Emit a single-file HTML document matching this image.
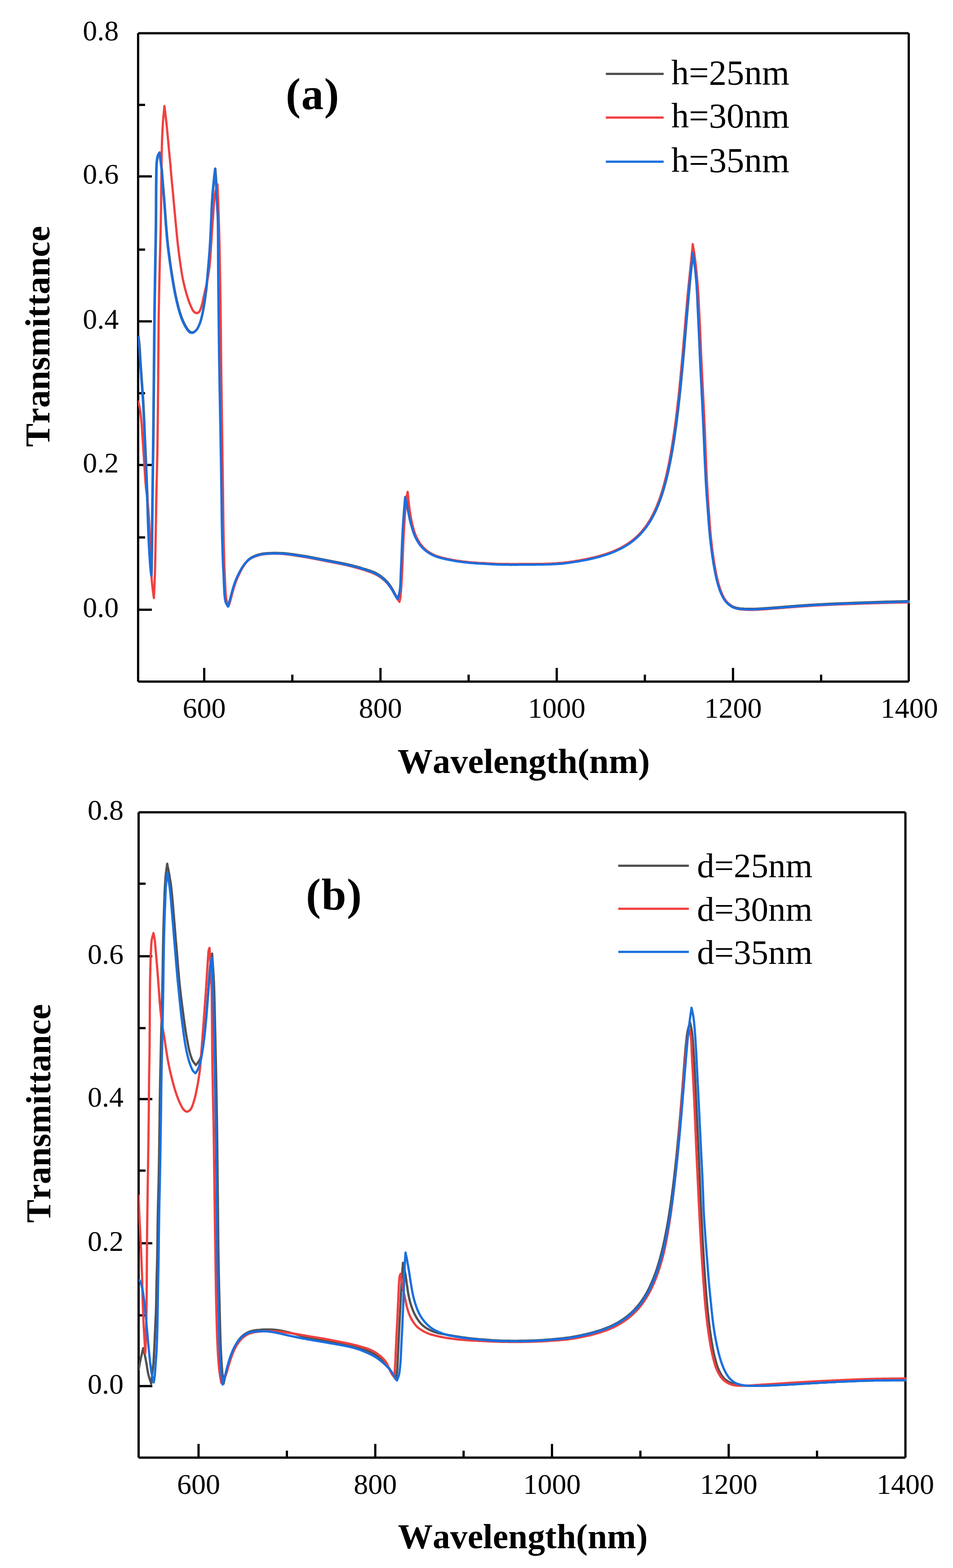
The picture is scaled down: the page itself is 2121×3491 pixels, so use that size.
<!DOCTYPE html>
<html lang="en">
<head>
<meta charset="utf-8">
<title>Transmittance spectra</title>
<style>
html,body{margin:0;padding:0;background:#fff;}
body{width:2121px;height:3491px;overflow:hidden;}
svg{display:block;font-family:"Liberation Serif",serif;font-kerning:none;}
</style>
</head>
<body>
<svg width="2121" height="3491" viewBox="0 0 2121 3491">
<rect width="2121" height="3491" fill="#fff"/>
<g>
<clipPath id="clipa"><rect x="306.9" y="73.9" width="1718.1" height="1443.6"/></clipPath>
<path d="M307.4 73.9 V1517.5 M2022.5 73.9 V1517.5 M307.4 73.9 H2022.5 M307.4 1517.5 H2022.5 M454.5 1517.5 V1487.0 M650.6 1517.5 V1502.0 M846.8 1517.5 V1487.0 M1043.0 1517.5 V1502.0 M1239.1 1517.5 V1487.0 M1435.2 1517.5 V1502.0 M1631.4 1517.5 V1487.0 M1827.5 1517.5 V1502.0 M307.4 233.6 H322.9 M307.4 392.8 H337.9 M307.4 555.8 H322.9 M307.4 715.4 H337.9 M307.4 875.4 H322.9 M307.4 1035.3 H337.9 M307.4 1196.4 H322.9 M307.4 1357.5 H337.9" fill="none" stroke="#000" stroke-width="5"/>
<g clip-path="url(#clipa)"><path d="M308.2 747.3 L308.5 750.0 L308.8 752.6 L309.1 755.2 L309.4 757.8 L309.7 760.5 L310.0 763.2 L310.3 766.0 L310.5 768.8 L310.7 771.1 L310.9 773.4 L311.1 775.8 L311.2 778.2 L311.4 780.6 L311.5 783.0 L311.6 785.5 L311.8 788.1 L311.9 790.6 L312.1 793.3 L312.2 796.0 L312.4 798.8 L312.6 801.0 L312.7 803.3 L312.9 805.7 L313.0 808.1 L313.2 810.5 L313.4 813.0 L313.5 815.6 L313.7 818.1 L313.9 820.7 L314.1 823.3 L314.3 826.0 L314.4 828.6 L314.6 831.2 L314.8 833.8 L315.0 836.4 L315.1 838.9 L315.3 841.5 L315.5 844.0 L315.7 846.4 L315.8 848.8 L316.0 851.4 L316.2 854.0 L316.4 856.6 L316.6 859.1 L316.8 861.6 L316.9 864.1 L317.1 866.6 L317.3 869.1 L317.5 871.5 L317.7 874.0 L317.8 876.5 L318.0 878.9 L318.2 881.4 L318.3 883.8 L318.5 886.3 L318.7 888.8 L318.8 891.3 L318.9 893.8 L319.1 896.2 L319.2 898.7 L319.4 901.2 L319.5 903.6 L319.6 906.1 L319.7 908.5 L319.9 911.0 L320.0 913.5 L320.1 916.0 L320.2 918.5 L320.4 921.0 L320.5 923.6 L320.6 926.2 L320.7 928.8 L320.8 931.2 L321.0 933.6 L321.1 936.0 L321.2 938.4 L321.3 940.9 L321.4 943.4 L321.5 945.9 L321.6 948.4 L321.7 950.9 L321.8 953.5 L321.9 956.0 L322.0 958.5 L322.1 961.1 L322.2 963.6 L322.3 966.2 L322.4 968.7 L322.5 971.2 L322.6 973.8 L322.8 976.3 L322.9 978.8 L323.0 981.3 L323.1 983.8 L323.2 986.2 L323.3 988.7 L323.4 991.1 L323.5 993.6 L323.6 996.0 L323.8 998.5 L323.9 1000.9 L324.0 1003.4 L324.1 1005.9 L324.2 1008.3 L324.3 1010.8 L324.4 1013.3 L324.6 1015.8 L324.7 1018.4 L324.8 1020.9 L324.9 1023.5 L325.0 1026.2 L325.1 1028.8 L325.2 1031.1 L325.3 1033.5 L325.4 1035.9 L325.5 1038.2 L325.6 1040.6 L325.7 1043.0 L325.8 1045.5 L325.9 1047.9 L326.0 1050.3 L326.1 1052.8 L326.2 1055.3 L326.3 1057.7 L326.4 1060.2 L326.5 1062.7 L326.6 1065.3 L326.7 1067.8 L326.8 1070.3 L326.9 1072.9 L327.0 1075.5 L327.1 1078.0 L327.2 1080.6 L327.3 1083.2 L327.4 1085.9 L327.5 1088.5 L327.6 1091.1 L327.7 1093.8 L327.8 1096.2 L327.9 1098.5 L328.0 1101.0 L328.1 1103.4 L328.1 1105.9 L328.2 1108.4 L328.3 1110.9 L328.4 1113.5 L328.5 1116.1 L328.6 1118.7 L328.7 1121.3 L328.7 1123.9 L328.8 1126.5 L328.9 1129.1 L329.0 1131.7 L329.1 1134.4 L329.2 1137.0 L329.2 1139.6 L329.3 1142.2 L329.4 1144.8 L329.5 1147.4 L329.6 1150.0 L329.7 1152.6 L329.8 1155.1 L329.8 1157.6 L329.9 1160.1 L330.0 1162.6 L330.1 1165.0 L330.2 1167.4 L330.3 1169.8 L330.4 1172.1 L330.5 1174.4 L330.5 1176.6 L330.6 1178.8 L330.7 1181.6 L330.9 1184.4 L331.0 1187.1 L331.1 1189.7 L331.2 1192.4 L331.3 1194.9 L331.4 1197.5 L331.5 1200.0 L331.6 1202.5 L331.7 1205.0 L331.9 1207.4 L332.0 1209.8 L332.1 1212.2 L332.2 1214.6 L332.3 1217.0 L332.5 1219.4 L332.6 1221.7 L332.7 1224.1 L332.9 1226.4 L333.0 1228.8 L333.2 1231.5 L333.3 1234.2 L333.5 1236.9 L333.7 1239.7 L333.9 1242.4 L334.1 1245.1 L334.3 1247.9 L334.5 1250.5 L334.7 1253.1 L334.8 1255.7 L335.0 1258.2 L335.2 1260.5 L335.4 1262.8 L335.6 1264.9 L335.8 1266.9 L336.0 1268.8 L336.4 1272.3 L336.7 1275.2 L337.1 1278.0 L337.5 1280.8 L337.5 1278.2 L337.6 1275.7 L337.6 1273.1 L337.7 1270.6 L337.7 1268.1 L337.7 1265.5 L337.8 1263.0 L337.8 1260.5 L337.8 1258.0 L337.9 1255.4 L337.9 1252.9 L338.0 1250.4 L338.0 1247.9 L338.0 1245.4 L338.1 1242.8 L338.1 1240.3 L338.2 1237.8 L338.2 1235.2 L338.2 1232.7 L338.3 1230.1 L338.3 1227.6 L338.4 1225.0 L338.4 1222.5 L338.4 1219.9 L338.5 1217.3 L338.5 1214.7 L338.5 1212.1 L338.6 1209.4 L338.6 1206.8 L338.6 1204.1 L338.7 1201.5 L338.7 1198.8 L338.8 1196.4 L338.8 1194.0 L338.8 1191.6 L338.8 1189.2 L338.9 1186.8 L338.9 1184.3 L338.9 1181.9 L339.0 1179.4 L339.0 1177.0 L339.0 1174.5 L339.0 1172.0 L339.1 1169.5 L339.1 1167.0 L339.1 1164.5 L339.2 1162.0 L339.2 1159.5 L339.2 1157.0 L339.2 1154.5 L339.3 1151.9 L339.3 1149.4 L339.3 1146.9 L339.4 1144.4 L339.4 1141.8 L339.4 1139.3 L339.4 1136.7 L339.5 1134.2 L339.5 1131.7 L339.5 1129.1 L339.5 1126.6 L339.6 1124.0 L339.6 1121.5 L339.6 1119.0 L339.7 1116.4 L339.7 1113.9 L339.7 1111.4 L339.8 1108.8 L339.8 1106.3 L339.8 1103.8 L339.8 1101.3 L339.9 1098.8 L339.9 1096.3 L339.9 1093.8 L340.0 1091.3 L340.0 1088.8 L340.0 1086.3 L340.1 1083.8 L340.1 1081.3 L340.1 1078.8 L340.2 1076.3 L340.2 1073.8 L340.2 1071.3 L340.3 1068.8 L340.3 1066.3 L340.3 1063.8 L340.4 1061.3 L340.4 1058.8 L340.4 1056.3 L340.5 1053.8 L340.5 1051.3 L340.6 1048.8 L340.6 1046.3 L340.6 1043.8 L340.7 1041.3 L340.7 1038.8 L340.7 1036.3 L340.8 1033.8 L340.8 1031.3 L340.8 1028.8 L340.9 1026.3 L340.9 1023.8 L340.9 1021.3 L341.0 1018.8 L341.0 1016.3 L341.0 1013.8 L341.1 1011.3 L341.1 1008.8 L341.1 1006.3 L341.2 1003.8 L341.2 1001.3 L341.2 998.8 L341.3 996.3 L341.3 993.8 L341.3 991.3 L341.3 988.8 L341.4 986.3 L341.4 983.8 L341.4 981.3 L341.5 978.8 L341.5 976.3 L341.5 973.8 L341.5 971.3 L341.6 968.8 L341.6 966.3 L341.6 963.8 L341.7 961.3 L341.7 958.8 L341.7 956.3 L341.7 953.8 L341.8 951.3 L341.8 948.8 L341.8 946.3 L341.8 943.8 L341.9 941.3 L341.9 938.8 L341.9 936.3 L341.9 933.8 L342.0 931.3 L342.0 928.8 L342.0 926.3 L342.0 923.8 L342.1 921.3 L342.1 918.8 L342.1 916.3 L342.1 913.8 L342.2 911.3 L342.2 908.8 L342.2 906.3 L342.2 903.8 L342.3 901.3 L342.3 898.8 L342.3 896.3 L342.4 893.8 L342.4 891.3 L342.4 888.8 L342.4 886.3 L342.5 883.8 L342.5 881.3 L342.5 878.8 L342.5 876.3 L342.6 873.8 L342.6 871.3 L342.6 868.8 L342.6 866.3 L342.6 863.8 L342.7 861.3 L342.7 858.8 L342.7 856.3 L342.7 853.8 L342.8 851.3 L342.8 848.8 L342.8 846.3 L342.8 843.8 L342.9 841.3 L342.9 838.8 L342.9 836.3 L342.9 833.8 L343.0 831.3 L343.0 828.8 L343.0 826.3 L343.0 823.8 L343.1 821.3 L343.1 818.8 L343.1 816.3 L343.1 813.8 L343.1 811.3 L343.2 808.8 L343.2 806.3 L343.2 803.8 L343.2 801.3 L343.3 798.8 L343.3 796.3 L343.3 793.8 L343.3 791.3 L343.4 788.8 L343.4 786.3 L343.4 783.8 L343.4 781.3 L343.5 778.8 L343.5 776.3 L343.5 773.8 L343.5 771.3 L343.5 768.8 L343.6 766.3 L343.6 763.8 L343.6 761.3 L343.6 758.8 L343.6 756.3 L343.7 753.8 L343.7 751.3 L343.7 748.8 L343.7 746.3 L343.8 743.8 L343.8 741.3 L343.8 738.8 L343.8 736.3 L343.9 733.8 L343.9 731.3 L343.9 728.8 L343.9 726.3 L344.0 723.8 L344.0 721.3 L344.0 718.8 L344.0 716.3 L344.1 713.8 L344.1 711.3 L344.1 708.8 L344.1 706.3 L344.2 703.8 L344.2 701.3 L344.2 698.8 L344.3 696.3 L344.3 693.8 L344.3 691.3 L344.4 688.8 L344.4 686.3 L344.4 683.8 L344.5 681.3 L344.5 678.8 L344.5 676.3 L344.6 673.8 L344.6 671.3 L344.7 668.8 L344.7 666.3 L344.7 663.8 L344.8 661.3 L344.8 658.8 L344.9 656.3 L344.9 653.8 L344.9 651.3 L345.0 648.8 L345.0 646.3 L345.1 643.8 L345.1 641.3 L345.2 638.8 L345.2 636.3 L345.2 633.8 L345.3 631.3 L345.3 628.8 L345.4 626.3 L345.4 623.8 L345.4 621.3 L345.5 618.8 L345.5 616.3 L345.6 613.8 L345.6 611.3 L345.7 608.8 L345.7 606.3 L345.7 603.8 L345.8 601.3 L345.8 598.8 L345.9 596.3 L345.9 593.8 L345.9 591.3 L346.0 588.8 L346.0 586.3 L346.1 583.8 L346.1 581.3 L346.1 578.8 L346.2 576.3 L346.2 573.8 L346.3 571.3 L346.3 568.8 L346.4 566.3 L346.4 563.8 L346.4 561.3 L346.5 558.8 L346.5 556.3 L346.6 553.8 L346.6 551.3 L346.7 548.8 L346.7 546.3 L346.7 543.8 L346.8 541.3 L346.8 538.8 L346.9 536.3 L346.9 533.8 L346.9 531.3 L347.0 528.8 L347.0 526.3 L347.1 523.8 L347.1 521.3 L347.1 518.8 L347.2 516.3 L347.2 513.8 L347.2 511.3 L347.3 508.8 L347.3 506.3 L347.3 503.8 L347.4 501.3 L347.4 498.8 L347.4 496.2 L347.4 493.6 L347.5 491.0 L347.5 488.3 L347.5 485.7 L347.5 483.0 L347.6 480.3 L347.6 477.5 L347.6 474.8 L347.6 472.1 L347.6 469.3 L347.6 466.6 L347.6 463.8 L347.7 461.0 L347.7 458.3 L347.7 455.5 L347.7 452.8 L347.7 450.1 L347.7 447.3 L347.7 444.6 L347.7 441.9 L347.8 439.3 L347.8 436.6 L347.8 434.0 L347.8 431.4 L347.8 428.8 L347.8 426.2 L347.8 423.7 L347.9 421.2 L347.9 418.8 L347.9 416.4 L347.9 414.0 L347.9 411.7 L348.0 409.4 L348.0 407.2 L348.0 405.0 L348.1 402.9 L348.1 400.8 L348.1 398.8 L348.2 395.6 L348.2 392.4 L348.3 389.3 L348.3 386.3 L348.3 383.4 L348.4 380.6 L348.4 377.8 L348.5 375.2 L348.5 372.6 L348.6 370.1 L348.7 367.6 L348.8 365.3 L349.0 363.1 L349.2 360.9 L349.4 358.9 L349.8 355.9 L350.2 353.0 L350.6 350.4 L351.1 348.1 L351.7 345.9 L352.3 344.0 L353.8 341.5 L355.3 339.3 L355.7 341.8 L356.0 344.3 L356.4 346.8 L356.8 349.2 L357.1 351.7 L357.5 354.2 L357.9 356.7 L358.2 359.2 L358.6 361.7 L358.9 364.2 L359.2 366.6 L359.5 369.1 L359.8 371.6 L360.0 374.1 L360.3 376.6 L360.5 379.1 L360.7 381.6 L360.9 384.2 L361.0 386.7 L361.2 389.2 L361.4 391.7 L361.6 394.2 L361.8 396.7 L362.0 399.2 L362.2 401.7 L362.4 404.2 L362.6 406.7 L362.8 409.2 L363.0 411.7 L363.2 414.2 L363.4 416.8 L363.7 419.3 L363.9 421.8 L364.1 424.3 L364.3 426.8 L364.5 429.3 L364.7 431.8 L364.9 434.3 L365.1 436.8 L365.3 439.2 L365.5 441.7 L365.7 444.2 L365.9 446.7 L366.1 449.2 L366.3 451.7 L366.5 454.2 L366.7 456.7 L366.8 459.3 L367.0 461.8 L367.2 464.3 L367.4 466.8 L367.6 469.3 L367.7 471.8 L367.9 474.3 L368.1 476.9 L368.3 479.4 L368.5 482.0 L368.7 484.7 L368.8 487.3 L369.1 490.0 L369.3 492.8 L369.5 495.2 L369.6 497.6 L369.8 500.1 L370.0 502.6 L370.2 505.1 L370.4 507.7 L370.6 510.3 L370.9 512.9 L371.1 515.5 L371.3 518.2 L371.5 520.8 L371.7 523.4 L372.0 526.0 L372.2 528.6 L372.4 531.2 L372.7 533.8 L372.9 536.3 L373.2 538.8 L373.5 541.4 L373.7 543.9 L374.0 546.5 L374.3 549.0 L374.6 551.5 L374.9 554.1 L375.2 556.6 L375.5 559.1 L375.8 561.6 L376.2 564.0 L376.5 566.5 L376.8 569.0 L377.1 571.5 L377.5 574.0 L377.8 576.5 L378.1 579.0 L378.5 581.5 L378.8 584.0 L379.2 586.5 L379.5 589.0 L379.9 591.5 L380.3 594.0 L380.6 596.5 L381.0 599.0 L381.4 601.5 L381.8 604.0 L382.1 606.5 L382.5 609.0 L382.9 611.5 L383.3 614.0 L383.7 616.5 L384.1 619.0 L384.6 621.5 L385.0 624.0 L385.4 626.5 L385.8 629.0 L386.2 631.5 L386.7 634.0 L387.1 636.5 L387.5 639.0 L388.0 641.5 L388.4 644.0 L388.9 646.5 L389.4 649.0 L389.9 651.5 L390.4 654.0 L390.9 656.5 L391.4 659.0 L392.0 661.5 L392.6 664.1 L393.1 666.7 L393.7 669.3 L394.3 671.9 L395.0 674.5 L395.6 677.1 L396.2 679.7 L396.9 682.3 L397.5 684.8 L398.2 687.3 L398.9 689.8 L399.6 692.2 L400.3 694.5 L401.0 696.8 L401.7 699.0 L402.6 701.7 L403.5 704.3 L404.4 706.9 L405.4 709.4 L406.4 711.8 L407.3 714.2 L408.3 716.4 L409.4 718.7 L410.4 720.8 L411.5 722.9 L412.9 725.4 L414.3 727.8 L415.7 730.2 L417.2 732.4 L418.7 734.5 L420.1 736.2 L421.6 737.6 L424.8 739.6 L428.0 740.1 L430.8 739.4 L433.7 737.8 L436.3 735.5 L437.9 733.7 L439.4 731.5 L440.8 729.1 L442.1 726.5 L443.3 723.7 L444.5 721.0 L445.4 718.8 L446.2 716.5 L446.9 714.2 L447.6 711.8 L448.3 709.4 L448.9 706.9 L449.5 704.3 L450.1 701.7 L450.7 699.1 L451.2 696.8 L451.7 694.4 L452.2 692.0 L452.7 689.5 L453.1 687.0 L453.5 684.4 L454.0 681.9 L454.4 679.3 L454.8 676.7 L455.2 674.1 L455.6 671.6 L456.0 669.1 L456.3 666.6 L456.7 664.1 L457.0 661.7 L457.4 659.2 L457.7 656.8 L458.0 654.4 L458.3 651.9 L458.7 649.4 L459.0 646.9 L459.3 644.3 L459.6 641.7 L459.9 639.1 L460.1 636.7 L460.4 634.3 L460.6 631.9 L460.8 629.5 L461.1 627.0 L461.3 624.5 L461.5 621.9 L461.8 619.4 L462.0 616.9 L462.2 614.3 L462.4 611.7 L462.7 609.2 L462.9 606.6 L463.1 604.1 L463.3 601.5 L463.5 599.0 L463.8 596.5 L464.0 594.0 L464.2 591.5 L464.4 588.9 L464.6 586.4 L464.9 583.9 L465.1 581.3 L465.3 578.8 L465.5 576.3 L465.7 573.8 L465.9 571.3 L466.1 568.8 L466.3 566.3 L466.5 563.8 L466.7 561.3 L466.9 558.9 L467.1 556.2 L467.3 553.6 L467.4 550.9 L467.6 548.2 L467.8 545.6 L467.9 542.9 L468.1 540.3 L468.3 537.7 L468.4 535.1 L468.5 532.5 L468.7 530.0 L468.8 527.6 L468.9 525.1 L469.1 522.8 L469.2 520.0 L469.3 517.3 L469.5 514.8 L469.6 512.3 L469.7 509.8 L469.8 507.3 L469.9 504.6 L470.0 501.8 L470.2 498.8 L470.3 496.6 L470.4 494.3 L470.5 491.9 L470.6 489.4 L470.7 486.8 L470.8 484.2 L470.9 481.5 L471.0 478.7 L471.1 476.0 L471.2 473.2 L471.3 470.4 L471.4 467.6 L471.6 464.9 L471.7 462.1 L471.8 459.4 L471.9 456.8 L472.1 454.2 L472.2 451.7 L472.3 449.3 L472.5 446.5 L472.7 443.7 L472.9 441.1 L473.1 438.4 L473.2 435.9 L473.4 433.3 L473.6 430.8 L473.8 428.2 L474.0 425.7 L474.3 423.1 L474.5 420.5 L474.7 417.9 L475.0 415.2 L475.2 412.8 L475.4 410.4 L475.7 407.9 L475.9 405.5 L476.2 403.0 L476.5 400.5 L476.7 398.0 L477.0 395.5 L477.3 392.9 L477.6 390.4 L477.8 387.9 L478.1 385.4 L478.4 382.8 L478.7 380.3 L478.9 377.8 L479.2 375.3 L479.4 377.9 L479.6 380.5 L479.8 383.0 L480.0 385.6 L480.2 388.2 L480.4 390.8 L480.6 393.5 L480.8 396.3 L481.0 399.2 L481.1 401.4 L481.3 403.7 L481.4 406.1 L481.5 408.5 L481.6 411.0 L481.7 413.5 L481.9 416.0 L482.0 418.6 L482.1 421.2 L482.2 423.8 L482.3 426.4 L482.4 429.0 L482.6 431.6 L482.7 434.2 L482.8 436.8 L482.9 439.3 L483.1 441.8 L483.2 444.4 L483.4 447.0 L483.5 449.7 L483.7 452.3 L483.8 455.0 L484.0 457.6 L484.1 460.2 L484.3 462.9 L484.4 465.4 L484.6 467.9 L484.7 470.4 L484.8 472.8 L485.0 475.1 L485.1 477.3 L485.2 479.4 L485.3 482.4 L485.4 485.0 L485.5 487.4 L485.5 489.8 L485.6 492.4 L485.6 495.3 L485.7 498.8 L485.7 500.4 L485.7 502.1 L485.8 503.9 L485.8 505.8 L485.8 507.8 L485.8 509.9 L485.8 512.1 L485.9 514.3 L485.9 516.6 L485.9 518.9 L485.9 521.4 L485.9 523.8 L485.9 526.4 L486.0 529.0 L486.0 531.6 L486.0 534.3 L486.0 537.0 L486.0 539.8 L486.0 542.5 L486.0 545.4 L486.0 548.2 L486.1 551.0 L486.1 553.9 L486.1 556.8 L486.1 559.7 L486.1 562.6 L486.1 565.5 L486.1 568.4 L486.1 571.3 L486.1 574.1 L486.2 577.0 L486.2 579.8 L486.2 582.6 L486.2 585.4 L486.2 588.2 L486.2 590.9 L486.3 593.6 L486.3 596.2 L486.3 598.8 L486.3 601.3 L486.3 603.8 L486.3 606.3 L486.4 608.8 L486.4 611.3 L486.4 613.8 L486.4 616.3 L486.5 618.8 L486.5 621.3 L486.5 623.8 L486.5 626.3 L486.5 628.8 L486.6 631.3 L486.6 633.8 L486.6 636.3 L486.6 638.8 L486.6 641.3 L486.7 643.8 L486.7 646.3 L486.7 648.8 L486.7 651.3 L486.8 653.8 L486.8 656.3 L486.8 658.8 L486.8 661.3 L486.9 663.8 L486.9 666.3 L486.9 668.8 L486.9 671.3 L487.0 673.8 L487.0 676.3 L487.0 678.8 L487.0 681.3 L487.1 683.8 L487.1 686.3 L487.1 688.8 L487.1 691.3 L487.2 693.8 L487.2 696.3 L487.2 698.8 L487.3 701.3 L487.3 703.8 L487.3 706.3 L487.3 708.8 L487.4 711.2 L487.4 713.7 L487.4 716.2 L487.5 718.7 L487.5 721.1 L487.5 723.6 L487.5 726.0 L487.6 728.5 L487.6 731.0 L487.6 733.4 L487.7 735.9 L487.7 738.4 L487.7 740.8 L487.7 743.3 L487.8 745.8 L487.8 748.2 L487.8 750.7 L487.9 753.2 L487.9 755.7 L487.9 758.1 L488.0 760.6 L488.0 763.1 L488.0 765.6 L488.1 768.1 L488.1 770.6 L488.1 773.2 L488.2 775.7 L488.2 778.2 L488.2 780.8 L488.3 783.3 L488.3 785.9 L488.4 788.4 L488.4 791.0 L488.4 793.6 L488.5 796.2 L488.5 798.8 L488.5 801.2 L488.6 803.6 L488.6 806.0 L488.7 808.4 L488.7 810.8 L488.7 813.3 L488.8 815.7 L488.8 818.2 L488.9 820.6 L488.9 823.1 L488.9 825.6 L489.0 828.0 L489.0 830.5 L489.1 833.0 L489.1 835.5 L489.1 838.0 L489.2 840.5 L489.2 843.0 L489.3 845.5 L489.3 848.0 L489.4 850.5 L489.4 853.1 L489.5 855.6 L489.5 858.1 L489.5 860.6 L489.6 863.2 L489.6 865.7 L489.7 868.2 L489.7 870.8 L489.8 873.3 L489.8 875.9 L489.9 878.4 L489.9 880.9 L490.0 883.5 L490.0 886.0 L490.1 888.5 L490.1 891.1 L490.1 893.6 L490.2 896.1 L490.2 898.7 L490.3 901.2 L490.3 903.7 L490.4 906.2 L490.4 908.8 L490.5 911.3 L490.5 913.8 L490.6 916.3 L490.6 918.8 L490.6 921.3 L490.7 923.8 L490.7 926.4 L490.8 928.9 L490.8 931.5 L490.9 934.1 L490.9 936.7 L491.0 939.3 L491.0 941.9 L491.1 944.5 L491.1 947.1 L491.2 949.8 L491.2 952.4 L491.3 955.0 L491.3 957.7 L491.4 960.3 L491.4 963.0 L491.4 965.6 L491.5 968.2 L491.5 970.9 L491.6 973.5 L491.6 976.1 L491.7 978.8 L491.7 981.4 L491.8 984.0 L491.8 986.6 L491.9 989.2 L491.9 991.7 L492.0 994.3 L492.0 996.8 L492.1 999.3 L492.1 1001.9 L492.2 1004.3 L492.2 1006.8 L492.2 1009.3 L492.3 1011.7 L492.3 1014.1 L492.4 1016.5 L492.4 1018.8 L492.4 1021.2 L492.5 1023.5 L492.5 1025.8 L492.6 1028.0 L492.6 1030.2 L492.6 1032.4 L492.7 1034.6 L492.7 1036.7 L492.7 1038.8 L492.8 1041.7 L492.8 1044.5 L492.9 1047.2 L492.9 1049.8 L492.9 1052.4 L493.0 1054.9 L493.0 1057.3 L493.0 1059.8 L493.1 1062.1 L493.1 1064.5 L493.1 1066.8 L493.2 1069.1 L493.2 1071.4 L493.2 1073.8 L493.3 1076.1 L493.3 1078.4 L493.3 1080.8 L493.4 1083.2 L493.4 1085.7 L493.4 1088.2 L493.5 1090.7 L493.5 1093.3 L493.5 1096.0 L493.6 1098.8 L493.6 1101.0 L493.7 1103.2 L493.7 1105.5 L493.7 1107.8 L493.7 1110.2 L493.8 1112.5 L493.8 1114.9 L493.8 1117.4 L493.9 1119.8 L493.9 1122.3 L493.9 1124.8 L494.0 1127.3 L494.0 1129.8 L494.0 1132.4 L494.1 1134.9 L494.1 1137.5 L494.1 1140.1 L494.2 1142.7 L494.2 1145.3 L494.2 1147.9 L494.3 1150.5 L494.3 1153.1 L494.4 1155.8 L494.4 1158.4 L494.4 1161.0 L494.5 1163.6 L494.5 1166.2 L494.6 1168.8 L494.6 1171.4 L494.7 1174.0 L494.7 1176.5 L494.8 1179.1 L494.8 1181.6 L494.9 1184.2 L494.9 1186.7 L495.0 1189.1 L495.0 1191.6 L495.1 1194.0 L495.1 1196.4 L495.2 1198.8 L495.3 1201.4 L495.4 1204.1 L495.4 1206.7 L495.5 1209.3 L495.6 1211.9 L495.7 1214.5 L495.7 1217.1 L495.8 1219.7 L495.9 1222.3 L496.0 1224.8 L496.1 1227.4 L496.1 1230.0 L496.2 1232.5 L496.3 1235.0 L496.4 1237.6 L496.5 1240.1 L496.6 1242.6 L496.7 1245.1 L496.8 1247.6 L496.9 1250.0 L497.0 1252.5 L497.1 1255.0 L497.2 1257.4 L497.3 1259.8 L497.4 1262.2 L497.5 1264.6 L497.6 1267.0 L497.8 1269.4 L497.9 1271.8 L498.0 1274.1 L498.1 1276.5 L498.3 1278.8 L498.4 1281.5 L498.6 1284.3 L498.7 1287.1 L498.8 1289.9 L498.9 1292.7 L499.0 1295.6 L499.1 1298.4 L499.3 1301.3 L499.4 1304.1 L499.5 1306.9 L499.6 1309.7 L499.8 1312.5 L499.9 1315.1 L500.1 1317.8 L500.2 1320.3 L500.4 1322.8 L500.7 1325.2 L500.9 1327.5 L501.1 1329.7 L501.4 1331.8 L501.7 1333.7 L502.0 1335.5 L502.4 1337.2 L502.8 1338.8 L504.0 1342.1 L505.4 1344.6 L506.8 1346.9 L508.2 1349.3 L509.0 1346.5 L509.7 1343.8 L510.5 1341.1 L511.3 1338.2 L512.1 1335.3 L512.7 1332.9 L513.4 1330.5 L514.0 1328.0 L514.6 1325.5 L515.3 1322.9 L516.0 1320.3 L516.6 1317.8 L517.3 1315.2 L518.1 1312.7 L518.8 1310.2 L519.5 1307.7 L520.3 1305.2 L521.1 1302.7 L521.9 1300.2 L522.7 1297.8 L523.6 1295.3 L524.6 1292.7 L525.7 1290.1 L526.7 1287.5 L527.9 1284.9 L529.1 1282.4 L530.3 1279.8 L531.5 1277.3 L532.7 1275.0 L533.9 1272.7 L535.1 1270.4 L536.4 1268.0 L537.7 1265.8 L539.0 1263.5 L540.4 1261.4 L541.7 1259.4 L543.3 1257.2 L544.9 1255.0 L546.5 1253.0 L548.2 1251.0 L549.9 1249.2 L551.6 1247.4 L553.5 1245.7 L555.3 1244.1 L557.3 1242.7 L559.3 1241.3 L561.7 1240.0 L563.8 1239.0 L566.1 1238.0 L568.6 1237.0 L571.1 1236.1 L573.7 1235.2 L576.4 1234.5 L579.0 1233.8 L581.6 1233.2 L584.3 1232.7 L587.1 1232.3 L589.9 1232.0 L592.6 1231.8 L595.4 1231.6 L598.1 1231.5 L600.8 1231.3 L603.7 1231.2 L606.5 1231.1 L609.4 1231.1 L612.2 1231.1 L615.0 1231.1 L617.8 1231.1 L620.6 1231.2 L623.5 1231.2 L626.3 1231.3 L629.2 1231.5 L632.0 1231.6 L634.8 1231.9 L637.4 1232.1 L640.0 1232.4 L642.5 1232.7 L645.1 1233.0 L647.8 1233.4 L650.8 1233.8 L653.0 1234.1 L655.3 1234.4 L657.6 1234.8 L660.1 1235.1 L662.6 1235.5 L665.2 1235.9 L667.8 1236.3 L670.4 1236.7 L673.1 1237.1 L675.7 1237.5 L678.4 1237.9 L681.0 1238.3 L683.5 1238.8 L686.0 1239.2 L688.6 1239.7 L691.1 1240.1 L693.7 1240.6 L696.3 1241.1 L698.9 1241.6 L701.5 1242.1 L704.1 1242.6 L706.7 1243.1 L709.2 1243.6 L711.8 1244.1 L714.4 1244.6 L717.0 1245.1 L719.5 1245.6 L722.1 1246.1 L724.7 1246.6 L727.3 1247.1 L729.8 1247.6 L732.4 1248.1 L735.0 1248.6 L737.5 1249.1 L740.1 1249.6 L742.7 1250.1 L745.2 1250.6 L747.8 1251.1 L750.4 1251.7 L752.9 1252.2 L755.5 1252.7 L758.1 1253.2 L760.6 1253.7 L763.2 1254.2 L765.7 1254.8 L768.3 1255.3 L770.9 1255.9 L773.4 1256.4 L776.0 1257.0 L778.5 1257.6 L781.1 1258.2 L783.7 1258.9 L786.3 1259.6 L789.0 1260.3 L791.7 1261.0 L794.4 1261.7 L797.1 1262.5 L799.7 1263.2 L802.4 1264.0 L804.9 1264.8 L807.5 1265.5 L809.9 1266.3 L812.3 1267.0 L814.6 1267.7 L817.3 1268.6 L820.0 1269.5 L822.6 1270.3 L825.1 1271.2 L827.5 1272.0 L829.8 1272.9 L832.1 1273.9 L834.3 1274.9 L836.8 1276.1 L839.1 1277.3 L841.3 1278.6 L843.5 1280.0 L845.6 1281.4 L847.8 1282.9 L849.7 1284.4 L851.7 1286.0 L853.7 1287.6 L855.6 1289.3 L857.5 1291.1 L859.3 1292.9 L861.0 1294.7 L862.9 1296.8 L864.6 1298.9 L866.4 1301.1 L868.0 1303.4 L869.5 1305.7 L871.0 1307.9 L872.6 1310.5 L874.1 1313.1 L875.5 1315.7 L876.9 1318.3 L878.3 1320.9 L879.7 1323.3 L881.1 1325.7 L882.5 1328.0 L884.0 1330.4 L885.4 1332.7 L886.1 1330.4 L886.8 1328.1 L887.6 1325.9 L888.3 1323.7 L889.0 1321.3 L889.6 1318.7 L890.2 1315.8 L890.5 1313.9 L890.8 1311.9 L891.0 1309.8 L891.2 1307.6 L891.4 1305.3 L891.6 1303.0 L891.7 1300.6 L891.9 1298.1 L892.0 1295.5 L892.1 1292.9 L892.2 1290.3 L892.3 1287.6 L892.4 1284.9 L892.5 1282.2 L892.6 1279.4 L892.7 1276.7 L892.8 1273.9 L892.9 1271.2 L893.0 1268.5 L893.2 1265.8 L893.3 1263.4 L893.4 1261.0 L893.5 1258.5 L893.6 1256.0 L893.7 1253.4 L893.8 1250.9 L893.9 1248.3 L894.0 1245.7 L894.1 1243.1 L894.3 1240.4 L894.4 1237.8 L894.5 1235.1 L894.6 1232.5 L894.7 1229.8 L894.8 1227.1 L894.9 1224.5 L895.0 1221.9 L895.1 1219.2 L895.2 1216.6 L895.3 1214.0 L895.4 1211.5 L895.5 1208.9 L895.6 1206.4 L895.7 1204.0 L895.8 1201.5 L896.0 1199.1 L896.1 1196.4 L896.2 1193.8 L896.4 1191.2 L896.5 1188.6 L896.7 1186.0 L896.8 1183.4 L896.9 1180.9 L897.1 1178.4 L897.2 1175.9 L897.4 1173.4 L897.5 1170.9 L897.7 1168.4 L897.8 1166.0 L898.0 1163.5 L898.2 1161.1 L898.3 1158.7 L898.5 1156.2 L898.6 1153.8 L898.8 1151.4 L899.0 1149.0 L899.2 1146.4 L899.3 1143.8 L899.5 1141.3 L899.7 1138.7 L899.9 1136.2 L900.1 1133.7 L900.3 1131.1 L900.5 1128.6 L900.7 1126.1 L901.0 1123.7 L901.2 1121.2 L901.4 1118.7 L901.6 1116.2 L901.8 1113.7 L902.0 1111.2 L902.2 1108.7 L902.4 1106.2 L903.0 1108.8 L903.5 1111.4 L904.1 1113.9 L904.6 1116.5 L905.2 1119.1 L905.7 1121.6 L906.3 1124.2 L906.9 1126.9 L907.4 1129.6 L908.0 1132.3 L908.5 1134.8 L909.1 1137.3 L909.6 1139.8 L910.1 1142.4 L910.6 1145.0 L911.2 1147.6 L911.7 1150.3 L912.3 1152.9 L912.8 1155.5 L913.4 1158.1 L914.0 1160.7 L914.6 1163.1 L915.3 1165.6 L916.0 1168.1 L916.7 1170.7 L917.4 1173.2 L918.1 1175.7 L918.9 1178.1 L919.6 1180.5 L920.4 1182.9 L921.2 1185.3 L922.1 1187.6 L923.0 1189.8 L924.0 1192.1 L925.1 1194.5 L926.2 1196.9 L927.4 1199.2 L928.7 1201.5 L929.9 1203.7 L931.3 1205.9 L932.6 1208.0 L934.0 1210.0 L935.5 1212.0 L937.2 1214.2 L938.9 1216.2 L940.8 1218.2 L942.6 1220.0 L944.6 1221.8 L946.6 1223.6 L948.6 1225.3 L950.8 1226.9 L953.1 1228.5 L955.4 1230.0 L957.8 1231.4 L960.3 1232.8 L962.7 1234.1 L965.1 1235.3 L967.4 1236.3 L969.6 1237.2 L971.9 1238.1 L974.1 1238.8 L976.5 1239.6 L979.0 1240.3 L981.7 1241.1 L983.9 1241.7 L986.2 1242.3 L988.6 1242.8 L991.1 1243.4 L993.7 1244.0 L996.3 1244.6 L999.0 1245.1 L1001.7 1245.6 L1004.4 1246.2 L1007.1 1246.7 L1009.8 1247.2 L1012.5 1247.6 L1015.1 1248.1 L1017.6 1248.5 L1020.2 1248.9 L1022.8 1249.2 L1025.3 1249.6 L1027.9 1249.9 L1030.5 1250.3 L1033.0 1250.6 L1035.6 1250.9 L1038.2 1251.1 L1040.8 1251.4 L1043.3 1251.7 L1045.9 1251.9 L1048.4 1252.2 L1051.1 1252.4 L1053.9 1252.6 L1056.6 1252.8 L1059.3 1253.0 L1062.0 1253.2 L1064.7 1253.4 L1067.4 1253.5 L1070.1 1253.7 L1072.8 1253.8 L1075.5 1254.0 L1078.1 1254.1 L1080.8 1254.3 L1083.3 1254.4 L1085.8 1254.6 L1088.2 1254.7 L1090.6 1254.9 L1093.0 1255.0 L1095.4 1255.1 L1097.8 1255.3 L1100.3 1255.4 L1102.8 1255.5 L1105.4 1255.6 L1108.0 1255.7 L1110.8 1255.8 L1113.0 1255.9 L1115.3 1255.9 L1117.6 1256.0 L1120.0 1256.0 L1122.5 1256.1 L1124.9 1256.1 L1127.4 1256.1 L1130.0 1256.1 L1132.5 1256.1 L1135.1 1256.2 L1137.7 1256.2 L1140.3 1256.2 L1142.9 1256.2 L1145.5 1256.2 L1148.2 1256.2 L1150.8 1256.2 L1153.4 1256.2 L1155.9 1256.1 L1158.5 1256.1 L1161.0 1256.1 L1163.5 1256.1 L1166.1 1256.1 L1168.7 1256.1 L1171.4 1256.1 L1174.1 1256.1 L1176.8 1256.1 L1179.5 1256.1 L1182.1 1256.0 L1184.8 1256.0 L1187.5 1256.0 L1190.1 1256.0 L1192.7 1256.0 L1195.3 1255.9 L1197.8 1255.9 L1200.2 1255.9 L1202.5 1255.8 L1204.8 1255.8 L1207.0 1255.8 L1209.1 1255.7 L1211.1 1255.7 L1214.4 1255.6 L1217.4 1255.5 L1220.2 1255.5 L1222.8 1255.4 L1225.4 1255.3 L1228.1 1255.2 L1230.8 1255.0 L1233.4 1254.9 L1236.0 1254.8 L1238.7 1254.6 L1241.4 1254.5 L1244.0 1254.3 L1246.5 1254.1 L1248.8 1254.0 L1250.8 1253.8 L1254.5 1253.5 L1257.8 1253.1 L1261.3 1252.6 L1264.7 1252.1 L1268.1 1251.7 L1271.6 1251.2 L1275.1 1250.6 L1278.6 1250.1 L1282.1 1249.6 L1285.5 1249.0 L1288.9 1248.4 L1292.4 1247.9 L1295.8 1247.2 L1299.3 1246.6 L1302.8 1245.9 L1306.2 1245.3 L1309.6 1244.5 L1313.0 1243.8 L1316.4 1243.0 L1319.9 1242.3 L1323.3 1241.4 L1326.7 1240.6 L1330.1 1239.7 L1333.5 1238.9 L1336.8 1237.9 L1340.2 1237.0 L1343.5 1235.9 L1346.9 1234.9 L1350.2 1233.8 L1353.6 1232.7 L1356.9 1231.5 L1360.2 1230.3 L1363.5 1229.0 L1366.8 1227.7 L1370.0 1226.3 L1373.2 1224.9 L1376.4 1223.4 L1379.6 1221.9 L1382.7 1220.2 L1385.9 1218.6 L1388.9 1216.8 L1392.0 1215.1 L1395.0 1213.2 L1398.1 1211.3 L1401.0 1209.4 L1403.9 1207.4 L1406.7 1205.2 L1409.6 1203.1 L1412.3 1200.8 L1415.1 1198.5 L1417.7 1196.1 L1420.4 1193.7 L1422.9 1191.2 L1425.4 1188.7 L1427.8 1186.0 L1430.3 1183.3 L1432.6 1180.5 L1434.9 1177.8 L1437.0 1174.9 L1439.2 1172.1 L1441.2 1169.1 L1443.3 1166.2 L1445.2 1163.1 L1447.2 1160.1 L1449.0 1157.0 L1450.9 1153.9 L1452.6 1150.7 L1454.3 1147.5 L1455.9 1144.3 L1457.6 1141.1 L1459.1 1137.8 L1460.6 1134.6 L1462.0 1131.3 L1463.5 1128.0 L1464.8 1124.6 L1466.2 1121.3 L1467.5 1117.9 L1468.8 1114.6 L1470.0 1111.2 L1471.2 1107.8 L1472.3 1104.4 L1473.5 1101.0 L1474.6 1097.5 L1475.7 1094.1 L1476.7 1090.7 L1477.7 1087.3 L1478.7 1083.9 L1479.7 1080.4 L1480.6 1076.9 L1481.6 1073.4 L1482.4 1069.9 L1483.3 1066.5 L1484.2 1063.0 L1485.0 1059.5 L1485.8 1056.0 L1486.7 1052.6 L1487.4 1049.1 L1488.2 1045.6 L1489.0 1042.1 L1489.7 1038.6 L1490.4 1035.1 L1491.2 1031.6 L1491.8 1028.1 L1492.5 1024.6 L1493.2 1021.1 L1493.9 1017.6 L1494.5 1014.1 L1495.1 1010.6 L1495.8 1007.1 L1496.4 1003.6 L1497.0 1000.1 L1497.6 996.6 L1498.1 993.0 L1498.7 989.5 L1499.3 986.0 L1499.8 982.5 L1500.3 979.0 L1500.9 975.5 L1501.4 972.0 L1501.9 968.5 L1502.4 965.0 L1502.9 961.4 L1503.4 957.9 L1503.9 954.4 L1504.4 950.9 L1504.9 947.4 L1505.3 943.8 L1505.8 940.3 L1506.3 936.8 L1506.7 933.3 L1507.2 929.8 L1507.6 926.3 L1508.0 922.7 L1508.5 919.2 L1508.9 915.7 L1509.3 912.2 L1509.7 908.7 L1510.1 905.2 L1510.5 901.6 L1510.9 898.1 L1511.3 894.6 L1511.7 891.1 L1512.1 887.6 L1512.5 884.1 L1512.9 880.6 L1513.2 877.0 L1513.6 873.5 L1514.0 870.0 L1514.3 866.5 L1514.7 863.0 L1515.1 859.5 L1515.4 856.0 L1515.8 852.5 L1516.1 848.9 L1516.5 845.4 L1516.8 841.9 L1517.1 838.4 L1517.5 834.9 L1517.8 831.4 L1518.1 827.9 L1518.4 824.4 L1518.8 820.9 L1519.1 817.3 L1519.4 813.8 L1519.8 810.3 L1520.1 806.8 L1520.4 803.3 L1520.7 799.8 L1521.0 796.3 L1521.3 792.8 L1521.7 789.3 L1522.0 785.8 L1522.3 782.3 L1522.6 778.8 L1522.9 775.3 L1523.2 771.8 L1523.5 768.3 L1523.8 764.8 L1524.1 761.3 L1524.4 757.8 L1524.7 754.3 L1525.0 750.8 L1525.3 747.3 L1525.6 743.8 L1525.9 740.3 L1526.2 736.8 L1526.5 733.3 L1526.7 729.8 L1527.0 726.4 L1527.3 722.9 L1527.6 719.4 L1527.9 715.9 L1528.2 712.4 L1528.5 708.9 L1528.8 705.4 L1529.1 702.0 L1529.4 698.5 L1529.7 695.0 L1530.0 691.5 L1530.3 688.1 L1530.6 684.6 L1530.9 681.1 L1531.2 677.6 L1531.5 674.2 L1531.8 670.7 L1532.1 667.3 L1532.4 663.9 L1532.7 660.4 L1533.0 656.9 L1533.4 653.5 L1533.7 650.0 L1534.0 646.6 L1534.3 643.4 L1534.7 639.8 L1534.9 637.6 L1535.1 635.1 L1535.3 632.4 L1535.6 629.6 L1535.8 626.6 L1536.1 623.6 L1536.4 620.6 L1536.6 618.1 L1536.9 615.5 L1537.1 612.8 L1537.4 610.1 L1537.7 607.4 L1538.0 604.6 L1538.3 601.9 L1538.6 599.3 L1538.8 596.7 L1539.1 594.2 L1539.5 591.4 L1539.8 588.6 L1540.2 586.0 L1540.5 583.3 L1540.9 580.8 L1541.2 578.3 L1541.4 575.8 L1541.7 572.9 L1542.0 570.1 L1542.2 567.3 L1542.4 564.6 L1542.6 561.8 L1543.0 564.3 L1543.4 566.9 L1543.8 569.4 L1544.3 571.9 L1544.7 574.5 L1545.1 577.1 L1545.5 579.8 L1545.8 582.3 L1546.2 584.9 L1546.5 587.5 L1546.8 590.2 L1547.2 592.9 L1547.5 595.6 L1547.8 598.5 L1548.1 601.4 L1548.4 604.3 L1548.7 606.7 L1548.9 609.1 L1549.1 611.6 L1549.4 614.1 L1549.6 616.6 L1549.8 619.2 L1550.0 621.8 L1550.2 624.4 L1550.5 627.1 L1550.7 629.8 L1550.9 632.5 L1551.1 635.3 L1551.2 638.0 L1551.4 640.8 L1551.6 643.2 L1551.7 645.6 L1551.9 648.1 L1552.0 650.6 L1552.1 653.1 L1552.3 655.6 L1552.4 658.1 L1552.5 660.7 L1552.6 663.3 L1552.7 665.9 L1552.8 668.5 L1553.0 671.1 L1553.1 673.7 L1553.2 676.4 L1553.3 679.0 L1553.4 681.6 L1553.5 684.3 L1553.7 686.9 L1553.8 689.5 L1553.9 692.0 L1554.0 694.4 L1554.1 696.9 L1554.3 699.4 L1554.4 701.8 L1554.5 704.3 L1554.6 706.8 L1554.7 709.3 L1554.9 711.8 L1555.0 714.3 L1555.1 716.8 L1555.2 719.3 L1555.3 721.8 L1555.5 724.3 L1555.6 726.9 L1555.7 729.4 L1555.8 732.0 L1555.9 734.5 L1556.1 737.1 L1556.2 739.7 L1556.3 742.3 L1556.4 744.8 L1556.5 747.2 L1556.6 749.7 L1556.7 752.2 L1556.8 754.7 L1557.0 757.3 L1557.1 759.8 L1557.2 762.4 L1557.3 764.9 L1557.4 767.5 L1557.5 770.0 L1557.6 772.6 L1557.7 775.2 L1557.8 777.8 L1557.9 780.3 L1558.0 782.9 L1558.1 785.5 L1558.2 788.0 L1558.4 790.6 L1558.5 793.1 L1558.6 795.7 L1558.7 798.2 L1558.8 800.7 L1558.9 803.2 L1559.0 805.8 L1559.2 808.4 L1559.3 811.0 L1559.4 813.7 L1559.5 816.3 L1559.7 818.9 L1559.8 821.5 L1559.9 824.0 L1560.1 826.6 L1560.2 829.2 L1560.3 831.8 L1560.5 834.4 L1560.6 836.9 L1560.7 839.5 L1560.9 842.1 L1561.0 844.6 L1561.1 847.2 L1561.3 849.8 L1561.4 852.3 L1561.5 854.9 L1561.6 857.4 L1561.8 860.0 L1561.9 862.6 L1562.0 865.3 L1562.2 867.9 L1562.3 870.5 L1562.4 873.2 L1562.6 875.8 L1562.7 878.4 L1562.8 881.0 L1563.0 883.7 L1563.1 886.3 L1563.2 888.9 L1563.3 891.5 L1563.5 894.1 L1563.6 896.7 L1563.7 899.3 L1563.9 901.9 L1564.0 904.5 L1564.1 907.1 L1564.2 909.7 L1564.4 912.2 L1564.5 914.8 L1564.6 917.4 L1564.7 920.0 L1564.9 922.5 L1565.0 925.1 L1565.1 927.6 L1565.2 930.2 L1565.3 932.7 L1565.5 935.2 L1565.6 937.8 L1565.7 940.3 L1565.8 942.8 L1565.9 945.3 L1566.0 947.9 L1566.2 950.4 L1566.3 952.9 L1566.4 955.4 L1566.5 957.9 L1566.6 960.5 L1566.7 963.0 L1566.8 965.5 L1567.0 968.0 L1567.1 970.5 L1567.2 973.0 L1567.3 975.4 L1567.4 977.9 L1567.5 980.3 L1567.6 982.8 L1567.7 985.2 L1567.8 987.7 L1567.9 990.1 L1568.0 992.6 L1568.1 995.1 L1568.2 997.5 L1568.3 1000.1 L1568.4 1002.6 L1568.5 1005.1 L1568.6 1007.7 L1568.7 1010.3 L1568.8 1012.9 L1569.0 1015.6 L1569.1 1018.0 L1569.2 1020.4 L1569.3 1022.9 L1569.4 1025.4 L1569.5 1028.0 L1569.7 1030.5 L1569.8 1033.1 L1569.9 1035.7 L1570.0 1038.3 L1570.2 1040.9 L1570.3 1043.6 L1570.4 1046.2 L1570.5 1048.9 L1570.7 1051.5 L1570.8 1054.2 L1570.9 1056.8 L1571.1 1059.4 L1571.2 1062.1 L1571.3 1064.7 L1571.5 1067.3 L1571.6 1069.9 L1571.8 1072.4 L1571.9 1075.0 L1572.0 1077.5 L1572.2 1079.9 L1572.3 1082.4 L1572.5 1085.1 L1572.7 1087.7 L1572.8 1090.3 L1573.0 1092.9 L1573.2 1095.5 L1573.3 1098.1 L1573.5 1100.6 L1573.7 1103.2 L1573.9 1105.7 L1574.1 1108.2 L1574.2 1110.7 L1574.4 1113.2 L1574.6 1115.7 L1574.8 1118.2 L1575.0 1120.7 L1575.2 1123.2 L1575.3 1125.7 L1575.5 1128.2 L1575.7 1130.7 L1575.9 1133.3 L1576.1 1135.8 L1576.3 1138.4 L1576.5 1140.9 L1576.7 1143.5 L1576.9 1146.1 L1577.1 1148.7 L1577.3 1151.3 L1577.5 1153.9 L1577.6 1156.5 L1577.8 1159.1 L1578.0 1161.7 L1578.2 1164.3 L1578.4 1166.9 L1578.7 1169.5 L1578.9 1172.0 L1579.1 1174.6 L1579.3 1177.1 L1579.5 1179.6 L1579.7 1182.0 L1579.9 1184.5 L1580.2 1186.9 L1580.4 1189.3 L1580.7 1191.9 L1580.9 1194.6 L1581.2 1197.2 L1581.5 1199.8 L1581.8 1202.3 L1582.0 1204.9 L1582.3 1207.4 L1582.6 1209.9 L1582.9 1212.4 L1583.2 1214.8 L1583.5 1217.3 L1583.8 1219.7 L1584.1 1222.1 L1584.4 1224.5 L1584.8 1227.0 L1585.1 1229.4 L1585.5 1231.9 L1585.8 1234.5 L1586.2 1237.0 L1586.5 1239.5 L1586.9 1242.0 L1587.3 1244.5 L1587.7 1247.0 L1588.0 1249.4 L1588.4 1251.9 L1588.8 1254.3 L1589.3 1256.8 L1589.7 1259.2 L1590.1 1261.6 L1590.6 1264.1 L1591.0 1266.6 L1591.5 1269.1 L1592.0 1271.6 L1592.5 1274.2 L1593.0 1276.7 L1593.5 1279.2 L1594.0 1281.7 L1594.6 1284.2 L1595.1 1286.6 L1595.7 1289.1 L1596.3 1291.4 L1596.9 1293.8 L1597.5 1296.1 L1598.2 1298.6 L1598.9 1301.2 L1599.7 1303.7 L1600.4 1306.1 L1601.2 1308.6 L1602.0 1311.0 L1602.8 1313.3 L1603.7 1315.6 L1604.6 1317.8 L1605.5 1320.0 L1606.7 1322.6 L1608.0 1325.3 L1609.2 1327.8 L1610.6 1330.2 L1612.0 1332.6 L1613.5 1334.8 L1615.1 1337.0 L1616.7 1339.0 L1618.5 1340.9 L1620.3 1342.7 L1622.2 1344.5 L1624.2 1346.1 L1626.2 1347.5 L1628.2 1348.8 L1630.6 1350.2 L1633.0 1351.3 L1635.5 1352.2 L1638.2 1352.9 L1641.2 1353.6 L1643.4 1354.1 L1645.8 1354.4 L1648.4 1354.7 L1651.1 1354.9 L1653.9 1355.1 L1656.7 1355.3 L1659.5 1355.4 L1662.3 1355.5 L1665.1 1355.5 L1667.8 1355.6 L1670.4 1355.6 L1673.1 1355.6 L1675.6 1355.6 L1678.2 1355.5 L1680.8 1355.4 L1683.4 1355.3 L1686.1 1355.2 L1688.8 1355.0 L1691.6 1354.9 L1694.5 1354.7 L1696.8 1354.6 L1699.1 1354.5 L1701.4 1354.3 L1703.8 1354.1 L1706.2 1354.0 L1708.7 1353.8 L1711.2 1353.6 L1713.7 1353.4 L1716.2 1353.2 L1718.8 1353.0 L1721.4 1352.8 L1724.0 1352.6 L1726.6 1352.4 L1729.3 1352.2 L1731.9 1352.0 L1734.6 1351.8 L1737.0 1351.6 L1739.4 1351.4 L1741.8 1351.2 L1744.3 1351.0 L1746.8 1350.8 L1749.3 1350.6 L1751.8 1350.4 L1754.4 1350.2 L1757.0 1350.0 L1759.5 1349.8 L1762.1 1349.6 L1764.7 1349.4 L1767.3 1349.2 L1769.9 1349.0 L1772.5 1348.8 L1775.1 1348.6 L1777.7 1348.4 L1780.3 1348.2 L1782.9 1348.0 L1785.5 1347.8 L1788.0 1347.7 L1790.5 1347.5 L1793.1 1347.3 L1795.5 1347.2 L1798.0 1347.0 L1800.5 1346.8 L1803.0 1346.7 L1805.4 1346.5 L1807.9 1346.4 L1810.3 1346.2 L1812.8 1346.1 L1815.3 1345.9 L1817.8 1345.8 L1820.3 1345.6 L1822.8 1345.5 L1825.4 1345.4 L1828.0 1345.2 L1830.6 1345.1 L1833.2 1344.9 L1835.9 1344.8 L1838.6 1344.7 L1841.4 1344.5 L1843.7 1344.4 L1846.1 1344.3 L1848.6 1344.2 L1851.0 1344.1 L1853.5 1344.0 L1856.1 1343.9 L1858.6 1343.7 L1861.2 1343.6 L1863.9 1343.5 L1866.5 1343.4 L1869.2 1343.3 L1871.8 1343.2 L1874.5 1343.1 L1877.2 1343.0 L1879.9 1342.9 L1882.6 1342.8 L1885.3 1342.7 L1888.0 1342.6 L1890.7 1342.5 L1893.3 1342.4 L1896.0 1342.3 L1898.6 1342.2 L1901.2 1342.1 L1903.8 1342.0 L1906.3 1341.9 L1908.9 1341.8 L1911.3 1341.7 L1913.8 1341.7 L1916.2 1341.6 L1918.5 1341.5 L1920.8 1341.4 L1923.6 1341.3 L1926.3 1341.2 L1928.9 1341.1 L1931.5 1341.0 L1934.1 1340.9 L1936.6 1340.8 L1939.1 1340.7 L1941.5 1340.7 L1944.0 1340.6 L1946.4 1340.5 L1948.8 1340.4 L1951.2 1340.3 L1953.6 1340.2 L1956.0 1340.2 L1958.4 1340.1 L1960.8 1340.0 L1963.3 1339.9 L1965.8 1339.8 L1968.3 1339.8 L1970.8 1339.7 L1973.2 1339.6 L1975.7 1339.6 L1978.2 1339.5 L1980.6 1339.4 L1983.1 1339.4 L1985.6 1339.3 L1988.1 1339.2 L1990.6 1339.2 L1993.1 1339.1 L1995.6 1339.0 L1998.1 1339.0 L2000.7 1338.9 L2003.2 1338.9 L2005.7 1338.8 L2008.2 1338.7 L2010.7 1338.7 L2013.2 1338.6 L2015.8 1338.5 L2018.3 1338.5 L2020.8 1338.4 L2023.3 1338.4 L2025.8 1338.3" fill="none" stroke="#515151" stroke-width="5" stroke-linejoin="round" stroke-linecap="butt"/><path d="M307.5 892.0 L308.0 894.5 L308.6 896.9 L309.1 899.4 L309.6 901.8 L310.2 904.3 L310.7 906.8 L311.1 909.4 L311.6 912.1 L312.0 914.4 L312.3 916.8 L312.6 919.2 L312.9 921.7 L313.2 924.2 L313.5 926.7 L313.8 929.3 L314.0 931.9 L314.3 934.6 L314.5 937.3 L314.8 940.0 L315.0 942.3 L315.2 944.6 L315.4 947.0 L315.6 949.4 L315.8 951.8 L315.9 954.3 L316.1 956.8 L316.3 959.3 L316.4 961.8 L316.6 964.4 L316.8 966.9 L316.9 969.5 L317.1 972.1 L317.3 974.7 L317.4 977.4 L317.6 980.0 L317.8 982.4 L317.9 984.8 L318.1 987.2 L318.3 989.6 L318.4 992.1 L318.6 994.6 L318.8 997.1 L318.9 999.6 L319.1 1002.1 L319.3 1004.7 L319.4 1007.2 L319.6 1009.7 L319.8 1012.3 L319.9 1014.8 L320.1 1017.4 L320.3 1019.9 L320.4 1022.5 L320.6 1025.0 L320.8 1027.5 L320.9 1030.0 L321.1 1032.5 L321.3 1035.1 L321.4 1037.6 L321.6 1040.2 L321.8 1042.8 L321.9 1045.4 L322.1 1048.0 L322.3 1050.6 L322.4 1053.2 L322.6 1055.8 L322.8 1058.3 L322.9 1060.9 L323.1 1063.4 L323.3 1065.9 L323.5 1068.4 L323.6 1070.8 L323.8 1073.2 L324.0 1075.5 L324.2 1077.7 L324.4 1080.0 L324.7 1082.7 L324.9 1085.4 L325.2 1088.0 L325.5 1090.5 L325.8 1093.0 L326.1 1095.4 L326.4 1097.8 L326.7 1100.2 L327.0 1102.6 L327.3 1105.0 L327.6 1107.5 L327.8 1110.0 L328.1 1112.6 L328.3 1115.2 L328.6 1117.8 L328.9 1120.3 L329.1 1122.9 L329.4 1125.4 L329.6 1128.1 L329.8 1130.7 L330.1 1133.4 L330.3 1136.2 L330.5 1139.1 L330.7 1142.0 L330.9 1144.3 L331.1 1146.6 L331.2 1148.9 L331.4 1151.3 L331.5 1153.8 L331.7 1156.3 L331.8 1158.9 L332.0 1161.4 L332.1 1164.0 L332.2 1166.6 L332.4 1169.3 L332.5 1171.9 L332.6 1174.5 L332.8 1177.2 L332.9 1179.8 L333.0 1182.4 L333.1 1185.0 L333.3 1187.5 L333.4 1190.1 L333.5 1192.6 L333.6 1195.0 L333.7 1197.6 L333.9 1200.2 L334.0 1202.7 L334.1 1205.2 L334.2 1207.8 L334.3 1210.3 L334.4 1212.8 L334.5 1215.3 L334.6 1217.7 L334.7 1220.2 L334.8 1222.7 L334.9 1225.1 L335.0 1227.6 L335.1 1230.1 L335.2 1232.5 L335.3 1235.0 L335.4 1237.5 L335.5 1240.0 L335.6 1242.5 L335.7 1245.1 L335.7 1247.7 L335.8 1250.3 L335.9 1252.9 L336.0 1255.5 L336.1 1258.1 L336.2 1260.7 L336.3 1263.3 L336.4 1265.9 L336.5 1268.4 L336.6 1271.0 L336.7 1273.4 L336.8 1275.9 L336.9 1278.2 L337.1 1280.6 L337.2 1282.8 L337.3 1285.0 L337.5 1287.8 L337.7 1290.5 L337.9 1293.1 L338.2 1295.6 L338.4 1298.1 L338.6 1300.5 L338.9 1302.9 L339.1 1305.2 L339.4 1307.6 L339.6 1310.0 L340.0 1312.8 L340.3 1315.5 L340.7 1318.2 L341.0 1320.8 L341.4 1323.5 L341.8 1326.2 L342.1 1328.8 L342.5 1331.5 L342.6 1328.9 L342.7 1326.4 L342.8 1323.9 L343.0 1321.4 L343.1 1318.9 L343.2 1316.5 L343.3 1314.0 L343.4 1311.5 L343.5 1309.1 L343.6 1306.6 L343.8 1304.1 L343.9 1301.5 L344.0 1299.0 L344.1 1296.4 L344.2 1293.8 L344.3 1291.1 L344.4 1288.4 L344.5 1285.7 L344.6 1282.9 L344.7 1280.0 L344.8 1277.8 L344.8 1275.5 L344.9 1273.2 L345.0 1270.9 L345.0 1268.6 L345.1 1266.2 L345.1 1263.8 L345.2 1261.3 L345.3 1258.9 L345.3 1256.4 L345.4 1253.9 L345.4 1251.4 L345.5 1248.9 L345.5 1246.3 L345.6 1243.8 L345.6 1241.2 L345.7 1238.6 L345.7 1236.0 L345.8 1233.4 L345.8 1230.8 L345.9 1228.1 L345.9 1225.5 L346.0 1222.9 L346.0 1220.2 L346.1 1217.6 L346.1 1215.0 L346.1 1212.3 L346.2 1209.7 L346.2 1207.1 L346.3 1204.4 L346.3 1201.8 L346.4 1199.2 L346.4 1196.6 L346.5 1194.0 L346.5 1191.5 L346.6 1189.0 L346.6 1186.5 L346.7 1184.0 L346.7 1181.5 L346.8 1179.0 L346.8 1176.5 L346.8 1174.0 L346.9 1171.5 L346.9 1169.0 L347.0 1166.5 L347.0 1163.9 L347.1 1161.4 L347.1 1158.9 L347.1 1156.3 L347.2 1153.8 L347.2 1151.3 L347.3 1148.7 L347.3 1146.2 L347.4 1143.6 L347.4 1141.1 L347.4 1138.5 L347.5 1136.0 L347.5 1133.4 L347.6 1130.9 L347.6 1128.3 L347.7 1125.7 L347.7 1123.2 L347.7 1120.6 L347.8 1118.0 L347.8 1115.5 L347.9 1112.9 L347.9 1110.3 L348.0 1107.7 L348.0 1105.2 L348.1 1102.6 L348.1 1100.0 L348.2 1097.5 L348.2 1095.0 L348.3 1092.5 L348.3 1090.0 L348.4 1087.5 L348.4 1084.9 L348.5 1082.4 L348.6 1079.8 L348.6 1077.2 L348.7 1074.6 L348.7 1072.0 L348.8 1069.4 L348.9 1066.8 L348.9 1064.2 L349.0 1061.6 L349.0 1059.0 L349.1 1056.4 L349.2 1053.8 L349.2 1051.2 L349.3 1048.6 L349.3 1046.0 L349.4 1043.4 L349.5 1040.9 L349.5 1038.3 L349.6 1035.8 L349.6 1033.2 L349.7 1030.7 L349.8 1028.2 L349.8 1025.7 L349.9 1023.3 L349.9 1020.8 L350.0 1018.4 L350.0 1016.0 L350.1 1013.7 L350.1 1011.3 L350.2 1009.0 L350.2 1006.7 L350.3 1004.4 L350.3 1002.2 L350.3 1000.0 L350.4 997.2 L350.4 994.5 L350.5 991.9 L350.5 989.4 L350.5 986.9 L350.6 984.5 L350.6 982.1 L350.6 979.8 L350.7 977.5 L350.7 975.2 L350.7 972.9 L350.8 970.6 L350.8 968.3 L350.8 966.0 L350.8 963.7 L350.9 961.3 L350.9 958.9 L350.9 956.4 L350.9 953.9 L351.0 951.3 L351.0 948.6 L351.0 945.8 L351.1 943.0 L351.1 940.0 L351.1 938.0 L351.1 936.0 L351.2 933.9 L351.2 931.7 L351.2 929.6 L351.2 927.4 L351.3 925.1 L351.3 922.9 L351.3 920.6 L351.3 918.2 L351.4 915.8 L351.4 913.4 L351.4 911.0 L351.4 908.6 L351.5 906.1 L351.5 903.6 L351.5 901.0 L351.5 898.5 L351.5 895.9 L351.6 893.3 L351.6 890.7 L351.6 888.1 L351.6 885.5 L351.7 882.9 L351.7 880.2 L351.7 877.5 L351.7 874.9 L351.8 872.2 L351.8 869.5 L351.8 866.8 L351.8 864.1 L351.9 861.4 L351.9 858.7 L351.9 856.0 L351.9 853.3 L352.0 850.7 L352.0 848.0 L352.0 845.3 L352.0 842.6 L352.1 840.0 L352.1 837.3 L352.1 834.7 L352.1 832.1 L352.2 829.5 L352.2 826.9 L352.2 824.3 L352.2 821.8 L352.3 819.3 L352.3 816.8 L352.3 814.3 L352.3 811.8 L352.3 809.4 L352.4 807.0 L352.4 804.6 L352.4 802.3 L352.4 800.0 L352.5 797.3 L352.5 794.6 L352.5 792.0 L352.5 789.3 L352.5 786.7 L352.6 784.1 L352.6 781.5 L352.6 778.9 L352.6 776.4 L352.6 773.8 L352.7 771.3 L352.7 768.8 L352.7 766.3 L352.7 763.8 L352.7 761.3 L352.7 758.8 L352.8 756.3 L352.8 753.9 L352.8 751.4 L352.8 749.0 L352.8 746.5 L352.9 744.1 L352.9 741.6 L352.9 739.2 L352.9 736.8 L352.9 734.3 L353.0 731.9 L353.0 729.5 L353.0 727.0 L353.0 724.6 L353.0 722.2 L353.1 719.7 L353.1 717.3 L353.1 714.8 L353.2 712.4 L353.2 709.9 L353.2 707.5 L353.2 705.0 L353.3 702.5 L353.3 700.0 L353.3 697.5 L353.4 695.0 L353.4 692.5 L353.5 690.0 L353.5 687.5 L353.5 685.0 L353.6 682.5 L353.6 680.0 L353.7 677.5 L353.7 675.0 L353.8 672.5 L353.8 670.0 L353.8 667.5 L353.9 665.0 L353.9 662.5 L354.0 660.0 L354.0 657.5 L354.1 655.0 L354.1 652.5 L354.2 650.0 L354.2 647.5 L354.3 645.0 L354.3 642.5 L354.4 640.0 L354.4 637.5 L354.5 635.0 L354.5 632.5 L354.6 630.0 L354.6 627.5 L354.7 625.0 L354.8 622.5 L354.8 620.0 L354.9 617.5 L354.9 615.0 L355.0 612.5 L355.0 610.0 L355.1 607.5 L355.1 605.0 L355.2 602.5 L355.2 600.0 L355.3 597.5 L355.4 595.0 L355.4 592.5 L355.5 590.0 L355.5 587.5 L355.6 585.0 L355.7 582.5 L355.7 580.0 L355.8 577.5 L355.9 575.0 L355.9 572.5 L356.0 570.0 L356.1 567.5 L356.1 565.0 L356.2 562.5 L356.3 560.0 L356.4 557.5 L356.4 555.0 L356.5 552.5 L356.6 550.0 L356.6 547.5 L356.7 545.0 L356.8 542.5 L356.8 540.0 L356.9 537.5 L357.0 535.0 L357.0 532.5 L357.1 530.0 L357.2 527.5 L357.2 525.0 L357.3 522.5 L357.4 520.0 L357.4 517.5 L357.5 515.0 L357.5 512.5 L357.6 510.0 L357.6 507.5 L357.7 505.0 L357.8 502.5 L357.8 500.0 L357.8 497.5 L357.9 495.0 L357.9 492.5 L358.0 489.9 L358.0 487.4 L358.1 484.9 L358.1 482.4 L358.1 479.8 L358.2 477.3 L358.2 474.7 L358.3 472.2 L358.3 469.6 L358.3 467.1 L358.4 464.6 L358.4 462.0 L358.4 459.5 L358.4 456.9 L358.5 454.4 L358.5 451.8 L358.5 449.3 L358.6 446.8 L358.6 444.2 L358.6 441.7 L358.6 439.2 L358.7 436.7 L358.7 434.2 L358.7 431.7 L358.8 429.2 L358.8 426.7 L358.8 424.2 L358.8 421.7 L358.9 419.3 L358.9 416.8 L358.9 414.4 L359.0 412.0 L359.0 409.5 L359.0 407.1 L359.1 404.7 L359.1 402.4 L359.1 400.0 L359.2 397.4 L359.2 394.7 L359.2 392.1 L359.3 389.4 L359.3 386.8 L359.3 384.2 L359.4 381.6 L359.4 378.9 L359.4 376.3 L359.5 373.7 L359.5 371.1 L359.5 368.5 L359.6 365.9 L359.6 363.4 L359.6 360.8 L359.7 358.3 L359.7 355.7 L359.7 353.2 L359.8 350.7 L359.8 348.2 L359.8 345.8 L359.9 343.3 L359.9 340.9 L360.0 338.5 L360.0 336.1 L360.1 333.7 L360.1 331.4 L360.2 329.1 L360.2 326.8 L360.3 324.5 L360.4 322.2 L360.4 320.0 L360.5 317.2 L360.6 314.5 L360.7 311.8 L360.8 309.1 L360.9 306.5 L361.0 303.8 L361.1 301.3 L361.2 298.7 L361.3 296.2 L361.5 293.7 L361.6 291.2 L361.7 288.8 L361.8 286.3 L362.0 283.9 L362.1 281.6 L362.2 279.2 L362.4 276.9 L362.5 274.6 L362.7 272.3 L362.8 270.0 L363.0 267.2 L363.3 264.4 L363.5 261.7 L363.7 259.1 L364.0 256.5 L364.2 253.9 L364.5 251.3 L364.7 248.8 L365.0 246.3 L365.2 243.7 L365.5 241.2 L365.8 238.6 L366.0 236.0 L366.3 238.6 L366.6 241.3 L366.9 243.9 L367.3 246.5 L367.6 249.2 L367.9 251.8 L368.2 254.4 L368.5 257.1 L368.8 259.7 L369.1 262.3 L369.4 264.9 L369.7 267.5 L370.0 270.0 L370.3 272.6 L370.5 275.1 L370.8 277.6 L371.1 280.1 L371.3 282.6 L371.6 285.1 L371.8 287.5 L372.1 290.0 L372.3 292.5 L372.5 295.0 L372.8 297.6 L373.0 300.2 L373.3 302.7 L373.5 305.2 L373.7 307.8 L374.0 310.4 L374.2 313.0 L374.4 315.7 L374.7 318.3 L374.9 321.0 L375.1 323.6 L375.4 326.2 L375.6 328.8 L375.8 331.3 L376.1 333.8 L376.3 336.3 L376.6 339.0 L376.8 341.6 L377.1 344.2 L377.3 346.7 L377.6 349.3 L377.8 351.8 L378.1 354.3 L378.3 356.8 L378.6 359.3 L378.8 361.8 L379.0 364.3 L379.3 366.9 L379.5 369.4 L379.7 372.0 L379.9 374.5 L380.1 377.1 L380.3 379.6 L380.5 382.2 L380.7 384.7 L380.9 387.3 L381.1 389.8 L381.4 392.4 L381.6 394.9 L381.8 397.5 L382.1 400.0 L382.3 402.6 L382.6 405.1 L382.8 407.7 L383.1 410.2 L383.4 412.8 L383.6 415.3 L383.9 417.9 L384.1 420.4 L384.3 423.0 L384.6 425.5 L384.8 428.1 L385.0 430.6 L385.3 433.2 L385.5 435.7 L385.7 438.3 L385.9 440.8 L386.2 443.4 L386.4 445.9 L386.6 448.5 L386.9 451.1 L387.1 453.6 L387.3 456.2 L387.6 458.8 L387.8 461.4 L388.0 464.0 L388.3 466.6 L388.5 469.1 L388.7 471.6 L389.0 474.1 L389.2 476.6 L389.5 479.3 L389.7 481.8 L389.9 484.3 L390.2 486.8 L390.4 489.3 L390.6 491.8 L390.9 494.4 L391.1 497.1 L391.4 500.0 L391.6 502.2 L391.8 504.5 L392.1 506.8 L392.3 509.2 L392.5 511.7 L392.8 514.2 L393.0 516.8 L393.3 519.3 L393.5 521.9 L393.8 524.5 L394.0 527.1 L394.3 529.7 L394.6 532.3 L394.8 534.9 L395.1 537.5 L395.4 540.0 L395.7 542.5 L395.9 545.0 L396.2 547.5 L396.5 550.0 L396.8 552.5 L397.1 555.0 L397.4 557.5 L397.7 560.0 L398.0 562.5 L398.3 565.0 L398.7 567.5 L399.0 570.0 L399.3 572.5 L399.7 575.0 L400.0 577.5 L400.3 580.0 L400.7 582.5 L401.1 585.0 L401.4 587.5 L401.8 590.1 L402.2 592.6 L402.5 595.2 L402.9 597.7 L403.3 600.2 L403.7 602.8 L404.1 605.3 L404.5 607.8 L404.9 610.2 L405.3 612.7 L405.8 615.1 L406.2 617.5 L406.7 619.9 L407.2 622.5 L407.8 625.1 L408.3 627.7 L408.9 630.3 L409.5 632.8 L410.1 635.3 L410.7 637.8 L411.3 640.3 L411.9 642.8 L412.6 645.2 L413.2 647.6 L413.9 649.9 L414.5 652.2 L415.3 654.8 L416.0 657.3 L416.8 659.9 L417.5 662.3 L418.3 664.8 L419.1 667.2 L419.9 669.5 L420.8 671.8 L421.6 674.1 L422.5 676.3 L423.6 679.0 L424.8 681.9 L426.0 684.7 L427.2 687.3 L428.5 689.7 L429.8 691.8 L431.2 693.5 L433.5 695.5 L435.9 696.8 L438.2 697.2 L441.0 696.2 L443.6 693.8 L444.9 691.8 L446.0 689.3 L447.1 686.4 L448.0 683.4 L448.9 680.3 L449.6 678.0 L450.2 675.5 L450.8 673.0 L451.3 670.4 L451.9 667.8 L452.4 665.2 L452.9 662.7 L453.4 660.3 L454.0 657.7 L454.6 655.1 L455.2 652.7 L455.8 650.2 L456.4 647.6 L457.0 645.0 L457.5 642.6 L458.0 640.3 L458.6 637.8 L459.1 635.4 L459.7 632.9 L460.2 630.3 L460.8 627.7 L461.3 625.0 L461.7 622.5 L462.2 620.0 L462.7 617.4 L463.1 614.8 L463.6 612.1 L464.0 609.3 L464.4 606.6 L464.9 603.9 L465.2 601.2 L465.6 598.6 L465.9 596.0 L466.3 593.3 L466.5 590.7 L466.8 588.1 L467.0 585.6 L467.3 583.0 L467.5 580.5 L467.7 577.9 L467.9 575.3 L468.1 572.7 L468.3 570.0 L468.4 567.6 L468.6 565.2 L468.8 562.8 L469.0 560.3 L469.1 557.9 L469.3 555.4 L469.4 552.9 L469.6 550.4 L469.8 547.9 L469.9 545.3 L470.1 542.7 L470.3 540.0 L470.4 537.6 L470.6 535.2 L470.7 532.7 L470.9 530.1 L471.1 527.4 L471.2 524.8 L471.4 522.1 L471.5 519.5 L471.7 516.8 L471.9 514.2 L472.0 511.6 L472.2 509.1 L472.3 506.7 L472.5 504.4 L472.6 502.1 L472.8 500.0 L473.0 496.9 L473.2 494.1 L473.4 491.4 L473.6 488.8 L473.8 486.2 L474.0 483.5 L474.3 480.6 L474.4 478.3 L474.6 475.9 L474.8 473.4 L474.9 470.8 L475.1 468.2 L475.3 465.6 L475.5 462.9 L475.7 460.3 L475.9 457.7 L476.1 455.2 L476.3 452.8 L476.5 450.5 L476.8 447.8 L477.0 445.2 L477.3 442.7 L477.5 440.3 L477.8 437.9 L478.1 435.5 L478.5 433.1 L478.9 430.6 L479.4 428.1 L480.0 425.5 L480.6 423.0 L481.3 420.5 L482.0 418.0 L482.7 415.4 L483.3 412.9 L484.0 410.4 L484.1 412.9 L484.2 415.5 L484.3 418.0 L484.4 420.4 L484.5 422.9 L484.6 425.4 L484.7 427.8 L484.8 430.3 L484.9 432.7 L485.0 435.2 L485.1 437.7 L485.2 440.2 L485.3 442.7 L485.4 445.2 L485.5 447.7 L485.7 450.3 L485.8 452.9 L485.9 455.5 L486.0 458.2 L486.0 460.9 L486.1 463.7 L486.2 466.5 L486.3 468.8 L486.4 471.1 L486.5 473.4 L486.5 475.8 L486.6 478.2 L486.7 480.7 L486.8 483.2 L486.9 485.7 L486.9 488.3 L487.0 490.9 L487.1 493.5 L487.2 496.1 L487.2 498.8 L487.3 501.4 L487.4 504.1 L487.5 506.8 L487.5 509.5 L487.6 512.1 L487.7 514.8 L487.8 517.4 L487.8 520.1 L487.9 522.7 L488.0 525.3 L488.0 527.9 L488.1 530.5 L488.2 533.0 L488.2 535.5 L488.3 538.0 L488.4 540.4 L488.4 542.8 L488.5 545.1 L488.5 547.4 L488.6 549.7 L488.6 551.9 L488.7 554.0 L488.7 556.9 L488.8 559.6 L488.8 562.3 L488.9 564.8 L488.9 567.3 L489.0 569.7 L489.0 572.0 L489.1 574.4 L489.1 576.7 L489.1 579.0 L489.2 581.3 L489.2 583.7 L489.2 586.2 L489.3 588.7 L489.3 591.4 L489.4 594.1 L489.4 597.0 L489.4 600.0 L489.5 602.0 L489.5 604.0 L489.6 606.1 L489.6 608.3 L489.6 610.5 L489.7 612.7 L489.7 615.0 L489.7 617.3 L489.8 619.7 L489.8 622.1 L489.9 624.5 L489.9 627.0 L490.0 629.5 L490.0 632.0 L490.0 634.6 L490.1 637.1 L490.1 639.7 L490.2 642.3 L490.2 645.0 L490.3 647.6 L490.3 650.3 L490.3 652.9 L490.4 655.6 L490.4 658.3 L490.5 661.0 L490.5 663.7 L490.6 666.4 L490.6 669.1 L490.7 671.8 L490.7 674.5 L490.7 677.2 L490.8 679.8 L490.8 682.5 L490.9 685.1 L490.9 687.8 L490.9 690.4 L491.0 693.0 L491.0 695.6 L491.1 698.1 L491.1 700.6 L491.1 703.1 L491.2 705.6 L491.2 708.0 L491.2 710.4 L491.3 713.1 L491.3 715.7 L491.3 718.3 L491.4 720.9 L491.4 723.5 L491.4 726.1 L491.4 728.6 L491.5 731.1 L491.5 733.6 L491.5 736.1 L491.5 738.6 L491.6 741.0 L491.6 743.5 L491.6 746.0 L491.6 748.4 L491.7 750.9 L491.7 753.3 L491.7 755.8 L491.7 758.2 L491.7 760.7 L491.8 763.2 L491.8 765.7 L491.8 768.2 L491.8 770.7 L491.8 773.2 L491.9 775.8 L491.9 778.4 L491.9 781.0 L491.9 783.6 L492.0 786.2 L492.0 788.9 L492.0 791.6 L492.1 794.4 L492.1 797.2 L492.1 800.0 L492.2 802.2 L492.2 804.5 L492.2 806.7 L492.2 809.0 L492.3 811.3 L492.3 813.6 L492.3 815.9 L492.3 818.3 L492.4 820.6 L492.4 823.0 L492.4 825.4 L492.5 827.8 L492.5 830.2 L492.5 832.6 L492.6 835.0 L492.6 837.5 L492.6 839.9 L492.7 842.4 L492.7 844.8 L492.7 847.3 L492.8 849.8 L492.8 852.3 L492.8 854.8 L492.9 857.3 L492.9 859.9 L492.9 862.4 L493.0 864.9 L493.0 867.5 L493.0 870.0 L493.1 872.6 L493.1 875.1 L493.1 877.7 L493.2 880.3 L493.2 882.9 L493.2 885.4 L493.3 888.0 L493.3 890.6 L493.4 893.2 L493.4 895.8 L493.4 898.4 L493.5 901.0 L493.5 903.6 L493.5 906.2 L493.6 908.8 L493.6 911.4 L493.7 914.0 L493.7 916.6 L493.7 919.2 L493.8 921.8 L493.8 924.4 L493.8 927.0 L493.9 929.6 L493.9 932.2 L493.9 934.8 L494.0 937.4 L494.0 940.0 L494.0 942.4 L494.1 944.9 L494.1 947.3 L494.2 949.8 L494.2 952.3 L494.2 954.7 L494.3 957.2 L494.3 959.7 L494.3 962.3 L494.4 964.8 L494.4 967.3 L494.4 969.9 L494.5 972.4 L494.5 975.0 L494.5 977.6 L494.6 980.1 L494.6 982.7 L494.7 985.3 L494.7 987.9 L494.7 990.5 L494.8 993.1 L494.8 995.7 L494.8 998.3 L494.9 1000.9 L494.9 1003.5 L495.0 1006.1 L495.0 1008.7 L495.0 1011.3 L495.1 1013.9 L495.1 1016.5 L495.1 1019.1 L495.2 1021.7 L495.2 1024.3 L495.3 1026.9 L495.3 1029.4 L495.3 1032.0 L495.4 1034.6 L495.4 1037.2 L495.4 1039.7 L495.5 1042.3 L495.5 1044.8 L495.6 1047.4 L495.6 1049.9 L495.6 1052.4 L495.7 1054.9 L495.7 1057.4 L495.7 1059.9 L495.8 1062.4 L495.8 1064.8 L495.9 1067.3 L495.9 1069.7 L495.9 1072.2 L496.0 1074.6 L496.0 1077.0 L496.0 1079.4 L496.1 1081.7 L496.1 1084.1 L496.1 1086.4 L496.2 1088.7 L496.2 1091.0 L496.2 1093.3 L496.3 1095.5 L496.3 1097.8 L496.3 1100.0 L496.4 1102.8 L496.4 1105.5 L496.4 1108.3 L496.5 1111.0 L496.5 1113.7 L496.5 1116.4 L496.6 1119.0 L496.6 1121.7 L496.6 1124.3 L496.7 1126.9 L496.7 1129.5 L496.7 1132.1 L496.8 1134.6 L496.8 1137.2 L496.8 1139.7 L496.9 1142.2 L496.9 1144.7 L496.9 1147.2 L497.0 1149.7 L497.0 1152.2 L497.0 1154.6 L497.0 1157.1 L497.1 1159.5 L497.1 1161.9 L497.1 1164.3 L497.2 1166.8 L497.2 1169.2 L497.2 1171.6 L497.3 1173.9 L497.3 1176.3 L497.4 1178.7 L497.4 1181.1 L497.4 1183.5 L497.5 1185.8 L497.5 1188.2 L497.6 1190.6 L497.6 1192.9 L497.7 1195.3 L497.7 1197.6 L497.8 1200.0 L497.8 1202.6 L497.9 1205.3 L497.9 1207.9 L498.0 1210.5 L498.1 1213.1 L498.1 1215.7 L498.2 1218.3 L498.2 1220.9 L498.3 1223.5 L498.4 1226.1 L498.4 1228.7 L498.5 1231.2 L498.6 1233.8 L498.6 1236.3 L498.7 1238.9 L498.8 1241.4 L498.8 1243.9 L498.9 1246.4 L499.0 1248.9 L499.1 1251.3 L499.1 1253.8 L499.2 1256.3 L499.3 1258.7 L499.4 1261.1 L499.5 1263.5 L499.6 1265.9 L499.7 1268.3 L499.8 1270.7 L499.9 1273.0 L500.0 1275.4 L500.1 1277.7 L500.2 1280.0 L500.3 1282.7 L500.5 1285.5 L500.6 1288.3 L500.7 1291.1 L500.8 1294.0 L500.9 1296.8 L501.1 1299.7 L501.2 1302.5 L501.3 1305.3 L501.4 1308.1 L501.6 1310.9 L501.7 1313.6 L501.9 1316.2 L502.0 1318.8 L502.2 1321.3 L502.4 1323.7 L502.6 1326.0 L502.8 1328.3 L503.1 1330.4 L503.4 1332.4 L503.7 1334.3 L504.0 1336.0 L504.3 1337.6 L505.4 1341.1 L506.6 1343.9 L507.8 1346.4 L509.0 1349.0 L509.8 1346.5 L510.5 1344.1 L511.3 1341.7 L512.1 1339.2 L512.8 1336.5 L513.5 1334.2 L514.1 1331.8 L514.8 1329.3 L515.4 1326.7 L516.1 1324.1 L516.7 1321.5 L517.4 1319.0 L518.1 1316.4 L518.9 1313.9 L519.6 1311.4 L520.3 1308.9 L521.1 1306.4 L521.9 1303.9 L522.7 1301.4 L523.5 1299.0 L524.4 1296.5 L525.4 1293.9 L526.4 1291.3 L527.5 1288.7 L528.6 1286.1 L529.8 1283.6 L531.0 1281.0 L532.2 1278.5 L533.3 1276.2 L534.5 1273.9 L535.6 1271.5 L536.8 1269.2 L538.1 1266.9 L539.3 1264.7 L540.6 1262.6 L541.9 1260.6 L543.4 1258.3 L544.9 1256.2 L546.5 1254.1 L548.1 1252.2 L549.7 1250.4 L551.4 1248.7 L553.6 1246.8 L555.7 1245.1 L558.1 1243.5 L560.8 1242.0 L562.9 1241.0 L565.2 1240.0 L567.7 1239.0 L570.3 1238.1 L572.9 1237.2 L575.6 1236.4 L578.2 1235.6 L580.8 1235.0 L583.5 1234.5 L586.3 1234.0 L589.1 1233.7 L591.8 1233.5 L594.6 1233.3 L597.3 1233.1 L600.0 1233.0 L602.9 1232.8 L605.7 1232.7 L608.6 1232.7 L611.4 1232.7 L614.2 1232.7 L617.0 1232.7 L619.8 1232.8 L622.7 1232.9 L625.5 1233.0 L628.4 1233.2 L631.2 1233.4 L634.0 1233.7 L636.6 1233.9 L639.2 1234.2 L641.7 1234.6 L644.3 1235.0 L647.0 1235.4 L650.0 1235.8 L652.2 1236.1 L654.5 1236.5 L656.8 1236.8 L659.3 1237.2 L661.8 1237.6 L664.4 1238.0 L667.0 1238.4 L669.7 1238.8 L672.3 1239.2 L674.9 1239.6 L677.6 1240.1 L680.2 1240.5 L682.7 1240.9 L685.2 1241.4 L687.8 1241.9 L690.3 1242.3 L692.9 1242.8 L695.5 1243.3 L698.1 1243.8 L700.7 1244.3 L703.3 1244.8 L705.9 1245.3 L708.4 1245.8 L711.0 1246.3 L713.6 1246.8 L716.2 1247.3 L718.7 1247.8 L721.3 1248.3 L723.9 1248.8 L726.5 1249.3 L729.0 1249.8 L731.6 1250.3 L734.2 1250.8 L736.7 1251.3 L739.3 1251.8 L741.9 1252.3 L744.4 1252.8 L747.0 1253.3 L749.6 1253.9 L752.1 1254.4 L754.7 1254.9 L757.3 1255.4 L759.8 1255.9 L762.4 1256.4 L764.9 1257.0 L767.5 1257.5 L770.1 1258.1 L772.6 1258.6 L775.2 1259.2 L777.7 1259.8 L780.3 1260.5 L782.9 1261.1 L785.5 1261.8 L788.2 1262.5 L790.9 1263.3 L793.6 1264.0 L796.3 1264.8 L798.9 1265.6 L801.5 1266.4 L804.1 1267.1 L806.6 1267.9 L809.1 1268.7 L811.5 1269.4 L813.7 1270.2 L816.5 1271.1 L819.2 1272.0 L821.8 1272.8 L824.3 1273.7 L826.7 1274.6 L829.1 1275.5 L831.3 1276.5 L833.6 1277.5 L836.0 1278.7 L838.3 1279.9 L840.5 1281.1 L842.7 1282.5 L844.8 1283.9 L847.0 1285.3 L848.9 1286.8 L850.9 1288.3 L852.9 1290.0 L854.8 1291.6 L856.7 1293.3 L858.5 1295.1 L860.2 1296.9 L862.1 1298.9 L863.8 1301.0 L865.5 1303.1 L867.2 1305.3 L868.8 1307.5 L870.3 1309.7 L871.9 1312.0 L873.3 1314.3 L874.8 1316.7 L876.2 1319.1 L877.6 1321.5 L879.1 1324.0 L880.5 1326.2 L881.9 1328.5 L883.3 1330.8 L884.7 1333.1 L886.1 1335.4 L887.6 1337.7 L889.0 1340.0 L889.5 1337.6 L890.1 1335.3 L890.6 1332.8 L891.1 1329.9 L891.3 1328.0 L891.6 1325.9 L891.8 1323.6 L892.0 1321.2 L892.2 1318.7 L892.4 1316.1 L892.6 1313.4 L892.8 1310.7 L893.0 1308.0 L893.1 1305.3 L893.3 1302.6 L893.5 1300.0 L893.6 1297.5 L893.8 1295.1 L893.9 1292.7 L894.1 1290.3 L894.2 1287.9 L894.4 1285.5 L894.5 1283.1 L894.6 1280.6 L894.8 1278.1 L894.9 1275.4 L895.0 1272.7 L895.2 1269.9 L895.3 1267.0 L895.4 1264.8 L895.5 1262.6 L895.6 1260.3 L895.7 1257.9 L895.8 1255.4 L895.9 1252.9 L896.0 1250.4 L896.1 1247.8 L896.2 1245.2 L896.3 1242.5 L896.4 1239.8 L896.5 1237.1 L896.6 1234.4 L896.7 1231.6 L896.8 1228.9 L896.9 1226.1 L897.0 1223.4 L897.1 1220.7 L897.2 1218.0 L897.3 1215.3 L897.5 1212.6 L897.6 1210.0 L897.7 1207.4 L897.8 1204.9 L897.9 1202.4 L898.0 1200.0 L898.2 1197.3 L898.3 1194.7 L898.4 1192.1 L898.6 1189.5 L898.7 1186.9 L898.8 1184.3 L899.0 1181.7 L899.1 1179.2 L899.2 1176.7 L899.4 1174.2 L899.5 1171.7 L899.7 1169.3 L899.8 1166.8 L900.0 1164.4 L900.1 1161.9 L900.3 1159.5 L900.4 1157.1 L900.6 1154.7 L900.8 1152.4 L900.9 1150.0 L901.1 1147.4 L901.3 1144.7 L901.5 1142.0 L901.7 1139.3 L901.9 1136.5 L902.1 1133.9 L902.3 1131.2 L902.6 1128.6 L902.8 1126.0 L903.0 1123.4 L903.2 1121.0 L903.5 1118.6 L903.7 1116.3 L903.9 1114.1 L904.2 1112.0 L904.5 1110.1 L904.9 1107.1 L905.4 1104.5 L905.8 1102.1 L906.3 1099.7 L906.8 1097.4 L907.3 1095.0 L907.6 1097.5 L907.8 1100.1 L908.1 1102.6 L908.3 1105.2 L908.6 1107.7 L908.8 1110.3 L909.1 1112.8 L909.3 1115.4 L909.6 1117.9 L909.9 1120.5 L910.2 1123.0 L910.4 1125.5 L910.8 1128.0 L911.1 1130.5 L911.4 1132.9 L911.8 1135.6 L912.2 1138.3 L912.6 1141.0 L913.0 1143.7 L913.5 1146.4 L913.9 1149.0 L914.4 1151.6 L914.8 1154.2 L915.3 1156.8 L915.8 1159.4 L916.4 1161.9 L916.9 1164.4 L917.5 1166.9 L918.2 1169.5 L918.8 1172.0 L919.5 1174.6 L920.2 1177.1 L920.9 1179.6 L921.6 1182.0 L922.4 1184.4 L923.2 1186.8 L924.0 1189.1 L924.9 1191.4 L925.9 1193.6 L927.0 1196.0 L928.2 1198.4 L929.4 1200.8 L930.7 1203.1 L932.0 1205.3 L933.3 1207.5 L934.7 1209.6 L936.1 1211.6 L937.6 1213.5 L939.3 1215.6 L941.0 1217.7 L942.8 1219.6 L944.6 1221.4 L946.5 1223.1 L948.4 1224.8 L950.4 1226.5 L952.5 1228.0 L954.7 1229.5 L957.0 1231.0 L959.3 1232.3 L961.6 1233.6 L963.9 1234.8 L966.2 1236.0 L968.8 1237.1 L971.2 1238.0 L973.7 1238.9 L976.3 1239.7 L979.1 1240.5 L982.1 1241.4 L984.2 1241.9 L986.4 1242.5 L988.7 1243.0 L991.1 1243.6 L993.6 1244.1 L996.1 1244.7 L998.7 1245.2 L1001.3 1245.7 L1003.9 1246.2 L1006.6 1246.7 L1009.2 1247.2 L1011.7 1247.6 L1014.3 1248.0 L1016.8 1248.5 L1019.4 1248.8 L1021.9 1249.2 L1024.5 1249.6 L1027.1 1249.9 L1029.6 1250.2 L1032.2 1250.5 L1034.8 1250.8 L1037.4 1251.1 L1039.9 1251.3 L1042.5 1251.6 L1045.1 1251.8 L1047.6 1252.1 L1050.3 1252.3 L1053.1 1252.5 L1055.8 1252.7 L1058.5 1252.9 L1061.2 1253.1 L1063.9 1253.2 L1066.6 1253.4 L1069.3 1253.5 L1072.0 1253.6 L1074.7 1253.8 L1077.3 1253.9 L1080.0 1254.1 L1082.5 1254.2 L1085.0 1254.3 L1087.4 1254.5 L1089.8 1254.6 L1092.2 1254.8 L1094.6 1254.9 L1097.0 1255.0 L1099.5 1255.1 L1102.0 1255.3 L1104.6 1255.4 L1107.2 1255.5 L1110.0 1255.5 L1112.2 1255.6 L1114.5 1255.7 L1116.8 1255.7 L1119.2 1255.7 L1121.7 1255.8 L1124.1 1255.8 L1126.6 1255.8 L1129.2 1255.8 L1131.7 1255.8 L1134.3 1255.9 L1136.9 1255.9 L1139.5 1255.9 L1142.1 1255.9 L1144.7 1255.9 L1147.4 1255.9 L1150.0 1255.9 L1152.6 1255.9 L1155.1 1255.8 L1157.7 1255.8 L1160.2 1255.8 L1162.7 1255.8 L1165.3 1255.8 L1167.9 1255.8 L1170.6 1255.8 L1173.3 1255.8 L1176.0 1255.8 L1178.7 1255.8 L1181.3 1255.7 L1184.0 1255.7 L1186.7 1255.7 L1189.3 1255.7 L1191.9 1255.7 L1194.5 1255.6 L1197.0 1255.6 L1199.4 1255.6 L1201.7 1255.5 L1204.0 1255.5 L1206.2 1255.4 L1208.3 1255.4 L1210.3 1255.4 L1213.6 1255.3 L1216.6 1255.2 L1219.4 1255.1 L1222.0 1255.0 L1224.6 1254.9 L1227.3 1254.8 L1230.0 1254.6 L1232.9 1254.4 L1235.9 1254.3 L1239.0 1254.1 L1242.0 1253.8 L1244.9 1253.6 L1247.5 1253.4 L1249.8 1253.2 L1253.5 1252.9 L1256.7 1252.5 L1260.2 1252.1 L1263.7 1251.6 L1267.2 1251.1 L1270.6 1250.6 L1274.0 1250.1 L1277.5 1249.6 L1280.9 1249.0 L1284.4 1248.5 L1287.9 1247.9 L1291.3 1247.3 L1294.7 1246.6 L1298.1 1246.0 L1301.5 1245.4 L1305.0 1244.7 L1308.4 1244.0 L1311.8 1243.3 L1315.3 1242.5 L1318.7 1241.7 L1322.1 1240.9 L1325.4 1240.1 L1328.8 1239.2 L1332.2 1238.3 L1335.6 1237.3 L1338.9 1236.4 L1342.2 1235.4 L1345.6 1234.4 L1348.9 1233.3 L1352.2 1232.2 L1355.5 1231.0 L1358.8 1229.8 L1362.1 1228.5 L1365.3 1227.2 L1368.5 1225.8 L1371.7 1224.5 L1374.8 1223.0 L1378.0 1221.5 L1381.1 1219.9 L1384.2 1218.3 L1387.2 1216.5 L1390.3 1214.8 L1393.3 1212.9 L1396.3 1211.1 L1399.2 1209.1 L1402.1 1207.1 L1404.9 1205.0 L1407.7 1202.9 L1410.4 1200.6 L1413.1 1198.4 L1415.7 1196.0 L1418.3 1193.6 L1420.8 1191.1 L1423.3 1188.6 L1425.7 1186.0 L1428.1 1183.4 L1430.3 1180.6 L1432.6 1177.9 L1434.8 1175.0 L1437.0 1172.2 L1439.0 1169.3 L1441.0 1166.4 L1442.9 1163.4 L1444.9 1160.4 L1446.7 1157.3 L1448.5 1154.2 L1450.2 1151.0 L1451.9 1147.9 L1453.5 1144.7 L1455.1 1141.5 L1456.6 1138.2 L1458.2 1135.0 L1459.6 1131.7 L1461.0 1128.5 L1462.3 1125.2 L1463.7 1121.8 L1465.0 1118.5 L1466.3 1115.2 L1467.5 1111.8 L1468.7 1108.4 L1469.9 1105.0 L1471.0 1101.6 L1472.1 1098.2 L1473.2 1094.8 L1474.2 1091.4 L1475.2 1088.0 L1476.2 1084.6 L1477.2 1081.1 L1478.1 1077.6 L1479.0 1074.2 L1479.9 1070.8 L1480.8 1067.3 L1481.6 1063.8 L1482.5 1060.3 L1483.3 1056.8 L1484.1 1053.4 L1484.9 1049.9 L1485.7 1046.4 L1486.4 1042.9 L1487.2 1039.4 L1487.9 1035.9 L1488.6 1032.5 L1489.3 1029.0 L1490.0 1025.5 L1490.6 1022.0 L1491.3 1018.5 L1491.9 1015.0 L1492.6 1011.5 L1493.2 1008.0 L1493.8 1004.5 L1494.4 1001.0 L1495.0 997.5 L1495.5 994.0 L1496.1 990.5 L1496.7 987.0 L1497.2 983.4 L1497.7 979.9 L1498.3 976.4 L1498.8 972.9 L1499.3 969.4 L1499.8 965.9 L1500.4 962.4 L1500.8 958.8 L1501.3 955.3 L1501.8 951.8 L1502.3 948.3 L1502.7 944.8 L1503.2 941.3 L1503.7 937.8 L1504.1 934.3 L1504.6 930.8 L1505.0 927.2 L1505.4 923.7 L1505.9 920.2 L1506.3 916.7 L1506.7 913.2 L1507.1 909.7 L1507.5 906.2 L1507.9 902.6 L1508.3 899.1 L1508.7 895.6 L1509.1 892.1 L1509.5 888.6 L1509.9 885.1 L1510.3 881.6 L1510.6 878.1 L1511.0 874.6 L1511.4 871.0 L1511.7 867.5 L1512.1 864.0 L1512.5 860.5 L1512.8 857.0 L1513.1 853.5 L1513.5 850.0 L1513.9 846.5 L1514.2 842.9 L1514.5 839.4 L1514.9 835.9 L1515.2 832.4 L1515.5 828.9 L1515.9 825.4 L1516.2 821.9 L1516.5 818.4 L1516.9 814.9 L1517.2 811.4 L1517.5 807.9 L1517.8 804.4 L1518.1 800.9 L1518.4 797.3 L1518.8 793.8 L1519.1 790.3 L1519.4 786.8 L1519.7 783.3 L1520.0 779.8 L1520.3 776.3 L1520.6 772.8 L1520.9 769.3 L1521.2 765.8 L1521.5 762.3 L1521.8 758.8 L1522.1 755.3 L1522.4 751.8 L1522.7 748.3 L1523.0 744.9 L1523.3 741.4 L1523.6 737.9 L1523.9 734.4 L1524.2 730.9 L1524.4 727.4 L1524.7 723.9 L1525.0 720.4 L1525.3 716.9 L1525.6 713.4 L1525.9 710.0 L1526.2 706.5 L1526.5 703.0 L1526.8 699.5 L1527.1 696.0 L1527.4 692.5 L1527.7 689.1 L1528.0 685.7 L1528.3 682.2 L1528.6 678.7 L1528.9 675.2 L1529.2 671.7 L1529.5 668.3 L1529.8 664.9 L1530.1 661.4 L1530.4 657.9 L1530.8 654.5 L1531.1 651.1 L1531.4 647.7 L1531.7 644.5 L1532.1 640.8 L1532.3 638.6 L1532.6 636.1 L1532.8 633.5 L1533.1 630.7 L1533.4 627.7 L1533.7 624.8 L1534.0 621.8 L1534.3 619.3 L1534.5 616.8 L1534.8 614.2 L1535.1 611.5 L1535.3 608.8 L1535.6 606.1 L1535.9 603.4 L1536.2 600.7 L1536.4 598.0 L1536.7 595.4 L1537.0 592.8 L1537.2 590.3 L1537.5 587.8 L1537.7 585.2 L1538.0 582.7 L1538.3 580.2 L1538.5 577.6 L1538.8 575.1 L1539.0 572.6 L1539.3 570.0 L1539.5 567.4 L1539.8 564.8 L1540.0 562.1 L1540.3 559.5 L1540.5 556.8 L1540.8 554.2 L1541.0 551.5 L1541.3 548.9 L1541.5 546.2 L1541.8 543.6 L1542.2 546.3 L1542.7 548.9 L1543.1 551.6 L1543.6 554.2 L1544.0 556.9 L1544.5 559.5 L1544.9 562.3 L1545.3 565.0 L1545.7 567.4 L1546.0 569.9 L1546.3 572.3 L1546.6 574.8 L1546.9 577.2 L1547.2 579.8 L1547.5 582.3 L1547.8 584.8 L1548.1 587.4 L1548.4 590.0 L1548.7 592.4 L1549.0 594.8 L1549.2 597.3 L1549.5 599.8 L1549.7 602.3 L1550.0 604.8 L1550.2 607.4 L1550.5 609.9 L1550.7 612.4 L1551.0 615.0 L1551.2 617.5 L1551.4 620.0 L1551.6 622.5 L1551.9 625.0 L1552.1 627.4 L1552.3 629.8 L1552.5 632.3 L1552.7 634.7 L1552.9 637.2 L1553.1 639.7 L1553.3 642.2 L1553.5 644.7 L1553.6 647.4 L1553.8 650.0 L1554.0 652.4 L1554.1 654.8 L1554.3 657.2 L1554.4 659.6 L1554.6 662.1 L1554.7 664.6 L1554.8 667.1 L1555.0 669.6 L1555.1 672.2 L1555.2 674.8 L1555.3 677.4 L1555.5 680.0 L1555.6 682.7 L1555.7 685.3 L1555.9 688.0 L1556.0 690.7 L1556.1 693.1 L1556.2 695.4 L1556.4 697.8 L1556.5 700.3 L1556.6 702.7 L1556.7 705.2 L1556.8 707.7 L1557.0 710.1 L1557.1 712.7 L1557.2 715.2 L1557.3 717.7 L1557.4 720.2 L1557.6 722.8 L1557.7 725.4 L1557.8 727.9 L1557.9 730.5 L1558.0 733.1 L1558.2 735.7 L1558.3 738.3 L1558.4 740.9 L1558.5 743.5 L1558.6 746.0 L1558.7 748.4 L1558.8 750.9 L1559.0 753.4 L1559.1 755.9 L1559.2 758.5 L1559.3 761.0 L1559.4 763.6 L1559.5 766.1 L1559.6 768.7 L1559.7 771.2 L1559.8 773.8 L1559.9 776.4 L1560.0 779.0 L1560.1 781.5 L1560.2 784.1 L1560.3 786.7 L1560.4 789.2 L1560.6 791.8 L1560.7 794.3 L1560.8 796.9 L1560.9 799.4 L1561.0 801.9 L1561.1 804.4 L1561.2 807.0 L1561.4 809.6 L1561.5 812.2 L1561.6 814.9 L1561.7 817.5 L1561.9 820.1 L1562.0 822.7 L1562.1 825.2 L1562.3 827.8 L1562.4 830.4 L1562.5 833.0 L1562.7 835.6 L1562.8 838.1 L1562.9 840.7 L1563.1 843.3 L1563.2 845.8 L1563.3 848.4 L1563.5 851.0 L1563.6 853.5 L1563.7 856.1 L1563.8 858.6 L1564.0 861.2 L1564.1 863.8 L1564.2 866.5 L1564.4 869.1 L1564.5 871.7 L1564.6 874.4 L1564.8 877.0 L1564.9 879.6 L1565.0 882.2 L1565.2 884.9 L1565.3 887.5 L1565.4 890.1 L1565.5 892.7 L1565.7 895.3 L1565.8 897.9 L1565.9 900.5 L1566.1 903.1 L1566.2 905.7 L1566.3 908.3 L1566.4 910.9 L1566.6 913.4 L1566.7 916.0 L1566.8 918.6 L1566.9 921.2 L1567.1 923.7 L1567.2 926.3 L1567.3 928.8 L1567.4 931.4 L1567.5 933.9 L1567.7 936.4 L1567.8 939.0 L1567.9 941.5 L1568.0 944.0 L1568.1 946.5 L1568.2 949.1 L1568.3 951.6 L1568.5 954.1 L1568.6 956.6 L1568.7 959.1 L1568.8 961.7 L1568.9 964.2 L1569.0 966.7 L1569.1 969.2 L1569.2 971.7 L1569.3 974.2 L1569.4 976.6 L1569.5 979.1 L1569.6 981.5 L1569.7 984.0 L1569.7 986.4 L1569.8 988.9 L1569.9 991.3 L1570.0 993.8 L1570.1 996.3 L1570.2 998.7 L1570.3 1001.3 L1570.4 1003.8 L1570.5 1006.3 L1570.6 1008.9 L1570.7 1011.5 L1570.8 1014.1 L1570.9 1016.8 L1571.0 1019.2 L1571.1 1021.6 L1571.2 1024.1 L1571.3 1026.6 L1571.4 1029.2 L1571.5 1031.7 L1571.6 1034.3 L1571.8 1036.9 L1571.9 1039.5 L1572.0 1042.1 L1572.1 1044.8 L1572.2 1047.4 L1572.3 1050.1 L1572.5 1052.7 L1572.6 1055.4 L1572.7 1058.0 L1572.8 1060.6 L1573.0 1063.3 L1573.1 1065.9 L1573.2 1068.5 L1573.3 1071.1 L1573.5 1073.6 L1573.6 1076.2 L1573.7 1078.7 L1573.9 1081.1 L1574.0 1083.6 L1574.2 1086.3 L1574.3 1088.9 L1574.5 1091.5 L1574.6 1094.1 L1574.8 1096.7 L1574.9 1099.3 L1575.1 1101.8 L1575.3 1104.4 L1575.4 1106.9 L1575.6 1109.4 L1575.8 1111.9 L1575.9 1114.4 L1576.1 1116.9 L1576.3 1119.4 L1576.5 1121.9 L1576.6 1124.4 L1576.8 1126.9 L1577.0 1129.4 L1577.2 1131.9 L1577.3 1134.5 L1577.5 1137.0 L1577.7 1139.6 L1577.9 1142.1 L1578.1 1144.7 L1578.2 1147.3 L1578.4 1149.9 L1578.6 1152.5 L1578.8 1155.1 L1579.0 1157.7 L1579.2 1160.3 L1579.4 1162.9 L1579.5 1165.5 L1579.7 1168.1 L1579.9 1170.7 L1580.1 1173.2 L1580.3 1175.8 L1580.5 1178.3 L1580.7 1180.8 L1581.0 1183.2 L1581.2 1185.7 L1581.4 1188.1 L1581.6 1190.5 L1581.9 1193.1 L1582.1 1195.8 L1582.4 1198.4 L1582.7 1201.0 L1582.9 1203.5 L1583.2 1206.1 L1583.5 1208.6 L1583.8 1211.1 L1584.1 1213.6 L1584.3 1216.0 L1584.6 1218.5 L1584.9 1220.9 L1585.2 1223.3 L1585.6 1225.7 L1585.9 1228.2 L1586.2 1230.6 L1586.5 1233.1 L1586.9 1235.7 L1587.2 1238.2 L1587.6 1240.7 L1588.0 1243.2 L1588.3 1245.7 L1588.7 1248.2 L1589.1 1250.6 L1589.5 1253.1 L1589.9 1255.5 L1590.3 1258.0 L1590.7 1260.4 L1591.1 1262.8 L1591.6 1265.3 L1592.0 1267.8 L1592.5 1270.3 L1593.0 1272.8 L1593.5 1275.4 L1594.0 1277.9 L1594.5 1280.4 L1595.0 1282.9 L1595.6 1285.4 L1596.1 1287.8 L1596.7 1290.3 L1597.3 1292.6 L1597.9 1295.0 L1598.5 1297.3 L1599.2 1299.8 L1599.9 1302.4 L1600.7 1304.9 L1601.4 1307.4 L1602.2 1309.8 L1603.0 1312.2 L1603.8 1314.5 L1604.7 1316.8 L1605.6 1319.0 L1606.5 1321.2 L1607.7 1323.9 L1608.8 1326.5 L1610.1 1329.0 L1611.4 1331.4 L1612.7 1333.8 L1614.2 1336.1 L1615.8 1338.2 L1617.4 1340.2 L1619.1 1342.2 L1620.8 1344.0 L1622.7 1345.8 L1624.6 1347.4 L1626.5 1348.9 L1628.5 1350.3 L1630.8 1351.7 L1633.2 1352.8 L1635.7 1353.8 L1638.3 1354.6 L1641.2 1355.4 L1643.4 1355.9 L1645.7 1356.3 L1648.2 1356.6 L1650.8 1356.9 L1653.5 1357.1 L1656.2 1357.3 L1658.9 1357.4 L1661.7 1357.6 L1664.4 1357.7 L1667.0 1357.7 L1669.6 1357.8 L1672.2 1357.8 L1674.8 1357.8 L1677.4 1357.7 L1680.0 1357.6 L1682.6 1357.5 L1685.3 1357.4 L1688.0 1357.2 L1690.8 1357.1 L1693.7 1356.9 L1696.0 1356.8 L1698.3 1356.7 L1700.6 1356.5 L1703.0 1356.4 L1705.4 1356.2 L1707.9 1356.0 L1710.4 1355.8 L1712.9 1355.6 L1715.4 1355.4 L1718.0 1355.2 L1720.6 1355.0 L1723.2 1354.8 L1725.8 1354.6 L1728.5 1354.4 L1731.1 1354.2 L1733.8 1354.0 L1736.2 1353.8 L1738.6 1353.6 L1741.0 1353.4 L1743.5 1353.2 L1746.0 1353.0 L1748.5 1352.8 L1751.0 1352.6 L1753.6 1352.4 L1756.2 1352.2 L1758.7 1352.0 L1761.3 1351.8 L1763.9 1351.6 L1766.5 1351.4 L1769.1 1351.2 L1771.7 1351.0 L1774.3 1350.8 L1776.9 1350.6 L1779.5 1350.4 L1782.1 1350.2 L1784.7 1350.0 L1787.2 1349.9 L1789.7 1349.7 L1792.3 1349.5 L1794.7 1349.4 L1797.2 1349.2 L1799.7 1349.0 L1802.2 1348.9 L1804.6 1348.7 L1807.1 1348.6 L1809.5 1348.4 L1812.0 1348.3 L1814.5 1348.1 L1817.0 1348.0 L1819.5 1347.8 L1822.0 1347.7 L1824.6 1347.6 L1827.2 1347.4 L1829.8 1347.3 L1832.4 1347.2 L1835.1 1347.0 L1837.8 1346.9 L1840.6 1346.7 L1842.9 1346.6 L1845.3 1346.5 L1847.8 1346.4 L1850.2 1346.3 L1852.7 1346.2 L1855.3 1346.1 L1857.8 1346.0 L1860.4 1345.9 L1863.1 1345.8 L1865.7 1345.7 L1868.4 1345.6 L1871.0 1345.5 L1873.7 1345.4 L1876.4 1345.3 L1879.1 1345.2 L1881.8 1345.1 L1884.5 1345.0 L1887.2 1344.9 L1889.9 1344.8 L1892.5 1344.7 L1895.2 1344.6 L1897.8 1344.6 L1900.4 1344.5 L1903.0 1344.4 L1905.5 1344.3 L1908.1 1344.2 L1910.5 1344.1 L1913.0 1344.1 L1915.4 1344.0 L1917.7 1343.9 L1920.0 1343.8 L1922.8 1343.7 L1925.5 1343.6 L1928.1 1343.5 L1930.7 1343.5 L1933.3 1343.4 L1935.8 1343.3 L1938.3 1343.2 L1940.7 1343.1 L1943.2 1343.1 L1945.6 1343.0 L1948.0 1342.9 L1950.4 1342.8 L1952.8 1342.8 L1955.2 1342.7 L1957.6 1342.6 L1960.0 1342.6 L1962.5 1342.5 L1965.0 1342.4 L1967.5 1342.3 L1970.0 1342.3 L1972.4 1342.2 L1974.9 1342.2 L1977.4 1342.1 L1979.8 1342.0 L1982.3 1342.0 L1984.8 1341.9 L1987.3 1341.8 L1989.8 1341.8 L1992.3 1341.7 L1994.8 1341.7 L1997.3 1341.6 L1999.9 1341.6 L2002.4 1341.5 L2004.9 1341.5 L2007.4 1341.4 L2009.9 1341.3 L2012.4 1341.3 L2015.0 1341.2 L2017.5 1341.2 L2020.0 1341.1 L2022.5 1341.1 L2025.0 1341.0" fill="none" stroke="#F04040" stroke-width="5" stroke-linejoin="round" stroke-linecap="butt"/><path d="M307.4 748.5 L307.7 751.2 L308.0 753.8 L308.3 756.4 L308.6 759.0 L308.9 761.7 L309.2 764.4 L309.5 767.2 L309.7 770.0 L309.9 772.3 L310.1 774.6 L310.3 777.0 L310.4 779.4 L310.6 781.8 L310.7 784.2 L310.8 786.7 L311.0 789.3 L311.1 791.8 L311.3 794.5 L311.4 797.2 L311.6 800.0 L311.8 802.2 L311.9 804.5 L312.1 806.9 L312.2 809.3 L312.4 811.7 L312.6 814.2 L312.7 816.8 L312.9 819.3 L313.1 821.9 L313.3 824.5 L313.5 827.2 L313.6 829.8 L313.8 832.4 L314.0 835.0 L314.2 837.6 L314.3 840.1 L314.5 842.7 L314.7 845.2 L314.9 847.6 L315.0 850.0 L315.2 852.6 L315.4 855.2 L315.6 857.8 L315.8 860.3 L316.0 862.8 L316.1 865.3 L316.3 867.8 L316.5 870.3 L316.7 872.7 L316.9 875.2 L317.0 877.7 L317.2 880.1 L317.4 882.6 L317.5 885.0 L317.7 887.5 L317.9 890.0 L318.0 892.5 L318.1 895.0 L318.3 897.4 L318.4 899.9 L318.6 902.4 L318.7 904.8 L318.8 907.3 L318.9 909.7 L319.1 912.2 L319.2 914.7 L319.3 917.2 L319.4 919.7 L319.6 922.2 L319.7 924.8 L319.8 927.4 L319.9 930.0 L320.0 932.4 L320.2 934.8 L320.3 937.2 L320.4 939.6 L320.5 942.1 L320.6 944.6 L320.7 947.1 L320.8 949.6 L320.9 952.1 L321.0 954.7 L321.1 957.2 L321.2 959.7 L321.3 962.3 L321.4 964.8 L321.5 967.4 L321.6 969.9 L321.7 972.4 L321.8 975.0 L322.0 977.5 L322.1 980.0 L322.2 982.5 L322.3 985.0 L322.4 987.4 L322.5 989.9 L322.6 992.3 L322.7 994.8 L322.8 997.2 L323.0 999.7 L323.1 1002.1 L323.2 1004.6 L323.3 1007.1 L323.4 1009.5 L323.5 1012.0 L323.6 1014.5 L323.8 1017.0 L323.9 1019.6 L324.0 1022.1 L324.1 1024.7 L324.2 1027.4 L324.3 1030.0 L324.4 1032.3 L324.5 1034.7 L324.6 1037.1 L324.7 1039.4 L324.8 1041.8 L324.9 1044.2 L325.0 1046.7 L325.1 1049.1 L325.2 1051.5 L325.3 1054.0 L325.4 1056.5 L325.5 1058.9 L325.6 1061.4 L325.7 1063.9 L325.8 1066.5 L325.9 1069.0 L326.0 1071.5 L326.1 1074.1 L326.2 1076.7 L326.3 1079.2 L326.4 1081.8 L326.5 1084.4 L326.6 1087.1 L326.7 1089.7 L326.8 1092.3 L326.9 1095.0 L327.0 1097.4 L327.1 1099.7 L327.2 1102.2 L327.3 1104.6 L327.3 1107.1 L327.4 1109.6 L327.5 1112.1 L327.6 1114.7 L327.7 1117.3 L327.8 1119.9 L327.9 1122.5 L327.9 1125.1 L328.0 1127.7 L328.1 1130.3 L328.2 1132.9 L328.3 1135.6 L328.4 1138.2 L328.4 1140.8 L328.5 1143.4 L328.6 1146.0 L328.7 1148.6 L328.8 1151.2 L328.9 1153.8 L329.0 1156.3 L329.0 1158.8 L329.1 1161.3 L329.2 1163.8 L329.3 1166.2 L329.4 1168.6 L329.5 1171.0 L329.6 1173.3 L329.7 1175.6 L329.7 1177.8 L329.8 1180.0 L329.9 1182.8 L330.1 1185.6 L330.2 1188.3 L330.3 1190.9 L330.4 1193.6 L330.5 1196.1 L330.6 1198.7 L330.7 1201.2 L330.8 1203.7 L330.9 1206.2 L331.1 1208.6 L331.2 1211.0 L331.3 1213.4 L331.4 1215.8 L331.5 1218.2 L331.7 1220.6 L331.8 1222.9 L331.9 1225.3 L332.1 1227.6 L332.2 1230.0 L332.4 1232.7 L332.5 1235.4 L332.7 1238.1 L332.9 1240.9 L333.1 1243.6 L333.3 1246.3 L333.5 1249.1 L333.7 1251.7 L333.9 1254.3 L334.0 1256.9 L334.2 1259.4 L334.4 1261.7 L334.6 1264.0 L334.8 1266.1 L335.0 1268.1 L335.2 1270.0 L335.6 1273.5 L335.9 1276.4 L336.3 1279.2 L336.7 1282.0 L336.7 1279.4 L336.8 1276.9 L336.8 1274.3 L336.9 1271.8 L336.9 1269.3 L336.9 1266.7 L337.0 1264.2 L337.0 1261.7 L337.0 1259.2 L337.1 1256.6 L337.1 1254.1 L337.2 1251.6 L337.2 1249.1 L337.2 1246.6 L337.3 1244.0 L337.3 1241.5 L337.4 1239.0 L337.4 1236.4 L337.4 1233.9 L337.5 1231.3 L337.5 1228.8 L337.6 1226.2 L337.6 1223.7 L337.6 1221.1 L337.7 1218.5 L337.7 1215.9 L337.7 1213.3 L337.8 1210.6 L337.8 1208.0 L337.8 1205.3 L337.9 1202.7 L337.9 1200.0 L338.0 1197.6 L338.0 1195.2 L338.0 1192.8 L338.0 1190.4 L338.1 1188.0 L338.1 1185.5 L338.1 1183.1 L338.2 1180.6 L338.2 1178.2 L338.2 1175.7 L338.2 1173.2 L338.3 1170.7 L338.3 1168.2 L338.3 1165.7 L338.4 1163.2 L338.4 1160.7 L338.4 1158.2 L338.4 1155.7 L338.5 1153.1 L338.5 1150.6 L338.5 1148.1 L338.6 1145.6 L338.6 1143.0 L338.6 1140.5 L338.6 1137.9 L338.7 1135.4 L338.7 1132.9 L338.7 1130.3 L338.7 1127.8 L338.8 1125.2 L338.8 1122.7 L338.8 1120.2 L338.9 1117.6 L338.9 1115.1 L338.9 1112.6 L339.0 1110.0 L339.0 1107.5 L339.0 1105.0 L339.0 1102.5 L339.1 1100.0 L339.1 1097.5 L339.1 1095.0 L339.2 1092.5 L339.2 1090.0 L339.2 1087.5 L339.3 1085.0 L339.3 1082.5 L339.3 1080.0 L339.4 1077.5 L339.4 1075.0 L339.4 1072.5 L339.5 1070.0 L339.5 1067.5 L339.5 1065.0 L339.6 1062.5 L339.6 1060.0 L339.6 1057.5 L339.7 1055.0 L339.7 1052.5 L339.8 1050.0 L339.8 1047.5 L339.8 1045.0 L339.9 1042.5 L339.9 1040.0 L339.9 1037.5 L340.0 1035.0 L340.0 1032.5 L340.0 1030.0 L340.1 1027.5 L340.1 1025.0 L340.1 1022.5 L340.2 1020.0 L340.2 1017.5 L340.2 1015.0 L340.3 1012.5 L340.3 1010.0 L340.3 1007.5 L340.4 1005.0 L340.4 1002.5 L340.4 1000.0 L340.5 997.5 L340.5 995.0 L340.5 992.5 L340.5 990.0 L340.6 987.5 L340.6 985.0 L340.6 982.5 L340.7 980.0 L340.7 977.5 L340.7 975.0 L340.7 972.5 L340.8 970.0 L340.8 967.5 L340.8 965.0 L340.9 962.5 L340.9 960.0 L340.9 957.5 L340.9 955.0 L341.0 952.5 L341.0 950.0 L341.0 947.5 L341.0 945.0 L341.1 942.5 L341.1 940.0 L341.1 937.5 L341.1 935.0 L341.2 932.5 L341.2 930.0 L341.2 927.5 L341.2 925.0 L341.3 922.5 L341.3 920.0 L341.3 917.5 L341.3 915.0 L341.4 912.5 L341.4 910.0 L341.4 907.5 L341.4 905.0 L341.5 902.5 L341.5 900.0 L341.5 897.5 L341.6 895.0 L341.6 892.5 L341.6 890.0 L341.6 887.5 L341.7 885.0 L341.7 882.5 L341.7 880.0 L341.7 877.5 L341.8 875.0 L341.8 872.5 L341.8 870.0 L341.8 867.5 L341.8 865.0 L341.9 862.5 L341.9 860.0 L341.9 857.5 L341.9 855.0 L342.0 852.5 L342.0 850.0 L342.0 847.5 L342.0 845.0 L342.1 842.5 L342.1 840.0 L342.1 837.5 L342.1 835.0 L342.2 832.5 L342.2 830.0 L342.2 827.5 L342.2 825.0 L342.3 822.5 L342.3 820.0 L342.3 817.5 L342.3 815.0 L342.3 812.5 L342.4 810.0 L342.4 807.5 L342.4 805.0 L342.4 802.5 L342.5 800.0 L342.5 797.5 L342.5 795.0 L342.5 792.5 L342.6 790.0 L342.6 787.5 L342.6 785.0 L342.6 782.5 L342.7 780.0 L342.7 777.5 L342.7 775.0 L342.7 772.5 L342.7 770.0 L342.8 767.5 L342.8 765.0 L342.8 762.5 L342.8 760.0 L342.8 757.5 L342.9 755.0 L342.9 752.5 L342.9 750.0 L342.9 747.5 L343.0 745.0 L343.0 742.5 L343.0 740.0 L343.0 737.5 L343.1 735.0 L343.1 732.5 L343.1 730.0 L343.1 727.5 L343.2 725.0 L343.2 722.5 L343.2 720.0 L343.2 717.5 L343.3 715.0 L343.3 712.5 L343.3 710.0 L343.3 707.5 L343.4 705.0 L343.4 702.5 L343.4 700.0 L343.5 697.5 L343.5 695.0 L343.5 692.5 L343.6 690.0 L343.6 687.5 L343.6 685.0 L343.7 682.5 L343.7 680.0 L343.7 677.5 L343.8 675.0 L343.8 672.5 L343.9 670.0 L343.9 667.5 L343.9 665.0 L344.0 662.5 L344.0 660.0 L344.1 657.5 L344.1 655.0 L344.1 652.5 L344.2 650.0 L344.2 647.5 L344.3 645.0 L344.3 642.5 L344.4 640.0 L344.4 637.5 L344.4 635.0 L344.5 632.5 L344.5 630.0 L344.6 627.5 L344.6 625.0 L344.6 622.5 L344.7 620.0 L344.7 617.5 L344.8 615.0 L344.8 612.5 L344.9 610.0 L344.9 607.5 L344.9 605.0 L345.0 602.5 L345.0 600.0 L345.1 597.5 L345.1 595.0 L345.1 592.5 L345.2 590.0 L345.2 587.5 L345.3 585.0 L345.3 582.5 L345.3 580.0 L345.4 577.5 L345.4 575.0 L345.5 572.5 L345.5 570.0 L345.6 567.5 L345.6 565.0 L345.6 562.5 L345.7 560.0 L345.7 557.5 L345.8 555.0 L345.8 552.5 L345.9 550.0 L345.9 547.5 L345.9 545.0 L346.0 542.5 L346.0 540.0 L346.1 537.5 L346.1 535.0 L346.1 532.5 L346.2 530.0 L346.2 527.5 L346.3 525.0 L346.3 522.5 L346.3 520.0 L346.4 517.5 L346.4 515.0 L346.4 512.5 L346.5 510.0 L346.5 507.5 L346.5 505.0 L346.6 502.5 L346.6 500.0 L346.6 497.4 L346.6 494.8 L346.7 492.2 L346.7 489.5 L346.7 486.9 L346.7 484.2 L346.8 481.5 L346.8 478.7 L346.8 476.0 L346.8 473.3 L346.8 470.5 L346.8 467.8 L346.8 465.0 L346.9 462.2 L346.9 459.5 L346.9 456.7 L346.9 454.0 L346.9 451.3 L346.9 448.5 L346.9 445.8 L346.9 443.1 L347.0 440.5 L347.0 437.8 L347.0 435.2 L347.0 432.6 L347.0 430.0 L347.0 427.4 L347.0 424.9 L347.1 422.4 L347.1 420.0 L347.1 417.6 L347.1 415.2 L347.1 412.9 L347.2 410.6 L347.2 408.4 L347.2 406.2 L347.3 404.1 L347.3 402.0 L347.3 400.0 L347.4 396.8 L347.4 393.6 L347.5 390.5 L347.5 387.5 L347.5 384.6 L347.6 381.8 L347.6 379.0 L347.7 376.4 L347.7 373.8 L347.8 371.3 L347.9 368.8 L348.0 366.5 L348.2 364.3 L348.4 362.1 L348.6 360.1 L349.0 357.1 L349.4 354.2 L349.8 351.6 L350.3 349.3 L350.9 347.1 L351.5 345.2 L353.0 342.7 L354.5 340.5 L354.9 343.0 L355.2 345.5 L355.6 348.0 L356.0 350.4 L356.3 352.9 L356.7 355.4 L357.1 357.9 L357.4 360.4 L357.8 362.9 L358.1 365.4 L358.4 367.8 L358.7 370.3 L359.0 372.8 L359.2 375.3 L359.5 377.8 L359.7 380.3 L359.9 382.8 L360.1 385.4 L360.2 387.9 L360.4 390.4 L360.6 392.9 L360.8 395.4 L361.0 397.9 L361.2 400.4 L361.4 402.9 L361.6 405.4 L361.8 407.9 L362.0 410.4 L362.2 412.9 L362.4 415.4 L362.6 418.0 L362.9 420.5 L363.1 423.0 L363.3 425.5 L363.5 428.0 L363.7 430.5 L363.9 433.0 L364.1 435.5 L364.3 438.0 L364.5 440.4 L364.7 442.9 L364.9 445.4 L365.1 447.9 L365.3 450.4 L365.5 452.9 L365.7 455.4 L365.9 457.9 L366.0 460.5 L366.2 463.0 L366.4 465.5 L366.6 468.0 L366.8 470.5 L366.9 473.0 L367.1 475.5 L367.3 478.1 L367.5 480.6 L367.7 483.2 L367.9 485.9 L368.0 488.5 L368.3 491.2 L368.5 494.0 L368.7 496.4 L368.8 498.8 L369.0 501.3 L369.2 503.8 L369.4 506.3 L369.6 508.9 L369.8 511.5 L370.1 514.1 L370.3 516.7 L370.5 519.4 L370.7 522.0 L370.9 524.6 L371.2 527.2 L371.4 529.8 L371.6 532.4 L371.9 535.0 L372.1 537.5 L372.4 540.0 L372.7 542.6 L372.9 545.1 L373.2 547.7 L373.5 550.2 L373.8 552.7 L374.1 555.3 L374.4 557.8 L374.7 560.3 L375.0 562.8 L375.4 565.2 L375.7 567.7 L376.0 570.2 L376.3 572.7 L376.7 575.2 L377.0 577.7 L377.3 580.2 L377.7 582.7 L378.0 585.2 L378.4 587.7 L378.7 590.2 L379.1 592.7 L379.5 595.2 L379.8 597.7 L380.2 600.2 L380.6 602.7 L381.0 605.2 L381.3 607.7 L381.7 610.2 L382.1 612.7 L382.5 615.2 L382.9 617.7 L383.3 620.2 L383.8 622.7 L384.2 625.2 L384.6 627.7 L385.0 630.2 L385.4 632.7 L385.9 635.2 L386.3 637.7 L386.7 640.2 L387.2 642.7 L387.6 645.2 L388.1 647.7 L388.6 650.2 L389.1 652.7 L389.6 655.2 L390.1 657.7 L390.6 660.2 L391.2 662.7 L391.8 665.3 L392.3 667.9 L392.9 670.5 L393.5 673.1 L394.2 675.7 L394.8 678.3 L395.4 680.9 L396.1 683.5 L396.7 686.0 L397.4 688.5 L398.1 691.0 L398.8 693.4 L399.5 695.7 L400.2 698.0 L400.9 700.2 L401.8 702.9 L402.7 705.5 L403.6 708.1 L404.6 710.6 L405.6 713.0 L406.5 715.4 L407.5 717.6 L408.6 719.9 L409.6 722.0 L410.7 724.1 L412.1 726.6 L413.5 729.0 L414.9 731.4 L416.4 733.6 L417.9 735.7 L419.3 737.4 L420.8 738.8 L424.0 740.8 L427.2 741.3 L430.0 740.6 L432.9 739.0 L435.5 736.7 L437.1 734.9 L438.6 732.7 L440.0 730.3 L441.3 727.7 L442.5 724.9 L443.7 722.2 L444.6 720.0 L445.4 717.7 L446.1 715.4 L446.8 713.0 L447.5 710.6 L448.1 708.1 L448.7 705.5 L449.3 702.9 L449.9 700.3 L450.4 698.0 L450.9 695.6 L451.4 693.2 L451.9 690.7 L452.3 688.2 L452.7 685.6 L453.2 683.1 L453.6 680.5 L454.0 677.9 L454.4 675.3 L454.8 672.8 L455.2 670.3 L455.5 667.8 L455.9 665.3 L456.2 662.9 L456.6 660.4 L456.9 658.0 L457.2 655.6 L457.5 653.1 L457.9 650.6 L458.2 648.1 L458.5 645.5 L458.8 642.9 L459.1 640.3 L459.3 637.9 L459.6 635.5 L459.8 633.1 L460.0 630.7 L460.3 628.2 L460.5 625.7 L460.7 623.1 L461.0 620.6 L461.2 618.1 L461.4 615.5 L461.6 612.9 L461.9 610.4 L462.1 607.8 L462.3 605.3 L462.5 602.7 L462.7 600.2 L463.0 597.7 L463.2 595.2 L463.4 592.7 L463.6 590.1 L463.8 587.6 L464.1 585.1 L464.3 582.5 L464.5 580.0 L464.7 577.5 L464.9 575.0 L465.1 572.5 L465.3 570.0 L465.5 567.5 L465.7 565.0 L465.9 562.5 L466.1 560.1 L466.3 557.4 L466.5 554.8 L466.6 552.1 L466.8 549.4 L467.0 546.8 L467.1 544.1 L467.3 541.5 L467.5 538.9 L467.6 536.3 L467.7 533.7 L467.9 531.2 L468.0 528.8 L468.1 526.3 L468.3 524.0 L468.4 521.2 L468.5 518.5 L468.7 516.0 L468.8 513.5 L468.9 511.0 L469.0 508.5 L469.1 505.8 L469.2 503.0 L469.4 500.0 L469.5 497.8 L469.6 495.5 L469.7 493.1 L469.8 490.6 L469.9 488.0 L470.0 485.4 L470.1 482.7 L470.2 479.9 L470.3 477.2 L470.4 474.4 L470.5 471.6 L470.6 468.8 L470.8 466.1 L470.9 463.3 L471.0 460.6 L471.1 458.0 L471.3 455.4 L471.4 452.9 L471.5 450.5 L471.7 447.7 L471.9 444.9 L472.1 442.3 L472.3 439.6 L472.4 437.1 L472.6 434.5 L472.8 432.0 L473.0 429.4 L473.2 426.9 L473.5 424.3 L473.7 421.7 L473.9 419.1 L474.2 416.4 L474.4 414.0 L474.6 411.6 L474.9 409.1 L475.1 406.7 L475.4 404.2 L475.7 401.7 L475.9 399.2 L476.2 396.7 L476.5 394.1 L476.8 391.6 L477.0 389.1 L477.3 386.6 L477.6 384.0 L477.9 381.5 L478.1 379.0 L478.4 376.5 L478.6 379.1 L478.8 381.7 L479.0 384.2 L479.2 386.8 L479.4 389.4 L479.6 392.0 L479.8 394.7 L480.0 397.5 L480.2 400.4 L480.3 402.6 L480.5 404.9 L480.6 407.3 L480.7 409.7 L480.8 412.2 L480.9 414.7 L481.1 417.2 L481.2 419.8 L481.3 422.4 L481.4 425.0 L481.5 427.6 L481.6 430.2 L481.8 432.8 L481.9 435.4 L482.0 438.0 L482.1 440.5 L482.3 443.0 L482.4 445.6 L482.6 448.2 L482.7 450.9 L482.9 453.5 L483.0 456.2 L483.2 458.8 L483.3 461.4 L483.5 464.1 L483.6 466.6 L483.8 469.1 L483.9 471.6 L484.0 474.0 L484.2 476.3 L484.3 478.5 L484.4 480.6 L484.5 483.6 L484.6 486.2 L484.7 488.6 L484.7 491.0 L484.8 493.6 L484.8 496.5 L484.9 500.0 L484.9 501.6 L484.9 503.3 L485.0 505.1 L485.0 507.0 L485.0 509.0 L485.0 511.1 L485.0 513.3 L485.1 515.5 L485.1 517.8 L485.1 520.1 L485.1 522.6 L485.1 525.0 L485.1 527.6 L485.2 530.2 L485.2 532.8 L485.2 535.5 L485.2 538.2 L485.2 541.0 L485.2 543.7 L485.2 546.6 L485.2 549.4 L485.3 552.2 L485.3 555.1 L485.3 558.0 L485.3 560.9 L485.3 563.8 L485.3 566.7 L485.3 569.6 L485.3 572.5 L485.3 575.3 L485.4 578.2 L485.4 581.0 L485.4 583.8 L485.4 586.6 L485.4 589.4 L485.4 592.1 L485.5 594.8 L485.5 597.4 L485.5 600.0 L485.5 602.5 L485.5 605.0 L485.5 607.5 L485.6 610.0 L485.6 612.5 L485.6 615.0 L485.6 617.5 L485.7 620.0 L485.7 622.5 L485.7 625.0 L485.7 627.5 L485.7 630.0 L485.8 632.5 L485.8 635.0 L485.8 637.5 L485.8 640.0 L485.8 642.5 L485.9 645.0 L485.9 647.5 L485.9 650.0 L485.9 652.5 L486.0 655.0 L486.0 657.5 L486.0 660.0 L486.0 662.5 L486.1 665.0 L486.1 667.5 L486.1 670.0 L486.1 672.5 L486.2 675.0 L486.2 677.5 L486.2 680.0 L486.2 682.5 L486.3 685.0 L486.3 687.5 L486.3 690.0 L486.3 692.5 L486.4 695.0 L486.4 697.5 L486.4 700.0 L486.5 702.5 L486.5 705.0 L486.5 707.5 L486.5 710.0 L486.6 712.4 L486.6 714.9 L486.6 717.4 L486.7 719.9 L486.7 722.3 L486.7 724.8 L486.7 727.2 L486.8 729.7 L486.8 732.2 L486.8 734.6 L486.9 737.1 L486.9 739.6 L486.9 742.0 L486.9 744.5 L487.0 747.0 L487.0 749.4 L487.0 751.9 L487.1 754.4 L487.1 756.9 L487.1 759.3 L487.2 761.8 L487.2 764.3 L487.2 766.8 L487.3 769.3 L487.3 771.8 L487.3 774.4 L487.4 776.9 L487.4 779.4 L487.4 782.0 L487.5 784.5 L487.5 787.1 L487.6 789.6 L487.6 792.2 L487.6 794.8 L487.7 797.4 L487.7 800.0 L487.7 802.4 L487.8 804.8 L487.8 807.2 L487.9 809.6 L487.9 812.0 L487.9 814.5 L488.0 816.9 L488.0 819.4 L488.1 821.8 L488.1 824.3 L488.1 826.8 L488.2 829.2 L488.2 831.7 L488.3 834.2 L488.3 836.7 L488.3 839.2 L488.4 841.7 L488.4 844.2 L488.5 846.7 L488.5 849.2 L488.6 851.7 L488.6 854.3 L488.7 856.8 L488.7 859.3 L488.7 861.8 L488.8 864.4 L488.8 866.9 L488.9 869.4 L488.9 872.0 L489.0 874.5 L489.0 877.1 L489.1 879.6 L489.1 882.1 L489.2 884.7 L489.2 887.2 L489.3 889.7 L489.3 892.3 L489.3 894.8 L489.4 897.3 L489.4 899.9 L489.5 902.4 L489.5 904.9 L489.6 907.4 L489.6 910.0 L489.7 912.5 L489.7 915.0 L489.8 917.5 L489.8 920.0 L489.8 922.5 L489.9 925.0 L489.9 927.6 L490.0 930.1 L490.0 932.7 L490.1 935.3 L490.1 937.9 L490.2 940.5 L490.2 943.1 L490.3 945.7 L490.3 948.3 L490.4 951.0 L490.4 953.6 L490.5 956.2 L490.5 958.9 L490.6 961.5 L490.6 964.2 L490.6 966.8 L490.7 969.4 L490.7 972.1 L490.8 974.7 L490.8 977.3 L490.9 980.0 L490.9 982.6 L491.0 985.2 L491.0 987.8 L491.1 990.4 L491.1 992.9 L491.2 995.5 L491.2 998.0 L491.3 1000.5 L491.3 1003.1 L491.4 1005.5 L491.4 1008.0 L491.4 1010.5 L491.5 1012.9 L491.5 1015.3 L491.6 1017.7 L491.6 1020.0 L491.6 1022.4 L491.7 1024.7 L491.7 1027.0 L491.8 1029.2 L491.8 1031.4 L491.8 1033.6 L491.9 1035.8 L491.9 1037.9 L491.9 1040.0 L492.0 1042.9 L492.0 1045.7 L492.1 1048.4 L492.1 1051.0 L492.1 1053.6 L492.2 1056.1 L492.2 1058.5 L492.2 1061.0 L492.3 1063.3 L492.3 1065.7 L492.3 1068.0 L492.4 1070.3 L492.4 1072.6 L492.4 1075.0 L492.5 1077.3 L492.5 1079.6 L492.5 1082.0 L492.6 1084.4 L492.6 1086.9 L492.6 1089.4 L492.7 1091.9 L492.7 1094.5 L492.7 1097.2 L492.8 1100.0 L492.8 1102.2 L492.9 1104.4 L492.9 1106.7 L492.9 1109.0 L492.9 1111.4 L493.0 1113.7 L493.0 1116.1 L493.0 1118.6 L493.1 1121.0 L493.1 1123.5 L493.1 1126.0 L493.2 1128.5 L493.2 1131.0 L493.2 1133.6 L493.3 1136.1 L493.3 1138.7 L493.3 1141.3 L493.4 1143.9 L493.4 1146.5 L493.4 1149.1 L493.5 1151.7 L493.5 1154.3 L493.6 1157.0 L493.6 1159.6 L493.6 1162.2 L493.7 1164.8 L493.7 1167.4 L493.8 1170.0 L493.8 1172.6 L493.9 1175.2 L493.9 1177.7 L494.0 1180.3 L494.0 1182.8 L494.1 1185.4 L494.1 1187.9 L494.2 1190.3 L494.2 1192.8 L494.3 1195.2 L494.3 1197.6 L494.4 1200.0 L494.5 1202.6 L494.6 1205.3 L494.6 1207.9 L494.7 1210.5 L494.8 1213.1 L494.9 1215.7 L494.9 1218.3 L495.0 1220.9 L495.1 1223.5 L495.2 1226.0 L495.3 1228.6 L495.3 1231.2 L495.4 1233.7 L495.5 1236.2 L495.6 1238.8 L495.7 1241.3 L495.8 1243.8 L495.9 1246.3 L496.0 1248.8 L496.1 1251.2 L496.2 1253.7 L496.3 1256.2 L496.4 1258.6 L496.5 1261.0 L496.6 1263.4 L496.7 1265.8 L496.8 1268.2 L497.0 1270.6 L497.1 1273.0 L497.2 1275.3 L497.3 1277.7 L497.5 1280.0 L497.6 1282.7 L497.8 1285.5 L497.9 1288.3 L498.0 1291.1 L498.1 1293.9 L498.2 1296.8 L498.3 1299.6 L498.5 1302.5 L498.6 1305.3 L498.7 1308.1 L498.8 1310.9 L499.0 1313.7 L499.1 1316.3 L499.3 1319.0 L499.4 1321.5 L499.6 1324.0 L499.9 1326.4 L500.1 1328.7 L500.3 1330.9 L500.6 1333.0 L500.9 1334.9 L501.2 1336.7 L501.6 1338.4 L502.0 1340.0 L503.2 1343.3 L504.6 1345.8 L506.0 1348.1 L507.4 1350.5 L508.2 1347.7 L508.9 1345.0 L509.7 1342.3 L510.5 1339.4 L511.3 1336.5 L511.9 1334.1 L512.6 1331.7 L513.2 1329.2 L513.8 1326.7 L514.5 1324.1 L515.2 1321.5 L515.8 1319.0 L516.5 1316.4 L517.3 1313.9 L518.0 1311.4 L518.7 1308.9 L519.5 1306.4 L520.3 1303.9 L521.1 1301.4 L521.9 1299.0 L522.8 1296.5 L523.8 1293.9 L524.9 1291.3 L525.9 1288.7 L527.1 1286.1 L528.3 1283.6 L529.5 1281.0 L530.7 1278.5 L531.9 1276.2 L533.1 1273.9 L534.3 1271.6 L535.6 1269.2 L536.9 1267.0 L538.2 1264.7 L539.6 1262.6 L540.9 1260.6 L542.5 1258.4 L544.1 1256.2 L545.7 1254.2 L547.4 1252.2 L549.1 1250.4 L550.8 1248.6 L552.7 1246.9 L554.5 1245.3 L556.5 1243.9 L558.5 1242.5 L560.9 1241.2 L563.0 1240.2 L565.3 1239.2 L567.8 1238.2 L570.3 1237.3 L572.9 1236.4 L575.6 1235.7 L578.2 1235.0 L580.8 1234.4 L583.5 1233.9 L586.3 1233.5 L589.1 1233.2 L591.8 1233.0 L594.6 1232.8 L597.3 1232.7 L600.0 1232.5 L602.9 1232.4 L605.7 1232.3 L608.6 1232.3 L611.4 1232.3 L614.2 1232.3 L617.0 1232.3 L619.8 1232.4 L622.7 1232.4 L625.5 1232.5 L628.4 1232.7 L631.2 1232.8 L634.0 1233.1 L636.6 1233.3 L639.2 1233.6 L641.7 1233.9 L644.3 1234.2 L647.0 1234.6 L650.0 1235.0 L652.2 1235.3 L654.5 1235.6 L656.8 1236.0 L659.3 1236.3 L661.8 1236.7 L664.4 1237.1 L667.0 1237.5 L669.6 1237.9 L672.3 1238.3 L674.9 1238.7 L677.6 1239.1 L680.2 1239.5 L682.7 1240.0 L685.2 1240.4 L687.8 1240.9 L690.3 1241.3 L692.9 1241.8 L695.5 1242.3 L698.1 1242.8 L700.7 1243.3 L703.3 1243.8 L705.9 1244.3 L708.4 1244.8 L711.0 1245.3 L713.6 1245.8 L716.2 1246.3 L718.7 1246.8 L721.3 1247.3 L723.9 1247.8 L726.5 1248.3 L729.0 1248.8 L731.6 1249.3 L734.2 1249.8 L736.7 1250.3 L739.3 1250.8 L741.9 1251.3 L744.4 1251.8 L747.0 1252.3 L749.6 1252.9 L752.1 1253.4 L754.7 1253.9 L757.3 1254.4 L759.8 1254.9 L762.4 1255.4 L764.9 1256.0 L767.5 1256.5 L770.1 1257.1 L772.6 1257.6 L775.2 1258.2 L777.7 1258.8 L780.3 1259.4 L782.9 1260.1 L785.5 1260.8 L788.2 1261.5 L790.9 1262.2 L793.6 1262.9 L796.3 1263.7 L798.9 1264.4 L801.6 1265.2 L804.1 1266.0 L806.7 1266.7 L809.1 1267.5 L811.5 1268.2 L813.8 1268.9 L816.5 1269.8 L819.2 1270.7 L821.8 1271.5 L824.3 1272.4 L826.7 1273.2 L829.0 1274.1 L831.3 1275.1 L833.5 1276.1 L836.0 1277.3 L838.3 1278.5 L840.5 1279.8 L842.7 1281.2 L844.8 1282.6 L847.0 1284.1 L848.9 1285.6 L850.9 1287.2 L852.9 1288.8 L854.8 1290.5 L856.7 1292.3 L858.5 1294.1 L860.2 1295.9 L862.1 1298.0 L863.8 1300.1 L865.6 1302.3 L867.2 1304.6 L868.7 1306.9 L870.2 1309.1 L871.8 1311.7 L873.3 1314.3 L874.7 1316.9 L876.1 1319.5 L877.5 1322.1 L878.9 1324.5 L880.3 1326.9 L881.7 1329.2 L883.2 1331.6 L884.6 1333.9 L885.3 1331.6 L886.0 1329.3 L886.8 1327.1 L887.5 1324.9 L888.2 1322.5 L888.8 1319.9 L889.4 1317.0 L889.7 1315.1 L890.0 1313.1 L890.2 1311.0 L890.4 1308.8 L890.6 1306.5 L890.8 1304.2 L890.9 1301.8 L891.1 1299.3 L891.2 1296.7 L891.3 1294.1 L891.4 1291.5 L891.5 1288.8 L891.6 1286.1 L891.7 1283.4 L891.8 1280.6 L891.9 1277.9 L892.0 1275.1 L892.1 1272.4 L892.2 1269.7 L892.4 1267.0 L892.5 1264.6 L892.6 1262.2 L892.7 1259.7 L892.8 1257.2 L892.9 1254.6 L893.0 1252.1 L893.1 1249.5 L893.2 1246.9 L893.3 1244.3 L893.5 1241.6 L893.6 1239.0 L893.7 1236.3 L893.8 1233.7 L893.9 1231.0 L894.0 1228.3 L894.1 1225.7 L894.2 1223.1 L894.3 1220.4 L894.4 1217.8 L894.5 1215.2 L894.6 1212.7 L894.7 1210.1 L894.8 1207.6 L894.9 1205.2 L895.0 1202.7 L895.2 1200.3 L895.3 1197.6 L895.4 1195.0 L895.6 1192.4 L895.7 1189.8 L895.9 1187.2 L896.0 1184.6 L896.1 1182.1 L896.3 1179.6 L896.4 1177.1 L896.6 1174.6 L896.7 1172.1 L896.9 1169.6 L897.0 1167.2 L897.2 1164.7 L897.4 1162.3 L897.5 1159.9 L897.7 1157.4 L897.8 1155.0 L898.0 1152.6 L898.2 1150.2 L898.4 1147.6 L898.5 1145.0 L898.7 1142.5 L898.9 1139.9 L899.1 1137.4 L899.3 1134.9 L899.5 1132.3 L899.7 1129.8 L899.9 1127.3 L900.2 1124.9 L900.4 1122.4 L900.6 1119.9 L900.8 1117.4 L901.0 1114.9 L901.2 1112.4 L901.4 1109.9 L901.6 1107.4 L902.2 1110.0 L902.7 1112.6 L903.3 1115.1 L903.8 1117.7 L904.4 1120.3 L904.9 1122.8 L905.5 1125.4 L906.1 1128.1 L906.6 1130.8 L907.2 1133.5 L907.7 1136.0 L908.3 1138.5 L908.8 1141.0 L909.3 1143.6 L909.8 1146.2 L910.4 1148.8 L910.9 1151.5 L911.5 1154.1 L912.0 1156.7 L912.6 1159.3 L913.2 1161.9 L913.8 1164.3 L914.5 1166.8 L915.2 1169.3 L915.9 1171.9 L916.6 1174.4 L917.3 1176.9 L918.1 1179.3 L918.8 1181.7 L919.6 1184.1 L920.4 1186.5 L921.3 1188.8 L922.2 1191.0 L923.2 1193.3 L924.3 1195.7 L925.4 1198.1 L926.6 1200.4 L927.9 1202.7 L929.1 1204.9 L930.5 1207.1 L931.8 1209.2 L933.2 1211.2 L934.7 1213.2 L936.4 1215.4 L938.1 1217.4 L940.0 1219.4 L941.8 1221.2 L943.8 1223.0 L945.8 1224.8 L947.8 1226.5 L950.0 1228.1 L952.3 1229.7 L954.6 1231.2 L957.0 1232.6 L959.5 1234.0 L961.9 1235.3 L964.3 1236.5 L966.6 1237.5 L968.8 1238.4 L971.1 1239.3 L973.3 1240.0 L975.7 1240.8 L978.2 1241.5 L980.9 1242.3 L983.1 1242.9 L985.4 1243.5 L987.8 1244.0 L990.3 1244.6 L992.9 1245.2 L995.5 1245.8 L998.2 1246.3 L1000.9 1246.8 L1003.6 1247.4 L1006.3 1247.9 L1009.0 1248.4 L1011.7 1248.8 L1014.3 1249.3 L1016.8 1249.7 L1019.4 1250.1 L1022.0 1250.4 L1024.5 1250.8 L1027.1 1251.1 L1029.7 1251.5 L1032.2 1251.8 L1034.8 1252.1 L1037.4 1252.3 L1040.0 1252.6 L1042.5 1252.9 L1045.1 1253.1 L1047.6 1253.4 L1050.3 1253.6 L1053.1 1253.8 L1055.8 1254.0 L1058.5 1254.2 L1061.2 1254.4 L1063.9 1254.6 L1066.6 1254.7 L1069.3 1254.9 L1072.0 1255.0 L1074.7 1255.2 L1077.3 1255.3 L1080.0 1255.5 L1082.5 1255.6 L1085.0 1255.8 L1087.4 1255.9 L1089.8 1256.1 L1092.2 1256.2 L1094.6 1256.3 L1097.0 1256.5 L1099.5 1256.6 L1102.0 1256.7 L1104.6 1256.8 L1107.2 1256.9 L1110.0 1257.0 L1112.2 1257.1 L1114.5 1257.1 L1116.8 1257.2 L1119.2 1257.2 L1121.7 1257.3 L1124.1 1257.3 L1126.6 1257.3 L1129.2 1257.3 L1131.7 1257.3 L1134.3 1257.4 L1136.9 1257.4 L1139.5 1257.4 L1142.1 1257.4 L1144.7 1257.4 L1147.4 1257.4 L1150.0 1257.4 L1152.6 1257.4 L1155.1 1257.3 L1157.7 1257.3 L1160.2 1257.3 L1162.7 1257.3 L1165.3 1257.3 L1167.9 1257.3 L1170.6 1257.3 L1173.3 1257.3 L1176.0 1257.3 L1178.7 1257.3 L1181.3 1257.2 L1184.0 1257.2 L1186.7 1257.2 L1189.3 1257.2 L1191.9 1257.2 L1194.5 1257.1 L1197.0 1257.1 L1199.4 1257.1 L1201.7 1257.0 L1204.0 1257.0 L1206.2 1257.0 L1208.3 1256.9 L1210.3 1256.9 L1213.6 1256.8 L1216.6 1256.7 L1219.4 1256.7 L1222.0 1256.6 L1224.6 1256.5 L1227.3 1256.4 L1230.0 1256.2 L1232.6 1256.1 L1235.2 1256.0 L1237.9 1255.8 L1240.6 1255.7 L1243.2 1255.5 L1245.7 1255.3 L1248.0 1255.2 L1250.0 1255.0 L1253.7 1254.7 L1257.0 1254.3 L1260.5 1253.8 L1263.9 1253.3 L1267.3 1252.9 L1270.8 1252.4 L1274.3 1251.8 L1277.8 1251.3 L1281.3 1250.8 L1284.7 1250.2 L1288.1 1249.6 L1291.6 1249.1 L1295.0 1248.4 L1298.5 1247.8 L1302.0 1247.1 L1305.4 1246.5 L1308.8 1245.7 L1312.2 1245.0 L1315.6 1244.2 L1319.1 1243.5 L1322.5 1242.6 L1325.9 1241.8 L1329.3 1240.9 L1332.7 1240.1 L1336.0 1239.1 L1339.4 1238.2 L1342.7 1237.1 L1346.1 1236.1 L1349.4 1235.0 L1352.8 1233.9 L1356.1 1232.7 L1359.4 1231.5 L1362.7 1230.2 L1366.0 1228.9 L1369.2 1227.5 L1372.4 1226.1 L1375.6 1224.6 L1378.8 1223.1 L1381.9 1221.4 L1385.1 1219.8 L1388.1 1218.0 L1391.2 1216.3 L1394.2 1214.4 L1397.3 1212.5 L1400.2 1210.6 L1403.1 1208.6 L1405.9 1206.4 L1408.8 1204.3 L1411.5 1202.0 L1414.3 1199.7 L1416.9 1197.3 L1419.6 1194.9 L1422.1 1192.4 L1424.6 1189.9 L1427.0 1187.2 L1429.5 1184.5 L1431.8 1181.7 L1434.1 1179.0 L1436.2 1176.1 L1438.4 1173.3 L1440.4 1170.3 L1442.5 1167.4 L1444.4 1164.3 L1446.4 1161.3 L1448.2 1158.2 L1450.1 1155.1 L1451.8 1151.9 L1453.5 1148.7 L1455.1 1145.5 L1456.8 1142.3 L1458.3 1139.0 L1459.8 1135.8 L1461.2 1132.5 L1462.7 1129.2 L1464.0 1125.8 L1465.4 1122.5 L1466.7 1119.1 L1468.0 1115.8 L1469.2 1112.4 L1470.4 1109.0 L1471.5 1105.6 L1472.7 1102.2 L1473.8 1098.7 L1474.9 1095.3 L1475.9 1091.9 L1476.9 1088.5 L1477.9 1085.1 L1478.9 1081.6 L1479.8 1078.1 L1480.8 1074.6 L1481.6 1071.1 L1482.5 1067.7 L1483.4 1064.2 L1484.2 1060.7 L1485.0 1057.2 L1485.9 1053.8 L1486.6 1050.3 L1487.4 1046.8 L1488.2 1043.3 L1488.9 1039.8 L1489.6 1036.3 L1490.4 1032.8 L1491.0 1029.3 L1491.7 1025.8 L1492.4 1022.3 L1493.1 1018.8 L1493.7 1015.3 L1494.3 1011.8 L1495.0 1008.3 L1495.6 1004.8 L1496.2 1001.3 L1496.8 997.8 L1497.3 994.2 L1497.9 990.7 L1498.5 987.2 L1499.0 983.7 L1499.5 980.2 L1500.1 976.7 L1500.6 973.2 L1501.1 969.7 L1501.6 966.2 L1502.1 962.6 L1502.6 959.1 L1503.1 955.6 L1503.6 952.1 L1504.1 948.6 L1504.5 945.0 L1505.0 941.5 L1505.5 938.0 L1505.9 934.5 L1506.4 931.0 L1506.8 927.5 L1507.2 923.9 L1507.7 920.4 L1508.1 916.9 L1508.5 913.4 L1508.9 909.9 L1509.3 906.4 L1509.7 902.9 L1510.1 899.3 L1510.5 895.8 L1510.9 892.3 L1511.3 888.8 L1511.7 885.3 L1512.1 881.8 L1512.4 878.2 L1512.8 874.7 L1513.2 871.2 L1513.5 867.7 L1513.9 864.2 L1514.3 860.7 L1514.6 857.2 L1514.9 853.7 L1515.3 850.1 L1515.7 846.6 L1516.0 843.1 L1516.3 839.6 L1516.7 836.1 L1517.0 832.6 L1517.3 829.1 L1517.6 825.6 L1518.0 822.1 L1518.3 818.6 L1518.6 815.0 L1519.0 811.5 L1519.3 808.0 L1519.6 804.5 L1519.9 801.0 L1520.2 797.5 L1520.5 794.0 L1520.8 790.5 L1521.2 787.0 L1521.5 783.5 L1521.8 780.0 L1522.1 776.5 L1522.4 773.0 L1522.7 769.5 L1523.0 766.0 L1523.3 762.5 L1523.6 759.0 L1523.9 755.5 L1524.2 752.0 L1524.5 748.5 L1524.8 745.0 L1525.1 741.5 L1525.4 738.0 L1525.7 734.5 L1525.9 731.0 L1526.2 727.6 L1526.5 724.1 L1526.8 720.6 L1527.1 717.1 L1527.4 713.6 L1527.7 710.1 L1528.0 706.6 L1528.3 703.2 L1528.6 699.7 L1528.9 696.2 L1529.2 692.8 L1529.5 689.3 L1529.8 685.8 L1530.1 682.3 L1530.4 678.8 L1530.7 675.4 L1531.0 671.9 L1531.3 668.5 L1531.6 665.1 L1531.9 661.6 L1532.2 658.1 L1532.6 654.7 L1532.9 651.2 L1533.2 647.8 L1533.5 644.6 L1533.9 641.0 L1534.1 638.8 L1534.3 636.3 L1534.5 633.6 L1534.8 630.8 L1535.0 627.8 L1535.3 624.8 L1535.6 621.8 L1535.8 619.3 L1536.1 616.7 L1536.3 614.0 L1536.6 611.3 L1536.9 608.6 L1537.2 605.8 L1537.5 603.1 L1537.8 600.5 L1538.0 597.9 L1538.3 595.4 L1538.7 592.6 L1539.0 589.8 L1539.4 587.2 L1539.7 584.5 L1540.1 582.0 L1540.4 579.5 L1540.6 577.0 L1540.9 574.1 L1541.2 571.3 L1541.4 568.5 L1541.6 565.8 L1541.8 563.0 L1542.2 565.5 L1542.6 568.1 L1543.0 570.6 L1543.5 573.1 L1543.9 575.7 L1544.3 578.3 L1544.7 581.0 L1545.0 583.5 L1545.4 586.1 L1545.7 588.7 L1546.0 591.4 L1546.4 594.1 L1546.7 596.8 L1547.0 599.7 L1547.3 602.6 L1547.6 605.5 L1547.9 607.9 L1548.1 610.3 L1548.3 612.8 L1548.6 615.3 L1548.8 617.8 L1549.0 620.4 L1549.2 623.0 L1549.4 625.6 L1549.7 628.3 L1549.9 631.0 L1550.1 633.7 L1550.3 636.5 L1550.4 639.2 L1550.6 642.0 L1550.8 644.4 L1550.9 646.8 L1551.1 649.3 L1551.2 651.8 L1551.3 654.3 L1551.5 656.8 L1551.6 659.3 L1551.7 661.9 L1551.8 664.5 L1551.9 667.1 L1552.0 669.7 L1552.2 672.3 L1552.3 674.9 L1552.4 677.6 L1552.5 680.2 L1552.6 682.8 L1552.7 685.5 L1552.9 688.1 L1553.0 690.7 L1553.1 693.2 L1553.2 695.6 L1553.3 698.1 L1553.5 700.6 L1553.6 703.0 L1553.7 705.5 L1553.8 708.0 L1553.9 710.5 L1554.1 713.0 L1554.2 715.5 L1554.3 718.0 L1554.4 720.5 L1554.5 723.0 L1554.7 725.5 L1554.8 728.1 L1554.9 730.6 L1555.0 733.2 L1555.1 735.7 L1555.3 738.3 L1555.4 740.9 L1555.5 743.5 L1555.6 746.0 L1555.7 748.4 L1555.8 750.9 L1555.9 753.4 L1556.0 755.9 L1556.2 758.5 L1556.3 761.0 L1556.4 763.6 L1556.5 766.1 L1556.6 768.7 L1556.7 771.2 L1556.8 773.8 L1556.9 776.4 L1557.0 779.0 L1557.1 781.5 L1557.2 784.1 L1557.3 786.7 L1557.4 789.2 L1557.6 791.8 L1557.7 794.3 L1557.8 796.9 L1557.9 799.4 L1558.0 801.9 L1558.1 804.4 L1558.2 807.0 L1558.4 809.6 L1558.5 812.2 L1558.6 814.9 L1558.7 817.5 L1558.9 820.1 L1559.0 822.7 L1559.1 825.2 L1559.3 827.8 L1559.4 830.4 L1559.5 833.0 L1559.7 835.6 L1559.8 838.1 L1559.9 840.7 L1560.1 843.3 L1560.2 845.8 L1560.3 848.4 L1560.5 851.0 L1560.6 853.5 L1560.7 856.1 L1560.8 858.6 L1561.0 861.2 L1561.1 863.8 L1561.2 866.5 L1561.4 869.1 L1561.5 871.7 L1561.6 874.4 L1561.8 877.0 L1561.9 879.6 L1562.0 882.2 L1562.2 884.9 L1562.3 887.5 L1562.4 890.1 L1562.5 892.7 L1562.7 895.3 L1562.8 897.9 L1562.9 900.5 L1563.1 903.1 L1563.2 905.7 L1563.3 908.3 L1563.4 910.9 L1563.6 913.4 L1563.7 916.0 L1563.8 918.6 L1563.9 921.2 L1564.1 923.7 L1564.2 926.3 L1564.3 928.8 L1564.4 931.4 L1564.5 933.9 L1564.7 936.4 L1564.8 939.0 L1564.9 941.5 L1565.0 944.0 L1565.1 946.5 L1565.2 949.1 L1565.4 951.6 L1565.5 954.1 L1565.6 956.6 L1565.7 959.1 L1565.8 961.7 L1565.9 964.2 L1566.0 966.7 L1566.2 969.2 L1566.3 971.7 L1566.4 974.2 L1566.5 976.6 L1566.6 979.1 L1566.7 981.5 L1566.8 984.0 L1566.9 986.4 L1567.0 988.9 L1567.1 991.3 L1567.2 993.8 L1567.3 996.3 L1567.4 998.7 L1567.5 1001.3 L1567.6 1003.8 L1567.7 1006.3 L1567.8 1008.9 L1567.9 1011.5 L1568.0 1014.1 L1568.2 1016.8 L1568.3 1019.2 L1568.4 1021.6 L1568.5 1024.1 L1568.6 1026.6 L1568.7 1029.2 L1568.9 1031.7 L1569.0 1034.3 L1569.1 1036.9 L1569.2 1039.5 L1569.4 1042.1 L1569.5 1044.8 L1569.6 1047.4 L1569.7 1050.1 L1569.9 1052.7 L1570.0 1055.4 L1570.1 1058.0 L1570.3 1060.6 L1570.4 1063.3 L1570.5 1065.9 L1570.7 1068.5 L1570.8 1071.1 L1571.0 1073.6 L1571.1 1076.2 L1571.2 1078.7 L1571.4 1081.1 L1571.5 1083.6 L1571.7 1086.3 L1571.9 1088.9 L1572.0 1091.5 L1572.2 1094.1 L1572.4 1096.7 L1572.5 1099.3 L1572.7 1101.8 L1572.9 1104.4 L1573.1 1106.9 L1573.3 1109.4 L1573.4 1111.9 L1573.6 1114.4 L1573.8 1116.9 L1574.0 1119.4 L1574.2 1121.9 L1574.4 1124.4 L1574.5 1126.9 L1574.7 1129.4 L1574.9 1131.9 L1575.1 1134.5 L1575.3 1137.0 L1575.5 1139.6 L1575.7 1142.1 L1575.9 1144.7 L1576.1 1147.3 L1576.3 1149.9 L1576.5 1152.5 L1576.7 1155.1 L1576.8 1157.7 L1577.0 1160.3 L1577.2 1162.9 L1577.4 1165.5 L1577.6 1168.1 L1577.9 1170.7 L1578.1 1173.2 L1578.3 1175.8 L1578.5 1178.3 L1578.7 1180.8 L1578.9 1183.2 L1579.1 1185.7 L1579.4 1188.1 L1579.6 1190.5 L1579.9 1193.1 L1580.1 1195.8 L1580.4 1198.4 L1580.7 1201.0 L1581.0 1203.5 L1581.2 1206.1 L1581.5 1208.6 L1581.8 1211.1 L1582.1 1213.6 L1582.4 1216.0 L1582.7 1218.5 L1583.0 1220.9 L1583.3 1223.3 L1583.6 1225.7 L1584.0 1228.2 L1584.3 1230.6 L1584.7 1233.1 L1585.0 1235.7 L1585.4 1238.2 L1585.7 1240.7 L1586.1 1243.2 L1586.5 1245.7 L1586.9 1248.2 L1587.2 1250.6 L1587.6 1253.1 L1588.0 1255.5 L1588.5 1258.0 L1588.9 1260.4 L1589.3 1262.8 L1589.8 1265.3 L1590.2 1267.8 L1590.7 1270.3 L1591.2 1272.8 L1591.7 1275.4 L1592.2 1277.9 L1592.7 1280.4 L1593.2 1282.9 L1593.8 1285.4 L1594.3 1287.8 L1594.9 1290.3 L1595.5 1292.6 L1596.1 1295.0 L1596.7 1297.3 L1597.4 1299.8 L1598.1 1302.4 L1598.9 1304.9 L1599.6 1307.3 L1600.4 1309.8 L1601.2 1312.2 L1602.0 1314.5 L1602.9 1316.8 L1603.8 1319.0 L1604.7 1321.2 L1605.9 1323.8 L1607.2 1326.5 L1608.4 1329.0 L1609.8 1331.4 L1611.2 1333.8 L1612.7 1336.0 L1614.3 1338.2 L1615.9 1340.2 L1617.7 1342.1 L1619.5 1343.9 L1621.4 1345.7 L1623.4 1347.3 L1625.4 1348.7 L1627.4 1350.0 L1629.8 1351.4 L1632.2 1352.5 L1634.7 1353.4 L1637.4 1354.1 L1640.4 1354.8 L1642.6 1355.3 L1645.0 1355.6 L1647.6 1355.9 L1650.3 1356.1 L1653.1 1356.3 L1655.9 1356.5 L1658.7 1356.6 L1661.5 1356.7 L1664.3 1356.7 L1667.0 1356.8 L1669.6 1356.8 L1672.3 1356.8 L1674.8 1356.8 L1677.4 1356.7 L1680.0 1356.6 L1682.6 1356.5 L1685.3 1356.4 L1688.0 1356.2 L1690.8 1356.1 L1693.7 1355.9 L1696.0 1355.8 L1698.3 1355.7 L1700.6 1355.5 L1703.0 1355.3 L1705.4 1355.2 L1707.9 1355.0 L1710.4 1354.8 L1712.9 1354.6 L1715.4 1354.4 L1718.0 1354.2 L1720.6 1354.0 L1723.2 1353.8 L1725.8 1353.6 L1728.5 1353.4 L1731.1 1353.2 L1733.8 1353.0 L1736.2 1352.8 L1738.6 1352.6 L1741.0 1352.4 L1743.5 1352.2 L1746.0 1352.0 L1748.5 1351.8 L1751.0 1351.6 L1753.6 1351.4 L1756.2 1351.2 L1758.7 1351.0 L1761.3 1350.8 L1763.9 1350.6 L1766.5 1350.4 L1769.1 1350.2 L1771.7 1350.0 L1774.3 1349.8 L1776.9 1349.6 L1779.5 1349.4 L1782.1 1349.2 L1784.7 1349.0 L1787.2 1348.9 L1789.7 1348.7 L1792.3 1348.5 L1794.7 1348.4 L1797.2 1348.2 L1799.7 1348.0 L1802.2 1347.9 L1804.6 1347.7 L1807.1 1347.6 L1809.5 1347.4 L1812.0 1347.3 L1814.5 1347.1 L1817.0 1347.0 L1819.5 1346.8 L1822.0 1346.7 L1824.6 1346.6 L1827.2 1346.4 L1829.8 1346.3 L1832.4 1346.1 L1835.1 1346.0 L1837.8 1345.9 L1840.6 1345.7 L1842.9 1345.6 L1845.3 1345.5 L1847.8 1345.4 L1850.2 1345.3 L1852.7 1345.2 L1855.3 1345.1 L1857.8 1344.9 L1860.4 1344.8 L1863.1 1344.7 L1865.7 1344.6 L1868.4 1344.5 L1871.0 1344.4 L1873.7 1344.3 L1876.4 1344.2 L1879.1 1344.1 L1881.8 1344.0 L1884.5 1343.9 L1887.2 1343.8 L1889.9 1343.7 L1892.5 1343.6 L1895.2 1343.5 L1897.8 1343.4 L1900.4 1343.3 L1903.0 1343.2 L1905.5 1343.1 L1908.1 1343.0 L1910.5 1342.9 L1913.0 1342.9 L1915.4 1342.8 L1917.7 1342.7 L1920.0 1342.6 L1922.8 1342.5 L1925.5 1342.4 L1928.1 1342.3 L1930.7 1342.2 L1933.3 1342.1 L1935.8 1342.0 L1938.3 1341.9 L1940.7 1341.9 L1943.2 1341.8 L1945.6 1341.7 L1948.0 1341.6 L1950.4 1341.5 L1952.8 1341.4 L1955.2 1341.4 L1957.6 1341.3 L1960.0 1341.2 L1962.5 1341.1 L1965.0 1341.0 L1967.5 1341.0 L1970.0 1340.9 L1972.4 1340.8 L1974.9 1340.8 L1977.4 1340.7 L1979.8 1340.6 L1982.3 1340.6 L1984.8 1340.5 L1987.3 1340.4 L1989.8 1340.4 L1992.3 1340.3 L1994.8 1340.2 L1997.3 1340.2 L1999.9 1340.1 L2002.4 1340.1 L2004.9 1340.0 L2007.4 1339.9 L2009.9 1339.9 L2012.4 1339.8 L2015.0 1339.7 L2017.5 1339.7 L2020.0 1339.6 L2022.5 1339.6 L2025.0 1339.5" fill="none" stroke="#1A6FDF" stroke-width="5" stroke-linejoin="round" stroke-linecap="butt"/></g>
<g font-size="64" fill="#000">
<text x="454.5" y="1598" text-anchor="middle">600</text>
<text x="846.8" y="1598" text-anchor="middle">800</text>
<text x="1239.1" y="1598" text-anchor="middle">1000</text>
<text x="1631.4" y="1598" text-anchor="middle">1200</text>
<text x="2023.7" y="1598" text-anchor="middle">1400</text>
<text x="264.2" y="90.4" text-anchor="end">0.8</text>
<text x="264.2" y="409.4" text-anchor="end">0.6</text>
<text x="264.2" y="732.0" text-anchor="end">0.4</text>
<text x="264.2" y="1051.9" text-anchor="end">0.2</text>
<text x="264.2" y="1374.1" text-anchor="end">0.0</text>
</g>
<text x="1165.5" y="1720.8" text-anchor="middle" font-weight="bold" font-size="78.4">Wavelength(nm)</text>
<text transform="translate(109.6 748.9) rotate(-90)" text-anchor="middle" font-weight="bold" font-size="78.4">Transmittance</text>
<path d="M1348.4 164.5 H1477" stroke="#515151" stroke-width="5" fill="none"/>
<text x="1494" y="187.5" font-size="78.7">h=25nm</text>
<path d="M1348.4 261.7 H1477" stroke="#F04040" stroke-width="5" fill="none"/>
<text x="1494" y="284.4" font-size="78.7">h=30nm</text>
<path d="M1348.4 359.9 H1477" stroke="#1A6FDF" stroke-width="5" fill="none"/>
<text x="1494" y="383.2" font-size="78.7">h=35nm</text>
<text x="636" y="243.2" font-weight="bold" font-size="99" letter-spacing="1.5">(a)</text>
</g>
<g>
<clipPath id="clipb"><rect x="308.0" y="1808.6" width="1709.6" height="1436.7000000000003"/></clipPath>
<path d="M308.5 1808.6 V3245.3 M2015.1 1808.6 V3245.3 M308.5 1808.6 H2015.1 M308.5 3245.3 H2015.1 M441.9 3245.3 V3214.8 M638.5 3245.3 V3229.8 M835.2 3245.3 V3214.8 M1031.8 3245.3 V3229.8 M1228.5 3245.3 V3214.8 M1425.2 3245.3 V3229.8 M1621.8 3245.3 V3214.8 M1818.4 3245.3 V3229.8 M308.5 1967.5 H324.0 M308.5 2128.9 H339.0 M308.5 2289.0 H324.0 M308.5 2447.0 H339.0 M308.5 2606.2 H324.0 M308.5 2767.9 H339.0 M308.5 2928.6 H324.0 M308.5 3086.0 H339.0" fill="none" stroke="#000" stroke-width="5"/>
<g clip-path="url(#clipb)"><path d="M308.5 3050.0 L309.0 3047.5 L309.4 3045.0 L309.9 3042.5 L310.3 3040.0 L310.8 3037.5 L311.3 3035.0 L311.7 3032.5 L312.2 3030.0 L312.7 3027.5 L313.2 3025.0 L313.8 3022.4 L314.4 3019.8 L315.0 3017.1 L315.6 3014.5 L316.2 3011.9 L316.8 3009.3 L317.5 3006.7 L318.1 3004.1 L318.7 3001.5 L319.3 3004.1 L319.9 3006.6 L320.5 3009.2 L321.1 3011.8 L321.7 3014.4 L322.3 3016.9 L322.8 3019.4 L323.4 3021.8 L323.9 3024.6 L324.4 3027.4 L324.9 3030.0 L325.4 3032.7 L325.9 3035.3 L326.3 3038.0 L326.8 3040.7 L327.2 3043.5 L327.6 3046.3 L328.1 3049.0 L328.5 3051.7 L329.0 3054.2 L329.5 3057.0 L330.2 3059.7 L330.8 3062.3 L331.4 3064.8 L332.3 3067.6 L333.2 3070.2 L334.0 3072.9 L334.9 3075.6 L335.7 3078.3 L336.5 3081.0 L336.8 3078.4 L337.1 3075.7 L337.4 3073.0 L337.7 3070.3 L338.0 3067.6 L338.3 3064.9 L338.5 3062.2 L338.8 3059.6 L339.1 3057.0 L339.4 3054.6 L339.6 3052.2 L339.9 3050.0 L340.2 3047.1 L340.5 3044.5 L340.8 3042.1 L341.0 3039.7 L341.3 3037.0 L341.5 3034.0 L341.7 3031.9 L341.8 3029.8 L342.0 3027.5 L342.1 3025.1 L342.3 3022.6 L342.4 3020.1 L342.6 3017.5 L342.7 3014.8 L342.8 3012.1 L343.0 3009.4 L343.1 3006.6 L343.2 3003.9 L343.4 3001.2 L343.5 2998.5 L343.6 2995.9 L343.8 2993.3 L343.9 2990.8 L344.0 2988.2 L344.1 2985.7 L344.2 2983.2 L344.3 2980.6 L344.5 2978.1 L344.6 2975.6 L344.7 2973.0 L344.8 2970.5 L344.9 2968.0 L345.0 2965.5 L345.1 2962.9 L345.2 2960.4 L345.3 2957.9 L345.4 2955.3 L345.5 2952.8 L345.7 2950.3 L345.8 2947.8 L345.9 2945.3 L346.0 2942.8 L346.1 2940.3 L346.2 2937.8 L346.3 2935.3 L346.4 2932.8 L346.6 2930.3 L346.7 2927.8 L346.8 2925.3 L346.9 2922.7 L347.0 2920.1 L347.1 2917.5 L347.2 2914.9 L347.2 2912.2 L347.3 2909.7 L347.4 2907.3 L347.4 2904.8 L347.5 2902.2 L347.6 2899.7 L347.6 2897.1 L347.7 2894.6 L347.7 2892.0 L347.8 2889.4 L347.8 2886.7 L347.8 2884.1 L347.9 2881.5 L347.9 2878.8 L348.0 2876.1 L348.0 2873.5 L348.1 2870.8 L348.1 2868.1 L348.2 2865.4 L348.2 2862.7 L348.3 2860.0 L348.3 2857.6 L348.4 2855.2 L348.5 2852.8 L348.5 2850.4 L348.6 2848.0 L348.6 2845.7 L348.7 2843.3 L348.8 2840.9 L348.8 2838.5 L348.9 2836.1 L349.0 2833.6 L349.0 2831.2 L349.1 2828.8 L349.2 2826.3 L349.3 2823.8 L349.3 2821.3 L349.4 2818.7 L349.5 2816.2 L349.5 2813.6 L349.6 2810.9 L349.6 2808.3 L349.7 2805.5 L349.8 2802.8 L349.8 2800.0 L349.9 2797.7 L349.9 2795.4 L350.0 2793.1 L350.0 2790.7 L350.0 2788.3 L350.1 2785.9 L350.1 2783.4 L350.2 2780.9 L350.2 2778.4 L350.2 2775.9 L350.3 2773.3 L350.3 2770.7 L350.3 2768.1 L350.4 2765.5 L350.4 2762.9 L350.4 2760.2 L350.5 2757.6 L350.5 2754.9 L350.5 2752.2 L350.6 2749.6 L350.6 2746.9 L350.6 2744.2 L350.7 2741.5 L350.7 2738.8 L350.7 2736.1 L350.8 2733.5 L350.8 2730.8 L350.8 2728.1 L350.9 2725.5 L350.9 2722.8 L351.0 2720.2 L351.0 2717.6 L351.0 2715.0 L351.1 2712.5 L351.1 2709.9 L351.2 2707.4 L351.2 2704.9 L351.2 2702.4 L351.3 2700.0 L351.3 2697.4 L351.4 2694.8 L351.5 2692.2 L351.5 2689.7 L351.6 2687.2 L351.6 2684.7 L351.7 2682.2 L351.8 2679.8 L351.8 2677.3 L351.9 2674.9 L351.9 2672.5 L352.0 2670.1 L352.1 2667.7 L352.1 2665.3 L352.2 2662.9 L352.3 2660.5 L352.3 2658.0 L352.4 2655.6 L352.5 2653.2 L352.5 2650.8 L352.6 2648.3 L352.6 2645.9 L352.7 2643.4 L352.8 2640.9 L352.8 2638.4 L352.9 2635.9 L353.0 2633.3 L353.0 2630.7 L353.1 2628.1 L353.1 2625.4 L353.2 2622.7 L353.2 2620.0 L353.3 2617.7 L353.3 2615.4 L353.4 2613.1 L353.4 2610.7 L353.5 2608.3 L353.5 2605.9 L353.5 2603.4 L353.6 2600.9 L353.6 2598.4 L353.7 2595.9 L353.7 2593.3 L353.8 2590.7 L353.8 2588.1 L353.8 2585.5 L353.9 2582.9 L353.9 2580.3 L354.0 2577.6 L354.0 2575.0 L354.0 2572.3 L354.1 2569.6 L354.1 2567.0 L354.2 2564.3 L354.2 2561.6 L354.2 2558.9 L354.3 2556.3 L354.3 2553.6 L354.4 2551.0 L354.4 2548.3 L354.4 2545.7 L354.5 2543.0 L354.5 2540.4 L354.5 2537.8 L354.6 2535.3 L354.6 2532.7 L354.6 2530.2 L354.7 2527.7 L354.7 2525.2 L354.7 2522.7 L354.8 2520.3 L354.8 2517.9 L354.8 2515.5 L354.9 2513.2 L354.9 2510.9 L354.9 2508.6 L355.0 2506.4 L355.0 2504.2 L355.0 2502.1 L355.1 2500.0 L355.1 2497.1 L355.1 2494.3 L355.2 2491.7 L355.2 2489.0 L355.2 2486.5 L355.3 2484.0 L355.3 2481.6 L355.3 2479.2 L355.3 2476.9 L355.4 2474.6 L355.4 2472.3 L355.4 2470.0 L355.4 2467.7 L355.5 2465.4 L355.5 2463.1 L355.5 2460.8 L355.6 2458.4 L355.6 2456.0 L355.6 2453.5 L355.7 2451.0 L355.7 2448.3 L355.7 2445.7 L355.8 2442.9 L355.8 2440.0 L355.9 2437.9 L355.9 2435.8 L355.9 2433.6 L356.0 2431.4 L356.0 2429.2 L356.0 2427.0 L356.1 2424.7 L356.1 2422.4 L356.2 2420.1 L356.2 2417.7 L356.3 2415.3 L356.3 2412.9 L356.3 2410.5 L356.4 2408.0 L356.4 2405.5 L356.5 2403.1 L356.5 2400.5 L356.6 2398.0 L356.6 2395.5 L356.7 2392.9 L356.7 2390.4 L356.8 2387.8 L356.8 2385.2 L356.9 2382.6 L356.9 2380.0 L357.0 2377.3 L357.1 2374.7 L357.1 2372.1 L357.2 2369.5 L357.2 2366.8 L357.3 2364.2 L357.3 2361.5 L357.4 2358.9 L357.4 2356.2 L357.5 2353.6 L357.6 2351.0 L357.6 2348.3 L357.7 2345.7 L357.7 2343.1 L357.8 2340.5 L357.8 2337.9 L357.9 2335.3 L358.0 2332.7 L358.0 2330.1 L358.1 2327.6 L358.1 2325.0 L358.2 2322.5 L358.2 2320.0 L358.3 2317.5 L358.4 2315.0 L358.4 2312.4 L358.5 2309.9 L358.6 2307.3 L358.6 2304.7 L358.7 2302.1 L358.7 2299.5 L358.8 2296.9 L358.9 2294.3 L358.9 2291.7 L359.0 2289.0 L359.1 2286.4 L359.2 2283.8 L359.2 2281.1 L359.3 2278.5 L359.4 2275.8 L359.4 2273.2 L359.5 2270.6 L359.6 2267.9 L359.7 2265.3 L359.7 2262.7 L359.8 2260.0 L359.9 2257.4 L359.9 2254.8 L360.0 2252.2 L360.1 2249.6 L360.1 2247.1 L360.2 2244.5 L360.3 2242.0 L360.3 2239.5 L360.4 2236.9 L360.5 2234.5 L360.5 2232.0 L360.6 2229.5 L360.7 2227.1 L360.7 2224.7 L360.8 2222.3 L360.9 2219.9 L360.9 2217.6 L361.0 2215.3 L361.0 2213.0 L361.1 2210.8 L361.1 2208.6 L361.2 2206.4 L361.2 2204.2 L361.3 2202.1 L361.3 2200.0 L361.4 2197.1 L361.4 2194.3 L361.5 2191.5 L361.5 2188.8 L361.6 2186.2 L361.6 2183.6 L361.7 2181.0 L361.7 2178.5 L361.8 2176.0 L361.8 2173.5 L361.8 2171.1 L361.9 2168.7 L361.9 2166.3 L362.0 2164.0 L362.0 2161.6 L362.0 2159.2 L362.1 2156.9 L362.1 2154.5 L362.1 2152.1 L362.2 2149.8 L362.2 2147.4 L362.2 2144.9 L362.3 2142.5 L362.3 2140.0 L362.4 2137.5 L362.4 2135.0 L362.5 2132.5 L362.5 2130.0 L362.5 2127.5 L362.6 2125.0 L362.6 2122.5 L362.7 2120.0 L362.7 2117.5 L362.7 2115.0 L362.8 2112.5 L362.8 2110.0 L362.9 2107.5 L362.9 2105.0 L363.0 2102.5 L363.0 2100.0 L363.1 2097.5 L363.1 2095.0 L363.2 2092.5 L363.2 2090.0 L363.3 2087.5 L363.3 2085.0 L363.4 2082.5 L363.4 2080.0 L363.5 2077.5 L363.6 2075.0 L363.6 2072.5 L363.7 2069.9 L363.8 2067.4 L363.8 2064.9 L363.9 2062.3 L364.0 2059.8 L364.0 2057.3 L364.1 2054.7 L364.2 2052.2 L364.3 2049.7 L364.3 2047.1 L364.4 2044.6 L364.5 2042.1 L364.6 2039.6 L364.7 2037.1 L364.7 2034.6 L364.8 2032.1 L364.9 2029.7 L365.0 2027.2 L365.1 2024.8 L365.2 2022.4 L365.2 2020.0 L365.3 2017.4 L365.4 2014.7 L365.5 2012.1 L365.6 2009.4 L365.7 2006.8 L365.8 2004.1 L365.9 2001.5 L366.0 1998.9 L366.1 1996.2 L366.1 1993.6 L366.2 1991.1 L366.3 1988.6 L366.4 1986.1 L366.5 1983.6 L366.6 1981.2 L366.8 1978.8 L366.9 1976.5 L367.0 1974.3 L367.1 1972.1 L367.2 1970.0 L367.4 1967.2 L367.6 1964.4 L367.7 1961.8 L367.9 1959.3 L368.1 1956.9 L368.3 1954.5 L368.5 1952.1 L368.7 1949.8 L369.0 1947.4 L369.2 1945.0 L369.5 1942.2 L369.9 1939.4 L370.2 1936.7 L370.6 1933.9 L371.0 1931.2 L371.4 1928.5 L371.7 1925.7 L372.1 1923.0 L372.7 1925.8 L373.2 1928.7 L373.8 1931.6 L374.4 1934.4 L374.9 1937.2 L375.4 1940.0 L375.9 1942.6 L376.3 1945.1 L376.8 1947.6 L377.2 1950.0 L377.6 1952.5 L378.0 1955.0 L378.4 1957.4 L378.9 1959.8 L379.3 1962.2 L379.7 1964.6 L380.1 1967.2 L380.5 1970.0 L380.7 1972.2 L381.0 1974.4 L381.3 1976.8 L381.6 1979.3 L381.8 1981.8 L382.1 1984.4 L382.4 1987.0 L382.6 1989.6 L382.9 1992.3 L383.1 1994.9 L383.4 1997.5 L383.6 2000.0 L383.8 2002.5 L384.1 2005.0 L384.3 2007.5 L384.5 2010.0 L384.7 2012.5 L384.9 2015.0 L385.1 2017.5 L385.3 2020.0 L385.5 2022.5 L385.7 2025.0 L385.9 2027.5 L386.1 2030.0 L386.3 2032.5 L386.6 2035.0 L386.8 2037.5 L387.0 2040.0 L387.2 2042.5 L387.4 2045.0 L387.6 2047.5 L387.8 2050.0 L388.0 2052.5 L388.3 2055.0 L388.5 2057.5 L388.7 2060.0 L388.9 2062.5 L389.1 2065.0 L389.3 2067.5 L389.5 2070.0 L389.7 2072.5 L389.9 2075.0 L390.1 2077.5 L390.3 2080.0 L390.5 2082.5 L390.7 2085.0 L390.9 2087.5 L391.1 2090.0 L391.3 2092.5 L391.5 2095.0 L391.8 2097.5 L392.0 2100.0 L392.2 2102.5 L392.4 2105.0 L392.6 2107.5 L392.8 2110.0 L393.0 2112.5 L393.3 2115.0 L393.5 2117.5 L393.7 2120.0 L393.9 2122.5 L394.1 2125.0 L394.3 2127.5 L394.5 2130.0 L394.7 2132.5 L394.9 2135.0 L395.1 2137.5 L395.3 2140.0 L395.5 2142.5 L395.7 2145.0 L395.9 2147.5 L396.1 2150.0 L396.3 2152.5 L396.6 2155.1 L396.8 2157.6 L397.0 2160.2 L397.2 2162.8 L397.4 2165.4 L397.7 2167.9 L397.9 2170.4 L398.1 2172.9 L398.3 2175.3 L398.5 2177.7 L398.7 2180.0 L399.0 2182.7 L399.2 2185.2 L399.5 2187.6 L399.7 2190.0 L400.0 2192.4 L400.2 2194.8 L400.5 2197.3 L400.8 2200.0 L401.0 2202.3 L401.3 2204.6 L401.5 2207.1 L401.8 2209.5 L402.1 2212.1 L402.4 2214.6 L402.7 2217.2 L403.0 2219.8 L403.3 2222.4 L403.7 2224.9 L404.0 2227.5 L404.3 2230.0 L404.6 2232.5 L404.9 2235.0 L405.2 2237.5 L405.5 2240.0 L405.9 2242.5 L406.2 2245.0 L406.5 2247.5 L406.9 2250.0 L407.2 2252.5 L407.5 2255.0 L407.9 2257.5 L408.2 2260.0 L408.5 2262.5 L408.9 2265.0 L409.2 2267.5 L409.5 2270.0 L409.9 2272.5 L410.2 2275.0 L410.5 2277.5 L410.9 2280.0 L411.2 2282.5 L411.6 2285.0 L412.0 2287.5 L412.3 2290.0 L412.7 2292.5 L413.1 2295.0 L413.5 2297.6 L413.9 2300.1 L414.3 2302.6 L414.7 2305.2 L415.2 2307.7 L415.6 2310.2 L416.0 2312.7 L416.5 2315.2 L416.9 2317.6 L417.4 2320.0 L417.9 2322.8 L418.4 2325.6 L419.0 2328.4 L419.5 2331.2 L420.1 2333.9 L420.6 2336.5 L421.3 2339.1 L421.9 2341.7 L422.6 2344.2 L423.4 2346.9 L424.2 2349.7 L425.1 2352.3 L426.0 2354.9 L426.9 2357.4 L427.9 2359.7 L429.0 2361.9 L430.6 2364.5 L432.4 2366.8 L434.1 2369.0 L435.9 2371.3 L437.7 2369.2 L439.5 2367.1 L441.2 2364.8 L442.7 2362.4 L444.1 2359.9 L445.5 2357.1 L446.7 2354.1 L447.4 2351.7 L448.1 2349.2 L448.7 2346.5 L449.2 2343.8 L449.8 2340.9 L450.3 2338.0 L450.8 2335.0 L451.2 2332.7 L451.6 2330.4 L451.9 2328.0 L452.3 2325.5 L452.6 2323.0 L453.0 2320.4 L453.3 2317.8 L453.6 2315.2 L453.9 2312.6 L454.2 2310.1 L454.6 2307.5 L454.9 2305.0 L455.1 2302.5 L455.4 2300.0 L455.7 2297.6 L456.0 2295.1 L456.2 2292.6 L456.5 2290.2 L456.7 2287.7 L457.0 2285.2 L457.2 2282.7 L457.4 2280.2 L457.7 2277.6 L457.9 2275.0 L458.1 2272.5 L458.4 2270.0 L458.6 2267.5 L458.8 2265.0 L459.0 2262.5 L459.3 2259.9 L459.5 2257.3 L459.7 2254.7 L459.9 2252.1 L460.1 2249.5 L460.3 2246.9 L460.5 2244.3 L460.7 2241.6 L461.0 2239.0 L461.1 2236.6 L461.3 2234.1 L461.5 2231.6 L461.7 2229.2 L461.9 2226.7 L462.1 2224.2 L462.3 2221.7 L462.5 2219.2 L462.7 2216.7 L462.8 2214.2 L463.0 2211.6 L463.2 2209.1 L463.4 2206.6 L463.6 2204.1 L463.8 2201.5 L464.0 2199.0 L464.2 2196.4 L464.4 2193.7 L464.6 2191.1 L464.8 2188.4 L465.0 2185.6 L465.1 2182.9 L465.3 2180.2 L465.5 2177.5 L465.7 2174.8 L465.9 2172.1 L466.1 2169.5 L466.3 2166.9 L466.5 2164.3 L466.8 2161.8 L467.0 2159.4 L467.2 2157.0 L467.5 2154.0 L467.8 2151.0 L468.1 2147.9 L468.4 2145.0 L468.7 2142.1 L469.0 2139.3 L469.3 2136.7 L469.6 2134.2 L470.0 2132.0 L470.3 2130.1 L471.1 2126.2 L472.0 2123.0 L472.2 2125.7 L472.4 2128.3 L472.6 2131.0 L472.7 2133.7 L472.9 2136.5 L473.1 2139.2 L473.3 2141.9 L473.5 2144.6 L473.7 2147.2 L473.8 2149.9 L474.0 2152.5 L474.2 2155.0 L474.4 2157.5 L474.5 2160.0 L474.7 2162.8 L474.9 2165.4 L475.0 2167.8 L475.2 2170.2 L475.4 2172.7 L475.5 2175.1 L475.7 2177.7 L475.8 2180.4 L476.0 2183.4 L476.1 2186.6 L476.2 2188.5 L476.3 2190.4 L476.3 2192.4 L476.4 2194.4 L476.5 2196.5 L476.6 2198.7 L476.6 2200.9 L476.7 2203.1 L476.8 2205.4 L476.8 2207.8 L476.9 2210.2 L477.0 2212.6 L477.0 2215.1 L477.1 2217.6 L477.2 2220.2 L477.2 2222.8 L477.3 2225.4 L477.4 2228.0 L477.4 2230.7 L477.5 2233.4 L477.6 2236.1 L477.6 2238.9 L477.7 2241.7 L477.8 2244.5 L477.8 2247.3 L477.9 2250.1 L478.0 2252.9 L478.0 2255.7 L478.1 2258.6 L478.2 2261.4 L478.2 2264.3 L478.3 2267.1 L478.4 2270.0 L478.4 2272.2 L478.5 2274.4 L478.5 2276.7 L478.6 2279.0 L478.6 2281.3 L478.7 2283.6 L478.7 2286.0 L478.8 2288.4 L478.8 2290.8 L478.9 2293.2 L479.0 2295.7 L479.0 2298.2 L479.1 2300.7 L479.1 2303.2 L479.2 2305.7 L479.2 2308.3 L479.3 2310.8 L479.4 2313.4 L479.4 2316.0 L479.5 2318.6 L479.5 2321.2 L479.6 2323.8 L479.6 2326.5 L479.7 2329.1 L479.7 2331.7 L479.8 2334.4 L479.9 2337.0 L479.9 2339.7 L480.0 2342.3 L480.0 2345.0 L480.1 2347.6 L480.1 2350.3 L480.2 2352.9 L480.3 2355.5 L480.3 2358.2 L480.4 2360.8 L480.4 2363.4 L480.5 2366.0 L480.5 2368.6 L480.6 2371.2 L480.6 2373.8 L480.7 2376.3 L480.7 2378.9 L480.8 2381.4 L480.8 2383.9 L480.9 2386.4 L480.9 2388.9 L481.0 2391.3 L481.0 2393.7 L481.1 2396.1 L481.1 2398.5 L481.2 2400.9 L481.2 2403.2 L481.3 2405.5 L481.3 2407.8 L481.3 2410.0 L481.4 2412.8 L481.4 2415.5 L481.5 2418.1 L481.5 2420.7 L481.6 2423.3 L481.6 2425.8 L481.7 2428.4 L481.7 2430.8 L481.8 2433.3 L481.8 2435.7 L481.9 2438.1 L481.9 2440.5 L482.0 2442.9 L482.0 2445.3 L482.0 2447.6 L482.1 2449.9 L482.1 2452.3 L482.2 2454.6 L482.2 2457.0 L482.2 2459.3 L482.3 2461.7 L482.3 2464.0 L482.4 2466.4 L482.4 2468.8 L482.4 2471.2 L482.5 2473.7 L482.5 2476.2 L482.6 2478.7 L482.6 2481.2 L482.6 2483.7 L482.7 2486.3 L482.7 2489.0 L482.8 2491.7 L482.8 2494.4 L482.8 2497.2 L482.9 2500.0 L482.9 2502.2 L482.9 2504.3 L483.0 2506.5 L483.0 2508.8 L483.0 2511.0 L483.1 2513.3 L483.1 2515.6 L483.1 2517.9 L483.2 2520.2 L483.2 2522.6 L483.2 2524.9 L483.3 2527.3 L483.3 2529.7 L483.3 2532.1 L483.3 2534.6 L483.4 2537.0 L483.4 2539.5 L483.4 2542.0 L483.5 2544.5 L483.5 2547.0 L483.5 2549.5 L483.5 2552.0 L483.6 2554.6 L483.6 2557.1 L483.6 2559.7 L483.7 2562.3 L483.7 2564.8 L483.7 2567.4 L483.8 2570.0 L483.8 2572.6 L483.8 2575.2 L483.8 2577.8 L483.9 2580.4 L483.9 2583.0 L483.9 2585.7 L484.0 2588.3 L484.0 2590.9 L484.0 2593.5 L484.0 2596.2 L484.1 2598.8 L484.1 2601.4 L484.1 2604.0 L484.2 2606.6 L484.2 2609.3 L484.2 2611.9 L484.2 2614.5 L484.3 2617.1 L484.3 2619.7 L484.3 2622.3 L484.4 2624.9 L484.4 2627.4 L484.4 2630.0 L484.4 2632.6 L484.5 2635.1 L484.5 2637.7 L484.5 2640.2 L484.5 2642.7 L484.6 2645.2 L484.6 2647.7 L484.6 2650.2 L484.7 2652.7 L484.7 2655.1 L484.7 2657.6 L484.7 2660.0 L484.8 2662.6 L484.8 2665.2 L484.8 2667.8 L484.9 2670.3 L484.9 2672.9 L484.9 2675.5 L484.9 2678.1 L485.0 2680.7 L485.0 2683.3 L485.0 2685.9 L485.0 2688.5 L485.1 2691.0 L485.1 2693.6 L485.1 2696.2 L485.1 2698.8 L485.2 2701.4 L485.2 2703.9 L485.2 2706.5 L485.2 2709.1 L485.3 2711.7 L485.3 2714.2 L485.3 2716.8 L485.3 2719.3 L485.4 2721.9 L485.4 2724.4 L485.4 2727.0 L485.4 2729.5 L485.5 2732.1 L485.5 2734.6 L485.5 2737.1 L485.5 2739.6 L485.6 2742.1 L485.6 2744.6 L485.6 2747.1 L485.6 2749.6 L485.7 2752.1 L485.7 2754.6 L485.7 2757.1 L485.7 2759.5 L485.8 2762.0 L485.8 2764.4 L485.8 2766.9 L485.9 2769.3 L485.9 2771.7 L485.9 2774.1 L485.9 2776.5 L486.0 2778.9 L486.0 2781.3 L486.0 2783.7 L486.1 2786.0 L486.1 2788.4 L486.1 2790.7 L486.2 2793.1 L486.2 2795.4 L486.2 2797.7 L486.3 2800.0 L486.3 2802.7 L486.4 2805.4 L486.4 2808.0 L486.5 2810.7 L486.5 2813.3 L486.6 2815.9 L486.6 2818.5 L486.7 2821.1 L486.7 2823.6 L486.8 2826.2 L486.8 2828.7 L486.9 2831.2 L486.9 2833.7 L487.0 2836.2 L487.0 2838.7 L487.1 2841.2 L487.1 2843.7 L487.2 2846.1 L487.2 2848.6 L487.3 2851.0 L487.4 2853.5 L487.4 2855.9 L487.5 2858.4 L487.5 2860.8 L487.6 2863.2 L487.6 2865.7 L487.7 2868.1 L487.8 2870.5 L487.8 2873.0 L487.9 2875.4 L487.9 2877.8 L488.0 2880.3 L488.1 2882.7 L488.1 2885.2 L488.2 2887.6 L488.2 2890.1 L488.3 2892.5 L488.4 2895.0 L488.4 2897.5 L488.5 2900.0 L488.6 2902.5 L488.6 2905.0 L488.7 2907.6 L488.8 2910.2 L488.8 2912.7 L488.9 2915.3 L488.9 2917.9 L489.0 2920.5 L489.1 2923.2 L489.1 2925.8 L489.2 2928.4 L489.3 2931.1 L489.3 2933.7 L489.4 2936.4 L489.5 2939.0 L489.5 2941.6 L489.6 2944.3 L489.7 2946.9 L489.7 2949.5 L489.8 2952.1 L489.9 2954.7 L489.9 2957.3 L490.0 2959.9 L490.1 2962.5 L490.1 2965.0 L490.2 2967.5 L490.3 2970.0 L490.4 2972.5 L490.4 2975.0 L490.5 2977.4 L490.6 2979.8 L490.7 2982.2 L490.8 2984.5 L490.8 2986.8 L490.9 2989.1 L491.0 2991.4 L491.1 2993.6 L491.2 2995.8 L491.3 2997.9 L491.3 3000.0 L491.5 3002.9 L491.6 3005.7 L491.7 3008.5 L491.9 3011.3 L492.0 3014.0 L492.1 3016.6 L492.3 3019.2 L492.4 3021.8 L492.6 3024.3 L492.7 3026.8 L492.8 3029.2 L493.0 3031.7 L493.1 3034.0 L493.3 3036.4 L493.5 3038.7 L493.6 3041.0 L493.8 3043.3 L494.0 3045.5 L494.1 3047.8 L494.3 3050.0 L494.5 3052.8 L494.8 3055.6 L495.0 3058.3 L495.3 3060.9 L495.6 3063.4 L495.9 3066.0 L496.1 3068.4 L496.4 3070.9 L496.7 3073.4 L497.0 3075.9 L497.2 3078.4 L497.5 3081.0 L498.1 3078.5 L498.6 3075.9 L499.2 3073.4 L499.8 3070.9 L500.3 3068.3 L500.9 3065.7 L501.6 3063.0 L502.2 3060.5 L502.8 3057.9 L503.4 3055.2 L504.1 3052.5 L504.8 3049.7 L505.5 3047.0 L506.2 3044.3 L506.9 3041.6 L507.6 3039.0 L508.3 3036.5 L509.0 3033.9 L509.7 3031.4 L510.5 3028.9 L511.2 3026.5 L512.0 3024.0 L512.8 3021.6 L513.7 3019.1 L514.6 3016.6 L515.5 3014.0 L516.5 3011.5 L517.5 3009.0 L518.5 3006.4 L519.6 3004.0 L520.7 3001.6 L521.8 2999.2 L523.1 2996.8 L524.4 2994.4 L525.7 2992.0 L527.1 2989.7 L528.5 2987.4 L529.9 2985.3 L531.4 2983.3 L533.2 2981.0 L535.0 2978.9 L536.9 2976.8 L538.8 2975.0 L540.8 2973.2 L543.2 2971.4 L545.6 2969.8 L548.1 2968.3 L550.6 2967.0 L553.0 2965.8 L555.4 2964.8 L557.9 2963.9 L560.7 2963.1 L562.8 2962.6 L565.1 2962.2 L567.6 2961.8 L570.2 2961.4 L572.8 2961.1 L575.5 2960.9 L578.1 2960.7 L580.6 2960.4 L583.4 2960.2 L586.2 2960.1 L588.9 2960.0 L591.7 2959.9 L594.4 2959.9 L597.2 2959.9 L600.0 2959.9 L602.5 2960.0 L605.0 2960.1 L607.5 2960.3 L610.0 2960.5 L612.5 2960.7 L615.0 2961.0 L617.5 2961.3 L619.9 2961.6 L622.5 2962.0 L625.0 2962.4 L627.5 2962.9 L630.0 2963.4 L632.5 2963.9 L635.0 2964.5 L637.6 2965.1 L640.1 2965.7 L642.6 2966.3 L645.1 2966.9 L647.6 2967.6 L650.1 2968.3 L652.6 2969.0 L655.1 2969.7 L657.6 2970.4 L660.1 2971.1 L662.6 2971.9 L665.1 2972.6 L667.6 2973.4 L670.2 2974.2 L672.7 2975.0 L675.2 2975.7 L677.8 2976.4 L680.3 2977.1 L682.8 2977.7 L685.3 2978.2 L687.8 2978.7 L690.2 2979.2 L692.7 2979.6 L695.2 2980.1 L697.7 2980.5 L700.2 2981.0 L702.7 2981.4 L705.2 2981.8 L707.7 2982.3 L710.2 2982.7 L712.7 2983.1 L715.2 2983.5 L717.7 2983.9 L720.2 2984.3 L722.7 2984.8 L725.2 2985.2 L727.7 2985.6 L730.2 2986.1 L732.8 2986.5 L735.3 2986.9 L737.8 2987.4 L740.3 2987.8 L742.8 2988.3 L745.3 2988.7 L747.8 2989.2 L750.3 2989.6 L752.8 2990.1 L755.3 2990.6 L757.8 2991.1 L760.3 2991.5 L762.8 2992.0 L765.3 2992.5 L767.8 2993.0 L770.3 2993.5 L772.8 2994.0 L775.4 2994.6 L777.9 2995.1 L780.4 2995.7 L782.9 2996.3 L785.4 2996.9 L787.9 2997.5 L790.4 2998.2 L792.9 2998.9 L795.3 2999.6 L797.8 3000.3 L800.3 3001.1 L802.9 3001.9 L805.5 3002.8 L808.1 3003.7 L810.8 3004.7 L813.3 3005.6 L815.8 3006.6 L818.1 3007.5 L820.3 3008.4 L823.1 3009.6 L825.6 3010.8 L828.0 3012.0 L830.4 3013.3 L833.0 3014.7 L835.4 3016.2 L837.9 3017.8 L840.4 3019.4 L842.4 3020.9 L844.4 3022.4 L846.4 3024.0 L848.4 3025.6 L850.4 3027.4 L852.4 3029.2 L854.4 3031.1 L856.4 3033.1 L858.3 3035.2 L860.1 3037.3 L861.8 3039.5 L863.4 3041.9 L864.9 3044.2 L866.4 3046.6 L867.9 3049.1 L869.4 3051.5 L870.9 3054.1 L872.3 3056.6 L873.7 3059.1 L875.1 3061.4 L876.6 3063.9 L878.1 3066.3 L879.5 3068.6 L881.0 3071.0 L881.4 3068.2 L881.9 3065.6 L882.3 3063.0 L882.8 3060.2 L883.2 3057.2 L883.6 3053.8 L883.8 3051.8 L884.0 3049.7 L884.1 3047.4 L884.3 3045.0 L884.5 3042.6 L884.6 3040.1 L884.7 3037.4 L884.9 3034.8 L885.0 3032.1 L885.1 3029.3 L885.3 3026.5 L885.4 3023.7 L885.5 3020.9 L885.6 3018.1 L885.8 3015.3 L885.9 3012.5 L886.0 3009.7 L886.2 3007.0 L886.3 3004.5 L886.4 3002.1 L886.5 2999.6 L886.7 2997.1 L886.8 2994.6 L886.9 2992.0 L887.0 2989.5 L887.2 2987.0 L887.3 2984.4 L887.4 2981.9 L887.5 2979.3 L887.7 2976.7 L887.8 2974.2 L887.9 2971.6 L888.0 2969.0 L888.2 2966.5 L888.3 2963.9 L888.4 2961.3 L888.5 2958.8 L888.7 2956.2 L888.8 2953.7 L888.9 2951.2 L889.1 2948.6 L889.2 2946.1 L889.3 2943.5 L889.4 2941.0 L889.6 2938.4 L889.7 2935.9 L889.8 2933.3 L889.9 2930.8 L890.1 2928.2 L890.2 2925.7 L890.3 2923.1 L890.5 2920.6 L890.6 2918.0 L890.7 2915.5 L890.8 2912.9 L891.0 2910.4 L891.1 2907.8 L891.2 2905.3 L891.4 2902.7 L891.5 2900.2 L891.6 2897.6 L891.7 2895.1 L891.9 2892.5 L892.0 2889.9 L892.1 2887.2 L892.3 2884.6 L892.4 2882.0 L892.5 2879.4 L892.7 2876.7 L892.8 2874.1 L892.9 2871.5 L893.1 2868.9 L893.2 2866.3 L893.3 2863.8 L893.5 2861.3 L893.6 2858.8 L893.7 2856.3 L893.9 2853.9 L894.0 2851.5 L894.1 2849.1 L894.3 2846.8 L894.4 2844.1 L894.6 2841.4 L894.8 2838.7 L895.0 2836.2 L895.2 2833.6 L895.3 2831.1 L895.5 2828.7 L895.7 2826.2 L895.9 2823.7 L896.1 2821.3 L896.3 2818.9 L896.4 2816.4 L896.6 2813.9 L896.8 2811.4 L897.4 2814.0 L898.0 2816.6 L898.6 2819.3 L899.1 2821.9 L899.7 2824.5 L900.3 2827.2 L900.9 2829.8 L901.4 2832.4 L901.9 2834.9 L902.4 2837.5 L902.8 2840.0 L903.2 2842.6 L903.6 2845.1 L903.9 2847.6 L904.2 2850.0 L904.6 2852.5 L904.9 2855.0 L905.2 2857.6 L905.6 2860.2 L906.0 2862.8 L906.4 2865.4 L906.8 2868.1 L907.2 2870.9 L907.6 2873.6 L908.0 2876.4 L908.4 2879.1 L908.9 2881.7 L909.4 2884.3 L909.9 2886.8 L910.5 2889.5 L911.1 2892.1 L911.7 2894.6 L912.3 2897.1 L913.0 2899.6 L913.7 2902.0 L914.4 2904.4 L915.2 2906.8 L916.0 2909.4 L916.9 2911.9 L917.8 2914.4 L918.8 2916.9 L919.8 2919.3 L920.8 2921.7 L921.9 2924.1 L923.1 2926.5 L924.4 2928.9 L925.7 2931.2 L927.0 2933.6 L928.4 2935.8 L929.8 2938.0 L931.3 2940.0 L933.0 2942.4 L934.8 2944.6 L936.6 2946.7 L938.5 2948.6 L940.6 2950.6 L942.6 2952.3 L944.6 2953.9 L946.8 2955.5 L949.1 2957.0 L951.4 2958.4 L953.9 2959.8 L956.2 2961.0 L958.5 2962.1 L961.0 2963.2 L963.5 2964.2 L966.1 2965.2 L968.7 2966.1 L971.2 2966.9 L973.8 2967.7 L976.2 2968.4 L978.7 2968.9 L981.1 2969.4 L983.5 2969.8 L986.0 2970.2 L988.5 2970.6 L991.1 2971.0 L993.7 2971.5 L996.2 2971.9 L998.7 2972.4 L1001.3 2972.8 L1003.9 2973.3 L1006.6 2973.7 L1009.3 2974.2 L1012.0 2974.6 L1014.6 2975.0 L1017.3 2975.5 L1020.0 2975.9 L1022.5 2976.3 L1025.0 2976.6 L1027.4 2977.0 L1029.9 2977.4 L1032.4 2977.7 L1034.9 2978.1 L1037.4 2978.4 L1039.9 2978.8 L1042.5 2979.1 L1045.0 2979.4 L1047.6 2979.7 L1050.2 2980.0 L1052.9 2980.3 L1055.6 2980.5 L1058.3 2980.8 L1061.0 2981.0 L1063.7 2981.2 L1066.5 2981.5 L1069.2 2981.7 L1071.9 2981.9 L1074.6 2982.1 L1077.3 2982.3 L1080.0 2982.5 L1082.5 2982.7 L1085.0 2982.9 L1087.4 2983.1 L1089.8 2983.3 L1092.2 2983.5 L1094.6 2983.7 L1097.0 2983.9 L1099.5 2984.0 L1102.0 2984.2 L1104.6 2984.3 L1107.3 2984.5 L1110.0 2984.6 L1112.2 2984.7 L1114.5 2984.7 L1116.8 2984.8 L1119.2 2984.9 L1121.7 2984.9 L1124.1 2985.0 L1126.6 2985.0 L1129.2 2985.1 L1131.7 2985.1 L1134.3 2985.1 L1136.9 2985.2 L1139.5 2985.2 L1142.1 2985.2 L1144.7 2985.2 L1147.4 2985.2 L1150.0 2985.2 L1152.6 2985.2 L1155.1 2985.1 L1157.7 2985.1 L1160.2 2985.1 L1162.7 2985.0 L1165.2 2985.0 L1167.7 2985.0 L1170.2 2984.9 L1172.7 2984.8 L1175.2 2984.8 L1177.7 2984.7 L1180.2 2984.6 L1182.8 2984.6 L1185.3 2984.5 L1187.8 2984.4 L1190.3 2984.3 L1192.8 2984.2 L1195.3 2984.0 L1197.8 2983.9 L1200.3 2983.8 L1202.8 2983.7 L1205.3 2983.5 L1207.8 2983.4 L1210.3 2983.2 L1212.9 2983.0 L1215.7 2982.8 L1218.6 2982.6 L1221.5 2982.4 L1224.5 2982.1 L1227.5 2981.9 L1230.5 2981.6 L1233.5 2981.3 L1236.4 2981.0 L1239.3 2980.8 L1242.1 2980.5 L1244.9 2980.2 L1247.5 2979.9 L1250.0 2979.7 L1252.3 2979.4 L1254.5 2979.2 L1256.5 2979.0 L1258.2 2978.8 L1259.8 2978.6 L1263.6 2978.1 L1266.7 2977.6 L1270.2 2977.1 L1273.6 2976.5 L1277.0 2975.9 L1280.5 2975.3 L1284.0 2974.6 L1287.4 2974.0 L1290.8 2973.3 L1294.2 2972.6 L1297.6 2971.8 L1301.1 2971.1 L1304.5 2970.3 L1307.9 2969.5 L1311.3 2968.6 L1314.7 2967.8 L1318.0 2966.9 L1321.4 2966.0 L1324.7 2965.0 L1328.1 2964.0 L1331.5 2962.9 L1334.8 2961.9 L1338.1 2960.8 L1341.4 2959.7 L1344.7 2958.4 L1348.0 2957.2 L1351.3 2955.9 L1354.5 2954.6 L1357.7 2953.2 L1360.9 2951.8 L1364.0 2950.2 L1367.2 2948.7 L1370.3 2947.0 L1373.4 2945.4 L1376.4 2943.6 L1379.4 2941.8 L1382.4 2939.9 L1385.4 2938.0 L1388.2 2936.0 L1391.1 2934.0 L1393.9 2931.8 L1396.7 2929.7 L1399.4 2927.4 L1402.1 2925.2 L1404.7 2922.8 L1407.3 2920.4 L1409.8 2917.9 L1412.3 2915.4 L1414.7 2912.7 L1417.1 2910.1 L1419.3 2907.4 L1421.6 2904.7 L1423.7 2901.9 L1425.9 2899.1 L1427.9 2896.1 L1430.0 2893.2 L1431.9 2890.2 L1433.9 2887.3 L1435.7 2884.2 L1437.6 2881.1 L1439.3 2878.0 L1441.1 2874.9 L1442.7 2871.7 L1444.3 2868.6 L1445.8 2865.3 L1447.4 2862.1 L1448.8 2858.8 L1450.3 2855.6 L1451.7 2852.3 L1453.1 2849.0 L1454.4 2845.7 L1455.7 2842.4 L1456.9 2839.1 L1458.2 2835.7 L1459.4 2832.3 L1460.6 2828.9 L1461.7 2825.5 L1462.8 2822.2 L1463.8 2818.8 L1464.9 2815.3 L1465.9 2811.9 L1466.9 2808.5 L1467.9 2805.1 L1468.9 2801.6 L1469.8 2798.1 L1470.7 2794.7 L1471.6 2791.2 L1472.5 2787.8 L1473.3 2784.3 L1474.2 2780.9 L1475.0 2777.5 L1475.8 2774.0 L1476.6 2770.5 L1477.3 2767.0 L1478.1 2763.5 L1478.9 2760.1 L1479.6 2756.6 L1480.3 2753.1 L1481.0 2749.6 L1481.7 2746.1 L1482.3 2742.6 L1483.0 2739.2 L1483.7 2735.7 L1484.3 2732.2 L1484.9 2728.7 L1485.6 2725.2 L1486.2 2721.7 L1486.8 2718.2 L1487.4 2714.7 L1487.9 2711.2 L1488.5 2707.7 L1489.1 2704.2 L1489.6 2700.7 L1490.2 2697.2 L1490.7 2693.7 L1491.2 2690.2 L1491.8 2686.7 L1492.3 2683.1 L1492.8 2679.6 L1493.3 2676.1 L1493.8 2672.6 L1494.3 2669.1 L1494.7 2665.6 L1495.2 2662.1 L1495.7 2658.6 L1496.1 2655.1 L1496.5 2651.6 L1497.0 2648.0 L1497.5 2644.5 L1497.9 2641.0 L1498.3 2637.5 L1498.8 2634.0 L1499.2 2630.5 L1499.6 2627.0 L1500.1 2623.5 L1500.5 2620.0 L1500.9 2616.4 L1501.3 2612.9 L1501.7 2609.4 L1502.1 2605.9 L1502.5 2602.4 L1502.8 2598.9 L1503.2 2595.4 L1503.6 2591.9 L1503.9 2588.4 L1504.3 2584.8 L1504.7 2581.3 L1505.1 2577.8 L1505.4 2574.3 L1505.8 2570.8 L1506.2 2567.3 L1506.5 2563.8 L1506.8 2560.3 L1507.2 2556.8 L1507.5 2553.2 L1507.8 2549.7 L1508.2 2546.2 L1508.5 2542.7 L1508.8 2539.2 L1509.2 2535.7 L1509.5 2532.2 L1509.8 2528.7 L1510.2 2525.2 L1510.5 2521.7 L1510.8 2518.2 L1511.1 2514.7 L1511.4 2511.2 L1511.7 2507.7 L1512.0 2504.2 L1512.3 2500.6 L1512.7 2497.1 L1513.0 2493.6 L1513.3 2490.1 L1513.6 2486.6 L1513.9 2483.1 L1514.2 2479.6 L1514.5 2476.1 L1514.8 2472.6 L1515.0 2469.1 L1515.3 2465.6 L1515.6 2462.1 L1515.9 2458.6 L1516.2 2455.1 L1516.5 2451.6 L1516.8 2448.1 L1517.1 2444.6 L1517.3 2441.1 L1517.6 2437.6 L1517.9 2434.1 L1518.2 2430.6 L1518.5 2427.5 L1518.8 2423.6 L1518.9 2422.1 L1519.0 2420.4 L1519.2 2418.4 L1519.3 2416.3 L1519.5 2414.0 L1519.7 2411.5 L1519.9 2409.0 L1520.1 2406.3 L1520.3 2403.5 L1520.5 2400.6 L1520.7 2397.7 L1520.9 2394.8 L1521.1 2391.8 L1521.3 2388.9 L1521.5 2386.0 L1521.8 2383.1 L1522.0 2380.3 L1522.2 2377.6 L1522.4 2375.0 L1522.6 2372.5 L1522.8 2369.8 L1523.0 2367.2 L1523.2 2364.6 L1523.4 2361.9 L1523.6 2359.3 L1523.8 2356.8 L1524.0 2354.2 L1524.2 2351.7 L1524.4 2349.1 L1524.6 2346.6 L1524.8 2344.2 L1525.0 2341.7 L1525.3 2339.2 L1525.5 2336.8 L1525.7 2334.4 L1525.9 2332.0 L1526.2 2329.2 L1526.5 2326.3 L1526.8 2323.5 L1527.1 2320.6 L1527.4 2317.8 L1527.7 2315.0 L1528.0 2312.3 L1528.3 2309.6 L1528.6 2307.1 L1528.9 2304.6 L1529.3 2302.3 L1529.6 2300.1 L1530.2 2296.7 L1530.8 2293.7 L1531.4 2290.8 L1532.1 2288.1 L1532.8 2285.6 L1533.8 2282.6 L1535.0 2279.8 L1536.1 2277.1 L1536.6 2279.6 L1537.1 2282.0 L1537.6 2284.4 L1538.2 2286.8 L1538.7 2289.3 L1539.1 2291.8 L1539.6 2294.6 L1540.1 2297.5 L1540.3 2299.7 L1540.6 2301.9 L1540.9 2304.3 L1541.1 2306.8 L1541.4 2309.4 L1541.6 2312.0 L1541.8 2314.7 L1542.0 2317.4 L1542.2 2320.2 L1542.4 2323.0 L1542.6 2325.7 L1542.8 2328.5 L1543.0 2331.3 L1543.2 2334.0 L1543.4 2336.8 L1543.6 2339.4 L1543.7 2342.0 L1543.9 2344.6 L1544.1 2347.1 L1544.2 2349.6 L1544.4 2352.1 L1544.6 2354.6 L1544.7 2357.0 L1544.8 2359.5 L1545.0 2361.9 L1545.1 2364.4 L1545.3 2366.9 L1545.4 2369.4 L1545.5 2371.9 L1545.7 2374.5 L1545.8 2377.1 L1545.9 2379.8 L1546.1 2382.6 L1546.2 2384.9 L1546.3 2387.2 L1546.4 2389.6 L1546.6 2392.0 L1546.7 2394.5 L1546.8 2397.0 L1546.9 2399.5 L1547.0 2402.0 L1547.2 2404.5 L1547.3 2407.1 L1547.4 2409.7 L1547.5 2412.3 L1547.6 2414.9 L1547.8 2417.5 L1547.9 2420.1 L1548.0 2422.7 L1548.1 2425.4 L1548.2 2428.0 L1548.3 2430.6 L1548.5 2433.2 L1548.6 2435.8 L1548.7 2438.4 L1548.8 2441.0 L1548.9 2443.5 L1549.1 2446.0 L1549.2 2448.6 L1549.3 2451.1 L1549.4 2453.6 L1549.6 2456.2 L1549.7 2458.7 L1549.8 2461.3 L1549.9 2463.8 L1550.0 2466.3 L1550.2 2468.9 L1550.3 2471.4 L1550.4 2473.9 L1550.5 2476.5 L1550.7 2479.0 L1550.8 2481.6 L1550.9 2484.1 L1551.0 2486.6 L1551.2 2489.2 L1551.3 2491.7 L1551.4 2494.2 L1551.5 2496.8 L1551.7 2499.3 L1551.8 2501.9 L1551.9 2504.4 L1552.0 2506.9 L1552.1 2509.5 L1552.3 2512.0 L1552.4 2514.6 L1552.5 2517.1 L1552.6 2519.6 L1552.8 2522.2 L1552.9 2524.7 L1553.0 2527.2 L1553.1 2529.8 L1553.3 2532.3 L1553.4 2534.9 L1553.5 2537.4 L1553.6 2539.9 L1553.8 2542.5 L1553.9 2545.0 L1554.0 2547.5 L1554.1 2550.1 L1554.3 2552.6 L1554.4 2555.2 L1554.5 2557.7 L1554.6 2560.2 L1554.7 2562.8 L1554.9 2565.3 L1555.0 2567.8 L1555.1 2570.4 L1555.2 2572.9 L1555.3 2575.5 L1555.4 2578.0 L1555.6 2580.6 L1555.7 2583.1 L1555.8 2585.6 L1555.9 2588.2 L1556.0 2590.7 L1556.1 2593.3 L1556.2 2595.8 L1556.3 2598.4 L1556.5 2600.9 L1556.6 2603.5 L1556.7 2606.0 L1556.8 2608.5 L1556.9 2611.0 L1557.0 2613.6 L1557.1 2616.1 L1557.2 2618.6 L1557.3 2621.1 L1557.4 2623.6 L1557.5 2626.1 L1557.7 2628.7 L1557.8 2631.3 L1557.9 2633.9 L1558.0 2636.4 L1558.1 2638.9 L1558.2 2641.4 L1558.3 2643.9 L1558.4 2646.4 L1558.5 2648.9 L1558.6 2651.4 L1558.7 2653.9 L1558.8 2656.4 L1558.9 2658.9 L1559.0 2661.4 L1559.1 2664.0 L1559.2 2666.6 L1559.3 2669.2 L1559.4 2671.9 L1559.6 2674.6 L1559.7 2677.3 L1559.8 2680.1 L1559.9 2683.0 L1560.0 2685.2 L1560.2 2687.5 L1560.3 2689.8 L1560.4 2692.1 L1560.5 2694.5 L1560.6 2696.9 L1560.7 2699.3 L1560.8 2701.7 L1561.0 2704.2 L1561.1 2706.7 L1561.2 2709.2 L1561.3 2711.7 L1561.5 2714.2 L1561.6 2716.7 L1561.7 2719.3 L1561.9 2721.9 L1562.0 2724.5 L1562.1 2727.0 L1562.3 2729.6 L1562.4 2732.2 L1562.5 2734.8 L1562.7 2737.4 L1562.8 2740.0 L1562.9 2742.6 L1563.1 2745.2 L1563.2 2747.8 L1563.4 2750.4 L1563.5 2753.0 L1563.6 2755.5 L1563.8 2758.1 L1563.9 2760.6 L1564.1 2763.1 L1564.2 2765.6 L1564.3 2768.1 L1564.5 2770.6 L1564.6 2773.0 L1564.8 2775.6 L1564.9 2778.1 L1565.1 2780.7 L1565.2 2783.3 L1565.4 2785.8 L1565.5 2788.4 L1565.7 2790.9 L1565.8 2793.5 L1566.0 2796.0 L1566.1 2798.6 L1566.3 2801.1 L1566.4 2803.7 L1566.6 2806.2 L1566.7 2808.7 L1566.9 2811.2 L1567.1 2813.7 L1567.2 2816.2 L1567.4 2818.7 L1567.5 2821.2 L1567.7 2823.7 L1567.9 2826.2 L1568.0 2828.7 L1568.2 2831.1 L1568.3 2833.6 L1568.5 2836.1 L1568.7 2838.5 L1568.9 2840.9 L1569.0 2843.4 L1569.2 2845.8 L1569.4 2848.2 L1569.5 2850.6 L1569.7 2853.0 L1569.9 2855.7 L1570.1 2858.4 L1570.3 2861.0 L1570.5 2863.7 L1570.7 2866.4 L1570.9 2869.0 L1571.1 2871.6 L1571.3 2874.3 L1571.5 2876.9 L1571.7 2879.5 L1571.9 2882.1 L1572.1 2884.7 L1572.4 2887.3 L1572.6 2889.9 L1572.8 2892.5 L1573.0 2895.0 L1573.2 2897.6 L1573.4 2900.1 L1573.7 2902.6 L1573.9 2905.1 L1574.1 2907.6 L1574.4 2910.1 L1574.6 2912.6 L1574.8 2915.1 L1575.1 2917.5 L1575.3 2920.0 L1575.6 2922.7 L1575.9 2925.4 L1576.2 2928.0 L1576.5 2930.7 L1576.8 2933.3 L1577.0 2936.0 L1577.3 2938.6 L1577.6 2941.2 L1577.9 2943.8 L1578.2 2946.4 L1578.5 2948.9 L1578.8 2951.5 L1579.2 2954.0 L1579.5 2956.6 L1579.8 2959.1 L1580.1 2961.6 L1580.5 2964.1 L1580.8 2966.6 L1581.2 2969.0 L1581.5 2971.5 L1581.9 2973.9 L1582.3 2976.6 L1582.7 2979.2 L1583.1 2981.8 L1583.5 2984.4 L1583.9 2987.0 L1584.4 2989.5 L1584.8 2992.1 L1585.2 2994.7 L1585.7 2997.2 L1586.1 2999.7 L1586.6 3002.2 L1587.0 3004.7 L1587.5 3007.1 L1588.0 3009.5 L1588.5 3011.9 L1589.0 3014.3 L1589.6 3016.6 L1590.1 3018.9 L1590.8 3021.5 L1591.4 3024.1 L1592.1 3026.8 L1592.8 3029.3 L1593.5 3031.9 L1594.2 3034.4 L1594.9 3036.8 L1595.7 3039.3 L1596.4 3041.6 L1597.3 3044.0 L1598.1 3046.2 L1599.1 3048.4 L1600.0 3050.5 L1601.3 3053.1 L1602.5 3055.6 L1603.9 3058.0 L1605.2 3060.4 L1606.7 3062.7 L1608.2 3064.8 L1609.8 3066.9 L1611.5 3068.8 L1613.3 3070.6 L1615.4 3072.3 L1617.6 3073.9 L1619.9 3075.4 L1622.3 3076.7 L1624.7 3077.9 L1627.3 3079.0 L1629.8 3080.0 L1632.3 3080.9 L1634.9 3081.7 L1637.4 3082.4 L1640.0 3082.9 L1642.7 3083.3 L1645.3 3083.7 L1648.1 3083.9 L1650.8 3084.2 L1653.6 3084.5 L1656.1 3084.8 L1658.6 3085.0 L1661.1 3085.1 L1663.6 3085.3 L1666.2 3085.4 L1668.8 3085.5 L1671.5 3085.5 L1674.3 3085.6 L1677.2 3085.6 L1680.3 3085.6 L1682.5 3085.6 L1684.7 3085.6 L1687.0 3085.6 L1689.3 3085.6 L1691.8 3085.5 L1694.2 3085.4 L1696.8 3085.4 L1699.3 3085.3 L1701.9 3085.2 L1704.6 3085.1 L1707.2 3085.0 L1709.9 3084.9 L1712.6 3084.8 L1715.3 3084.7 L1718.0 3084.6 L1720.7 3084.4 L1723.3 3084.3 L1726.0 3084.2 L1728.6 3084.1 L1731.2 3084.0 L1733.8 3083.8 L1736.3 3083.7 L1738.9 3083.6 L1741.4 3083.5 L1744.0 3083.3 L1746.5 3083.2 L1749.1 3083.1 L1751.6 3082.9 L1754.1 3082.8 L1756.7 3082.6 L1759.2 3082.5 L1761.8 3082.3 L1764.3 3082.2 L1766.9 3082.0 L1769.4 3081.9 L1771.9 3081.7 L1774.5 3081.6 L1777.0 3081.4 L1779.6 3081.2 L1782.1 3081.1 L1784.7 3080.9 L1787.2 3080.8 L1789.7 3080.7 L1792.2 3080.5 L1794.7 3080.4 L1797.2 3080.2 L1799.7 3080.1 L1802.2 3079.9 L1804.6 3079.8 L1807.1 3079.6 L1809.5 3079.5 L1812.0 3079.3 L1814.5 3079.2 L1817.0 3079.0 L1819.5 3078.9 L1822.0 3078.7 L1824.6 3078.6 L1827.2 3078.5 L1829.8 3078.3 L1832.4 3078.2 L1835.1 3078.0 L1837.8 3077.9 L1840.6 3077.7 L1842.9 3077.6 L1845.3 3077.5 L1847.7 3077.4 L1850.2 3077.3 L1852.7 3077.1 L1855.3 3077.0 L1857.8 3076.9 L1860.4 3076.8 L1863.1 3076.6 L1865.7 3076.5 L1868.4 3076.4 L1871.0 3076.3 L1873.7 3076.1 L1876.4 3076.0 L1879.1 3075.9 L1881.8 3075.8 L1884.5 3075.7 L1887.2 3075.5 L1889.9 3075.4 L1892.5 3075.3 L1895.2 3075.2 L1897.8 3075.1 L1900.4 3075.0 L1903.0 3074.9 L1905.6 3074.8 L1908.1 3074.7 L1910.5 3074.6 L1913.0 3074.5 L1915.4 3074.4 L1917.7 3074.3 L1920.0 3074.3 L1922.8 3074.2 L1925.5 3074.1 L1928.1 3074.0 L1930.8 3074.0 L1933.3 3073.9 L1935.9 3073.8 L1938.4 3073.8 L1940.9 3073.7 L1943.4 3073.7 L1945.8 3073.6 L1948.2 3073.6 L1950.6 3073.6 L1953.1 3073.5 L1955.5 3073.5 L1957.9 3073.4 L1960.3 3073.4 L1962.7 3073.4 L1965.1 3073.3 L1967.5 3073.3 L1970.0 3073.3 L1972.5 3073.2 L1975.1 3073.2 L1977.6 3073.2 L1980.1 3073.2 L1982.6 3073.1 L1985.1 3073.1 L1987.6 3073.1 L1990.1 3073.1 L1992.6 3073.1 L1995.1 3073.0 L1997.6 3073.0 L2000.1 3073.0 L2002.6 3073.0 L2005.1 3073.0 L2007.6 3073.0 L2010.1 3073.0 L2012.6 3072.9 L2015.1 3072.9 L2017.6 3072.9" fill="none" stroke="#515151" stroke-width="5" stroke-linejoin="round" stroke-linecap="butt"/><path d="M308.5 2660.0 L308.6 2662.5 L308.7 2664.9 L308.7 2667.3 L308.8 2669.7 L308.9 2672.1 L309.0 2674.5 L309.0 2676.9 L309.1 2679.3 L309.2 2681.7 L309.3 2684.2 L309.4 2686.7 L309.5 2689.2 L309.6 2691.8 L309.7 2694.5 L309.8 2697.2 L309.9 2700.0 L310.0 2702.2 L310.1 2704.4 L310.2 2706.7 L310.3 2709.1 L310.4 2711.4 L310.5 2713.9 L310.6 2716.3 L310.7 2718.8 L310.9 2721.3 L311.0 2723.8 L311.1 2726.4 L311.2 2729.0 L311.4 2731.6 L311.5 2734.2 L311.6 2736.8 L311.8 2739.5 L311.9 2742.1 L312.0 2744.8 L312.2 2747.4 L312.3 2750.0 L312.4 2752.7 L312.6 2755.3 L312.7 2757.9 L312.8 2760.5 L313.0 2763.0 L313.1 2765.6 L313.2 2768.1 L313.3 2770.6 L313.4 2773.2 L313.5 2775.7 L313.6 2778.3 L313.8 2780.9 L313.9 2783.4 L314.0 2786.0 L314.1 2788.5 L314.2 2791.1 L314.3 2793.6 L314.4 2796.1 L314.5 2798.7 L314.6 2801.2 L314.7 2803.7 L314.8 2806.2 L314.9 2808.8 L315.0 2811.3 L315.2 2813.8 L315.2 2816.3 L315.3 2818.8 L315.4 2821.3 L315.5 2823.9 L315.6 2826.4 L315.7 2828.9 L315.8 2831.4 L315.9 2833.9 L316.0 2836.4 L316.1 2839.0 L316.2 2841.5 L316.2 2844.1 L316.3 2846.7 L316.4 2849.3 L316.4 2851.8 L316.5 2854.4 L316.6 2857.0 L316.6 2859.5 L316.7 2862.1 L316.8 2864.7 L316.8 2867.2 L316.9 2869.8 L316.9 2872.3 L317.0 2874.9 L317.1 2877.4 L317.1 2880.0 L317.2 2882.5 L317.2 2885.0 L317.3 2887.5 L317.4 2890.0 L317.5 2892.5 L317.5 2895.0 L317.6 2897.5 L317.7 2900.0 L317.8 2902.6 L317.9 2905.3 L318.0 2907.9 L318.1 2910.5 L318.2 2913.1 L318.3 2915.7 L318.4 2918.3 L318.5 2920.9 L318.6 2923.5 L318.7 2926.0 L318.8 2928.6 L318.9 2931.2 L319.0 2933.7 L319.1 2936.3 L319.2 2938.9 L319.3 2941.4 L319.5 2944.0 L319.6 2946.5 L319.7 2949.1 L319.8 2951.7 L320.0 2954.2 L320.1 2956.8 L320.2 2959.4 L320.4 2961.9 L320.5 2964.5 L320.6 2967.0 L320.8 2969.6 L320.9 2972.1 L321.1 2974.7 L321.3 2977.3 L321.4 2979.8 L321.6 2982.4 L321.7 2984.9 L321.9 2987.5 L322.1 2990.0 L322.2 2992.6 L322.4 2995.1 L322.5 2997.7 L322.7 3000.2 L322.9 3002.8 L323.0 3005.3 L323.2 3007.9 L323.3 3010.4 L323.5 3013.0 L323.6 3010.5 L323.7 3007.9 L323.7 3005.4 L323.8 3002.8 L323.9 3000.3 L324.0 2997.7 L324.1 2995.2 L324.1 2992.6 L324.2 2990.0 L324.3 2987.5 L324.4 2984.9 L324.5 2982.3 L324.5 2979.8 L324.6 2977.2 L324.7 2974.7 L324.8 2972.1 L324.9 2969.6 L324.9 2967.1 L325.0 2964.6 L325.1 2962.1 L325.1 2959.7 L325.2 2957.2 L325.3 2954.8 L325.3 2952.4 L325.4 2950.0 L325.4 2947.4 L325.5 2944.9 L325.6 2942.4 L325.6 2940.0 L325.7 2937.7 L325.7 2935.4 L325.8 2933.1 L325.8 2930.8 L325.8 2928.5 L325.9 2926.2 L325.9 2923.9 L326.0 2921.5 L326.0 2919.1 L326.0 2916.7 L326.1 2914.1 L326.1 2911.5 L326.1 2908.8 L326.2 2906.0 L326.2 2903.1 L326.3 2900.0 L326.3 2898.1 L326.3 2896.2 L326.3 2894.2 L326.3 2892.1 L326.4 2890.1 L326.4 2888.0 L326.4 2885.8 L326.4 2883.6 L326.4 2881.4 L326.5 2879.1 L326.5 2876.8 L326.5 2874.5 L326.5 2872.1 L326.5 2869.7 L326.5 2867.3 L326.6 2864.8 L326.6 2862.3 L326.6 2859.8 L326.6 2857.3 L326.6 2854.8 L326.6 2852.2 L326.7 2849.6 L326.7 2847.0 L326.7 2844.4 L326.7 2841.7 L326.7 2839.1 L326.7 2836.4 L326.8 2833.7 L326.8 2831.0 L326.8 2828.4 L326.8 2825.7 L326.8 2822.9 L326.8 2820.2 L326.8 2817.5 L326.9 2814.8 L326.9 2812.1 L326.9 2809.4 L326.9 2806.7 L326.9 2804.0 L326.9 2801.3 L327.0 2798.6 L327.0 2795.9 L327.0 2793.2 L327.0 2790.6 L327.0 2787.9 L327.1 2785.3 L327.1 2782.7 L327.1 2780.1 L327.1 2777.5 L327.1 2774.9 L327.1 2772.4 L327.2 2769.8 L327.2 2767.3 L327.2 2764.9 L327.2 2762.4 L327.3 2760.0 L327.3 2757.4 L327.3 2754.8 L327.3 2752.3 L327.4 2749.7 L327.4 2747.2 L327.4 2744.6 L327.4 2742.1 L327.5 2739.6 L327.5 2737.1 L327.5 2734.6 L327.6 2732.1 L327.6 2729.6 L327.6 2727.1 L327.6 2724.6 L327.7 2722.1 L327.7 2719.7 L327.7 2717.2 L327.8 2714.7 L327.8 2712.3 L327.8 2709.8 L327.9 2707.4 L327.9 2704.9 L327.9 2702.5 L328.0 2700.0 L328.0 2697.5 L328.0 2695.1 L328.1 2692.6 L328.1 2690.2 L328.1 2687.7 L328.2 2685.3 L328.2 2682.8 L328.2 2680.3 L328.3 2677.9 L328.3 2675.4 L328.3 2672.9 L328.4 2670.4 L328.4 2667.9 L328.4 2665.4 L328.5 2662.9 L328.5 2660.4 L328.5 2657.9 L328.6 2655.4 L328.6 2652.8 L328.6 2650.3 L328.7 2647.7 L328.7 2645.2 L328.7 2642.6 L328.8 2640.0 L328.8 2637.6 L328.8 2635.2 L328.9 2632.7 L328.9 2630.3 L328.9 2627.8 L329.0 2625.3 L329.0 2622.9 L329.1 2620.4 L329.1 2617.9 L329.1 2615.3 L329.2 2612.8 L329.2 2610.3 L329.3 2607.8 L329.3 2605.2 L329.3 2602.7 L329.4 2600.1 L329.4 2597.5 L329.5 2595.0 L329.5 2592.4 L329.5 2589.8 L329.6 2587.3 L329.6 2584.7 L329.7 2582.1 L329.7 2579.5 L329.7 2576.9 L329.8 2574.4 L329.8 2571.8 L329.9 2569.2 L329.9 2566.6 L329.9 2564.1 L330.0 2561.5 L330.0 2558.9 L330.1 2556.4 L330.1 2553.8 L330.2 2551.3 L330.2 2548.7 L330.2 2546.2 L330.3 2543.6 L330.3 2541.1 L330.3 2538.6 L330.4 2536.1 L330.4 2533.6 L330.5 2531.1 L330.5 2528.6 L330.5 2526.2 L330.6 2523.7 L330.6 2521.3 L330.6 2518.9 L330.7 2516.4 L330.7 2514.0 L330.7 2511.7 L330.8 2509.3 L330.8 2506.9 L330.8 2504.6 L330.9 2502.3 L330.9 2500.0 L330.9 2497.2 L331.0 2494.5 L331.0 2491.7 L331.0 2488.9 L331.0 2486.2 L331.1 2483.4 L331.1 2480.7 L331.1 2478.0 L331.1 2475.3 L331.2 2472.5 L331.2 2469.8 L331.2 2467.2 L331.2 2464.5 L331.3 2461.8 L331.3 2459.2 L331.3 2456.5 L331.3 2453.9 L331.3 2451.3 L331.4 2448.7 L331.4 2446.1 L331.4 2443.5 L331.4 2440.9 L331.4 2438.4 L331.5 2435.8 L331.5 2433.3 L331.5 2430.8 L331.5 2428.3 L331.6 2425.9 L331.6 2423.4 L331.6 2421.0 L331.6 2418.6 L331.6 2416.2 L331.7 2413.8 L331.7 2411.5 L331.7 2409.1 L331.7 2406.8 L331.8 2404.5 L331.8 2402.3 L331.8 2400.0 L331.9 2397.2 L331.9 2394.5 L331.9 2391.9 L332.0 2389.4 L332.0 2386.9 L332.1 2384.5 L332.1 2382.1 L332.2 2379.8 L332.2 2377.5 L332.2 2375.2 L332.3 2372.9 L332.3 2370.6 L332.4 2368.3 L332.4 2366.0 L332.5 2363.7 L332.5 2361.3 L332.6 2358.9 L332.6 2356.4 L332.6 2353.9 L332.7 2351.3 L332.7 2348.6 L332.8 2345.8 L332.8 2343.0 L332.8 2340.0 L332.9 2337.9 L332.9 2335.8 L332.9 2333.6 L332.9 2331.4 L333.0 2329.0 L333.0 2326.6 L333.0 2324.2 L333.0 2321.7 L333.0 2319.1 L333.1 2316.5 L333.1 2313.9 L333.1 2311.2 L333.1 2308.4 L333.1 2305.7 L333.1 2302.9 L333.2 2300.0 L333.2 2297.2 L333.2 2294.3 L333.2 2291.4 L333.2 2288.4 L333.3 2285.5 L333.3 2282.6 L333.3 2279.6 L333.3 2276.7 L333.3 2273.7 L333.3 2270.7 L333.3 2267.8 L333.4 2264.8 L333.4 2261.9 L333.4 2259.0 L333.4 2256.1 L333.4 2253.2 L333.4 2250.3 L333.5 2247.5 L333.5 2244.7 L333.5 2242.0 L333.5 2239.2 L333.5 2236.5 L333.5 2233.9 L333.5 2231.3 L333.6 2228.7 L333.6 2226.2 L333.6 2223.8 L333.6 2221.4 L333.6 2219.1 L333.6 2216.8 L333.6 2214.7 L333.7 2212.5 L333.7 2210.5 L333.7 2208.5 L333.7 2206.7 L333.7 2204.9 L333.7 2203.1 L333.8 2201.5 L333.8 2200.0 L333.8 2196.6 L333.9 2193.7 L333.9 2191.1 L333.9 2188.8 L334.0 2186.6 L334.0 2184.4 L334.0 2182.1 L334.1 2179.5 L334.2 2176.6 L334.2 2174.5 L334.3 2172.3 L334.3 2170.0 L334.4 2167.6 L334.4 2165.1 L334.5 2162.5 L334.5 2159.8 L334.6 2157.1 L334.7 2154.4 L334.7 2151.6 L334.8 2148.8 L334.9 2146.0 L335.0 2143.2 L335.1 2140.4 L335.1 2137.7 L335.2 2135.0 L335.3 2132.3 L335.4 2129.8 L335.5 2127.3 L335.6 2124.9 L335.7 2122.6 L335.8 2120.4 L336.0 2117.5 L336.1 2114.6 L336.2 2111.9 L336.3 2109.2 L336.5 2106.6 L336.6 2104.1 L336.8 2101.6 L337.0 2099.2 L337.2 2096.9 L337.5 2094.7 L337.8 2092.5 L338.3 2089.7 L338.9 2087.1 L339.5 2084.7 L340.2 2082.3 L340.9 2079.9 L341.5 2077.4 L342.0 2079.9 L342.6 2082.4 L343.1 2084.9 L343.6 2087.6 L344.1 2090.5 L344.4 2092.7 L344.7 2095.1 L344.9 2097.5 L345.2 2100.1 L345.4 2102.8 L345.7 2105.5 L345.9 2108.3 L346.1 2111.0 L346.3 2113.7 L346.6 2116.4 L346.8 2118.9 L347.0 2121.5 L347.3 2124.0 L347.5 2126.6 L347.7 2129.2 L347.9 2131.7 L348.2 2134.3 L348.4 2136.9 L348.6 2139.4 L348.8 2142.0 L349.0 2144.5 L349.3 2147.1 L349.5 2149.8 L349.7 2152.4 L349.9 2155.0 L350.1 2157.6 L350.3 2160.1 L350.5 2162.7 L350.7 2165.3 L350.9 2167.9 L351.1 2170.5 L351.3 2173.1 L351.5 2175.6 L351.7 2178.1 L351.9 2180.6 L352.1 2183.1 L352.2 2185.7 L352.4 2188.3 L352.6 2191.0 L352.8 2193.7 L353.1 2196.6 L353.2 2198.9 L353.4 2201.2 L353.6 2203.6 L353.7 2206.1 L353.9 2208.6 L354.1 2211.2 L354.3 2213.8 L354.5 2216.4 L354.6 2219.0 L354.8 2221.7 L355.0 2224.4 L355.2 2227.0 L355.4 2229.7 L355.6 2232.3 L355.8 2234.9 L356.1 2237.5 L356.3 2240.0 L356.5 2242.5 L356.8 2245.1 L357.0 2247.7 L357.2 2250.3 L357.5 2252.8 L357.7 2255.4 L358.0 2258.0 L358.3 2260.5 L358.5 2263.1 L358.8 2265.6 L359.1 2268.1 L359.4 2270.5 L359.7 2273.0 L360.0 2275.4 L360.3 2277.8 L360.6 2280.1 L361.0 2282.8 L361.4 2285.4 L361.8 2288.0 L362.3 2290.5 L362.7 2293.0 L363.2 2295.5 L363.6 2297.9 L364.1 2300.4 L364.5 2302.8 L365.0 2305.3 L365.4 2307.8 L365.8 2310.2 L366.2 2312.8 L366.6 2315.3 L367.0 2317.8 L367.3 2320.3 L367.7 2322.8 L368.0 2325.3 L368.4 2327.8 L368.7 2330.3 L369.1 2332.8 L369.5 2335.3 L369.9 2337.8 L370.3 2340.3 L370.7 2342.8 L371.1 2345.3 L371.5 2347.8 L371.9 2350.3 L372.3 2352.8 L372.7 2355.3 L373.1 2357.8 L373.6 2360.3 L374.0 2362.8 L374.5 2365.3 L375.0 2367.8 L375.5 2370.2 L376.0 2372.8 L376.5 2375.3 L377.0 2377.8 L377.6 2380.3 L378.1 2382.8 L378.7 2385.3 L379.3 2387.8 L379.9 2390.3 L380.5 2392.9 L381.1 2395.4 L381.7 2397.9 L382.3 2400.4 L383.0 2402.9 L383.6 2405.4 L384.3 2407.9 L384.9 2410.5 L385.6 2413.0 L386.3 2415.5 L387.0 2418.1 L387.7 2420.6 L388.4 2423.0 L389.1 2425.5 L389.9 2427.9 L390.7 2430.4 L391.5 2432.8 L392.3 2435.3 L393.2 2437.8 L394.1 2440.3 L395.0 2442.7 L395.9 2445.1 L396.8 2447.5 L397.7 2449.8 L398.7 2452.1 L399.7 2454.2 L400.6 2456.3 L401.9 2458.9 L403.2 2461.5 L404.4 2464.0 L405.8 2466.3 L407.1 2468.5 L408.5 2470.3 L409.9 2471.8 L413.1 2474.3 L416.5 2475.1 L419.2 2474.2 L421.8 2472.3 L424.3 2469.7 L425.5 2468.0 L426.5 2465.9 L427.6 2463.6 L428.5 2461.1 L429.4 2458.5 L430.3 2455.8 L431.1 2453.1 L431.9 2450.4 L432.7 2448.0 L433.4 2445.4 L434.0 2442.9 L434.7 2440.2 L435.3 2437.6 L435.9 2434.9 L436.4 2432.2 L437.0 2429.6 L437.5 2426.9 L438.1 2424.4 L438.6 2421.6 L439.1 2418.9 L439.6 2416.2 L440.1 2413.5 L440.6 2410.9 L441.0 2408.2 L441.4 2405.6 L441.8 2403.0 L442.2 2400.4 L442.6 2397.9 L443.0 2395.4 L443.4 2393.1 L443.7 2390.7 L444.0 2388.3 L444.4 2385.8 L444.7 2383.2 L445.0 2380.4 L445.2 2378.2 L445.4 2376.0 L445.7 2373.7 L445.9 2371.3 L446.1 2368.9 L446.3 2366.4 L446.5 2363.8 L446.7 2361.2 L446.9 2358.6 L447.1 2355.9 L447.3 2353.3 L447.5 2350.6 L447.7 2348.0 L447.9 2345.4 L448.1 2342.8 L448.3 2340.3 L448.5 2337.8 L448.7 2335.3 L448.9 2332.8 L449.1 2330.3 L449.3 2327.8 L449.4 2325.3 L449.6 2322.8 L449.8 2320.3 L450.0 2317.7 L450.2 2315.2 L450.4 2312.7 L450.6 2310.2 L450.7 2307.7 L450.9 2305.2 L451.1 2302.7 L451.3 2300.2 L451.5 2297.7 L451.7 2295.2 L451.9 2292.7 L452.1 2290.2 L452.2 2287.6 L452.4 2285.1 L452.6 2282.6 L452.8 2280.1 L453.0 2277.6 L453.2 2275.1 L453.4 2272.6 L453.6 2270.0 L453.7 2267.5 L453.9 2265.0 L454.1 2262.5 L454.3 2260.0 L454.5 2257.5 L454.7 2255.0 L454.9 2252.4 L455.1 2249.9 L455.3 2247.3 L455.4 2244.7 L455.6 2242.2 L455.8 2239.6 L456.0 2237.1 L456.2 2234.6 L456.4 2232.1 L456.6 2229.6 L456.7 2227.1 L456.9 2224.7 L457.1 2222.3 L457.3 2220.0 L457.4 2217.4 L457.6 2214.8 L457.8 2212.3 L458.0 2209.9 L458.1 2207.4 L458.3 2205.0 L458.4 2202.6 L458.6 2200.2 L458.8 2197.7 L458.9 2195.2 L459.1 2192.7 L459.3 2190.0 L459.4 2187.6 L459.6 2185.1 L459.8 2182.6 L459.9 2180.0 L460.1 2177.4 L460.2 2174.7 L460.4 2172.1 L460.6 2169.4 L460.7 2166.7 L460.9 2164.1 L461.1 2161.4 L461.2 2158.7 L461.4 2156.1 L461.6 2153.5 L461.8 2151.0 L461.9 2148.5 L462.1 2145.7 L462.3 2142.8 L462.5 2139.7 L462.7 2136.7 L462.9 2133.7 L463.1 2130.7 L463.3 2127.8 L463.5 2125.0 L463.7 2122.4 L463.9 2120.0 L464.2 2117.9 L464.5 2116.0 L464.7 2114.5 L466.3 2110.4 L466.5 2113.0 L466.6 2115.6 L466.8 2118.3 L466.9 2120.9 L467.1 2123.6 L467.3 2126.2 L467.4 2128.9 L467.6 2131.6 L467.8 2134.2 L467.9 2136.9 L468.1 2139.5 L468.2 2142.1 L468.4 2144.7 L468.5 2147.3 L468.7 2149.9 L468.8 2152.5 L469.0 2155.0 L469.1 2157.5 L469.2 2160.0 L469.4 2162.6 L469.5 2165.0 L469.6 2167.4 L469.7 2169.7 L469.8 2171.9 L469.9 2174.1 L470.0 2176.4 L470.1 2178.6 L470.2 2180.9 L470.3 2183.2 L470.4 2185.7 L470.5 2188.2 L470.6 2190.9 L470.7 2193.8 L470.8 2196.8 L470.9 2200.0 L470.9 2201.7 L471.0 2203.5 L471.0 2205.4 L471.0 2207.3 L471.1 2209.2 L471.1 2211.2 L471.2 2213.3 L471.2 2215.4 L471.2 2217.6 L471.3 2219.8 L471.3 2222.1 L471.3 2224.4 L471.4 2226.7 L471.4 2229.1 L471.4 2231.5 L471.4 2234.0 L471.5 2236.5 L471.5 2239.0 L471.5 2241.6 L471.5 2244.2 L471.6 2246.8 L471.6 2249.5 L471.6 2252.2 L471.6 2254.9 L471.7 2257.6 L471.7 2260.3 L471.7 2263.1 L471.7 2265.9 L471.8 2268.6 L471.8 2271.4 L471.8 2274.3 L471.8 2277.1 L471.8 2279.9 L471.9 2282.8 L471.9 2285.6 L471.9 2288.5 L471.9 2291.3 L471.9 2294.1 L472.0 2297.0 L472.0 2299.8 L472.0 2302.7 L472.0 2305.5 L472.0 2308.3 L472.1 2311.1 L472.1 2313.9 L472.1 2316.7 L472.1 2319.4 L472.2 2322.2 L472.2 2324.9 L472.2 2327.6 L472.2 2330.3 L472.2 2332.9 L472.3 2335.6 L472.3 2338.2 L472.3 2340.7 L472.3 2343.3 L472.4 2345.8 L472.4 2348.2 L472.4 2350.7 L472.5 2353.1 L472.5 2355.4 L472.5 2357.7 L472.6 2360.0 L472.6 2362.8 L472.6 2365.6 L472.7 2368.4 L472.7 2371.1 L472.8 2373.9 L472.8 2376.7 L472.9 2379.5 L472.9 2382.2 L472.9 2385.0 L473.0 2387.7 L473.0 2390.4 L473.1 2393.1 L473.1 2395.8 L473.2 2398.5 L473.2 2401.2 L473.3 2403.8 L473.3 2406.5 L473.4 2409.1 L473.4 2411.7 L473.5 2414.3 L473.5 2416.8 L473.6 2419.4 L473.6 2421.9 L473.7 2424.4 L473.7 2426.8 L473.7 2429.3 L473.8 2431.7 L473.8 2434.0 L473.9 2436.4 L473.9 2438.7 L474.0 2441.0 L474.0 2443.3 L474.1 2445.5 L474.1 2447.7 L474.2 2449.8 L474.2 2451.9 L474.2 2454.0 L474.3 2456.0 L474.3 2458.0 L474.4 2460.0 L474.4 2462.9 L474.5 2465.7 L474.5 2468.2 L474.6 2470.6 L474.7 2472.9 L474.7 2475.1 L474.8 2477.3 L474.8 2479.5 L474.9 2481.6 L474.9 2483.8 L475.0 2486.1 L475.0 2488.5 L475.1 2491.1 L475.1 2493.8 L475.2 2496.8 L475.3 2500.0 L475.3 2501.7 L475.3 2503.4 L475.3 2505.2 L475.4 2507.1 L475.4 2509.0 L475.4 2510.9 L475.5 2512.9 L475.5 2515.0 L475.5 2517.1 L475.6 2519.2 L475.6 2521.3 L475.6 2523.6 L475.7 2525.8 L475.7 2528.1 L475.7 2530.4 L475.8 2532.8 L475.8 2535.1 L475.8 2537.6 L475.9 2540.0 L475.9 2542.5 L475.9 2545.0 L476.0 2547.5 L476.0 2550.1 L476.0 2552.7 L476.1 2555.3 L476.1 2557.9 L476.1 2560.5 L476.2 2563.2 L476.2 2565.9 L476.2 2568.6 L476.3 2571.3 L476.3 2574.0 L476.4 2576.7 L476.4 2579.5 L476.4 2582.2 L476.5 2585.0 L476.5 2587.8 L476.5 2590.5 L476.6 2593.3 L476.6 2596.1 L476.6 2598.9 L476.7 2601.7 L476.7 2604.4 L476.7 2607.2 L476.8 2610.0 L476.8 2612.7 L476.8 2615.5 L476.9 2618.3 L476.9 2621.0 L477.0 2623.7 L477.0 2626.4 L477.0 2629.1 L477.1 2631.8 L477.1 2634.5 L477.1 2637.1 L477.2 2639.8 L477.2 2642.4 L477.2 2645.0 L477.3 2647.6 L477.3 2650.1 L477.3 2652.6 L477.4 2655.1 L477.4 2657.6 L477.4 2660.0 L477.5 2662.6 L477.5 2665.2 L477.5 2667.7 L477.6 2670.3 L477.6 2672.9 L477.7 2675.5 L477.7 2678.0 L477.7 2680.6 L477.8 2683.1 L477.8 2685.7 L477.8 2688.3 L477.9 2690.8 L477.9 2693.4 L477.9 2695.9 L478.0 2698.5 L478.0 2701.0 L478.0 2703.5 L478.1 2706.1 L478.1 2708.6 L478.1 2711.1 L478.2 2713.7 L478.2 2716.2 L478.2 2718.7 L478.3 2721.2 L478.3 2723.7 L478.4 2726.2 L478.4 2728.8 L478.4 2731.3 L478.5 2733.8 L478.5 2736.3 L478.5 2738.8 L478.6 2741.2 L478.6 2743.7 L478.6 2746.2 L478.7 2748.7 L478.7 2751.2 L478.7 2753.7 L478.8 2756.1 L478.8 2758.6 L478.8 2761.1 L478.9 2763.5 L478.9 2766.0 L479.0 2768.4 L479.0 2770.9 L479.0 2773.3 L479.1 2775.8 L479.1 2778.2 L479.1 2780.6 L479.2 2783.1 L479.2 2785.5 L479.3 2787.9 L479.3 2790.4 L479.3 2792.8 L479.4 2795.2 L479.4 2797.6 L479.4 2800.0 L479.5 2802.6 L479.5 2805.2 L479.6 2807.8 L479.6 2810.4 L479.7 2813.0 L479.7 2815.6 L479.7 2818.2 L479.8 2820.8 L479.8 2823.4 L479.9 2826.0 L479.9 2828.6 L479.9 2831.2 L480.0 2833.8 L480.0 2836.4 L480.1 2839.0 L480.1 2841.6 L480.1 2844.2 L480.2 2846.7 L480.2 2849.3 L480.3 2851.9 L480.3 2854.4 L480.4 2857.0 L480.4 2859.5 L480.4 2862.1 L480.5 2864.6 L480.5 2867.1 L480.6 2869.7 L480.6 2872.2 L480.7 2874.7 L480.7 2877.2 L480.8 2879.6 L480.8 2882.1 L480.8 2884.6 L480.9 2887.0 L480.9 2889.5 L481.0 2891.9 L481.0 2894.3 L481.1 2896.7 L481.1 2899.1 L481.2 2901.5 L481.2 2903.9 L481.3 2906.2 L481.3 2908.5 L481.4 2910.9 L481.5 2913.2 L481.5 2915.5 L481.6 2917.7 L481.6 2920.0 L481.7 2922.8 L481.8 2925.5 L481.8 2928.2 L481.9 2930.9 L482.0 2933.6 L482.1 2936.3 L482.1 2939.0 L482.2 2941.7 L482.3 2944.3 L482.3 2946.9 L482.4 2949.6 L482.5 2952.2 L482.6 2954.7 L482.6 2957.3 L482.7 2959.9 L482.8 2962.4 L482.9 2964.9 L483.0 2967.4 L483.0 2969.9 L483.1 2972.3 L483.2 2974.8 L483.3 2977.2 L483.4 2979.6 L483.5 2982.0 L483.6 2984.4 L483.7 2986.7 L483.8 2989.0 L483.9 2991.4 L484.0 2993.6 L484.1 2995.9 L484.2 2998.2 L484.3 3000.4 L484.5 3003.2 L484.6 3005.9 L484.8 3008.7 L484.9 3011.4 L485.1 3014.1 L485.2 3016.7 L485.4 3019.4 L485.6 3021.9 L485.7 3024.5 L485.9 3027.1 L486.1 3029.6 L486.3 3032.0 L486.5 3034.5 L486.7 3036.9 L486.9 3039.2 L487.1 3041.5 L487.3 3043.8 L487.5 3046.1 L487.7 3048.3 L488.0 3050.4 L488.3 3053.3 L488.7 3056.1 L489.1 3058.7 L489.5 3061.3 L489.9 3063.8 L490.3 3066.3 L490.7 3068.7 L491.2 3071.1 L491.6 3073.6 L492.0 3076.1 L492.4 3078.6 L493.8 3076.4 L495.2 3074.3 L496.6 3072.1 L498.0 3070.0 L499.6 3067.4 L501.0 3064.8 L502.5 3061.8 L503.3 3059.7 L504.0 3057.5 L504.8 3055.0 L505.5 3052.5 L506.3 3049.8 L507.0 3047.2 L507.7 3044.6 L508.5 3042.0 L509.2 3039.5 L510.0 3037.0 L510.7 3034.5 L511.4 3032.0 L512.2 3029.5 L513.0 3027.1 L513.8 3024.6 L514.7 3022.1 L515.6 3019.6 L516.5 3017.0 L517.5 3014.5 L518.5 3012.0 L519.5 3009.5 L520.6 3007.0 L521.7 3004.6 L522.9 3002.3 L524.2 2999.8 L525.5 2997.4 L526.9 2995.0 L528.4 2992.7 L529.9 2990.5 L531.4 2988.3 L532.9 2986.3 L534.8 2984.0 L536.7 2981.8 L538.7 2979.8 L540.7 2977.9 L542.8 2976.2 L545.2 2974.4 L547.6 2972.8 L550.1 2971.4 L552.7 2970.1 L555.0 2969.1 L557.4 2968.3 L559.8 2967.6 L562.6 2966.9 L565.0 2966.4 L567.7 2965.9 L570.5 2965.5 L573.4 2965.1 L576.3 2964.8 L579.2 2964.5 L582.0 2964.3 L584.6 2964.1 L587.2 2963.9 L589.7 2963.8 L592.3 2963.7 L594.8 2963.7 L597.4 2963.7 L600.0 2963.7 L602.8 2963.7 L605.6 2963.7 L608.5 2963.8 L611.4 2963.9 L614.2 2964.1 L617.1 2964.2 L620.0 2964.5 L622.5 2964.7 L625.0 2965.0 L627.5 2965.3 L630.0 2965.6 L632.6 2966.0 L635.1 2966.4 L637.6 2966.7 L640.1 2967.1 L642.6 2967.5 L645.1 2967.8 L647.6 2968.2 L650.1 2968.6 L652.6 2969.0 L655.1 2969.4 L657.6 2969.8 L660.1 2970.2 L662.6 2970.6 L665.1 2971.0 L667.6 2971.5 L670.1 2971.9 L672.7 2972.4 L675.2 2972.8 L677.7 2973.2 L680.2 2973.7 L682.7 2974.1 L685.2 2974.6 L687.7 2975.0 L690.2 2975.4 L692.7 2975.9 L695.2 2976.3 L697.7 2976.7 L700.2 2977.1 L702.7 2977.5 L705.2 2977.9 L707.7 2978.3 L710.2 2978.7 L712.7 2979.1 L715.2 2979.5 L717.7 2979.9 L720.2 2980.3 L722.7 2980.8 L725.2 2981.3 L727.7 2981.7 L730.2 2982.2 L732.8 2982.7 L735.3 2983.2 L737.8 2983.7 L740.3 2984.2 L742.8 2984.7 L745.3 2985.2 L747.8 2985.7 L750.3 2986.2 L752.8 2986.7 L755.3 2987.2 L757.8 2987.7 L760.3 2988.2 L762.8 2988.7 L765.3 2989.2 L767.8 2989.7 L770.3 2990.2 L772.9 2990.7 L775.4 2991.2 L777.9 2991.8 L780.4 2992.3 L782.9 2992.9 L785.4 2993.5 L787.9 2994.1 L790.4 2994.7 L792.9 2995.3 L795.4 2996.0 L797.9 2996.7 L800.4 2997.3 L802.9 2998.1 L805.5 2998.8 L808.1 2999.6 L810.8 3000.3 L813.3 3001.1 L815.8 3001.9 L818.1 3002.7 L820.3 3003.5 L823.1 3004.7 L825.6 3005.8 L828.0 3007.0 L830.4 3008.3 L833.0 3009.7 L835.5 3011.2 L837.9 3012.7 L840.4 3014.4 L842.4 3015.9 L844.4 3017.4 L846.4 3019.0 L848.4 3020.7 L850.3 3022.4 L852.3 3024.5 L854.3 3026.6 L856.3 3028.9 L858.1 3031.3 L859.8 3033.7 L861.1 3036.0 L862.3 3038.4 L863.4 3040.9 L864.5 3043.4 L865.6 3045.9 L866.7 3048.2 L867.9 3050.8 L869.1 3053.3 L870.3 3055.7 L871.6 3058.0 L872.8 3060.1 L874.4 3062.4 L876.0 3064.3 L877.6 3066.3 L877.8 3063.8 L877.9 3061.4 L878.1 3058.9 L878.2 3056.5 L878.4 3054.1 L878.6 3051.6 L878.7 3049.2 L878.9 3046.7 L879.0 3044.2 L879.2 3041.7 L879.3 3039.1 L879.5 3036.5 L879.6 3033.8 L879.8 3031.4 L879.9 3029.0 L880.0 3026.5 L880.1 3023.9 L880.3 3021.4 L880.4 3018.8 L880.5 3016.1 L880.6 3013.5 L880.7 3010.8 L880.8 3008.2 L881.0 3005.5 L881.1 3002.8 L881.2 3000.1 L881.3 2997.5 L881.4 2994.8 L881.6 2992.2 L881.7 2989.6 L881.8 2987.0 L881.9 2984.4 L882.1 2981.8 L882.2 2979.2 L882.3 2976.6 L882.4 2974.1 L882.6 2971.5 L882.7 2968.9 L882.8 2966.4 L883.0 2963.8 L883.1 2961.3 L883.2 2958.7 L883.4 2956.1 L883.5 2953.5 L883.6 2950.9 L883.8 2948.3 L883.9 2945.7 L884.0 2943.0 L884.2 2940.5 L884.3 2938.1 L884.4 2935.6 L884.5 2933.1 L884.6 2930.6 L884.7 2928.0 L884.8 2925.5 L885.0 2922.9 L885.1 2920.4 L885.2 2917.8 L885.3 2915.3 L885.4 2912.7 L885.5 2910.1 L885.7 2907.5 L885.8 2905.0 L885.9 2902.4 L886.0 2899.8 L886.2 2897.3 L886.3 2894.7 L886.4 2892.2 L886.5 2889.6 L886.7 2886.9 L886.8 2884.1 L886.9 2881.3 L887.0 2878.4 L887.1 2875.4 L887.3 2872.5 L887.4 2869.5 L887.5 2866.6 L887.6 2863.7 L887.7 2860.9 L887.9 2858.2 L888.0 2855.6 L888.2 2853.1 L888.4 2850.7 L888.5 2848.5 L888.7 2846.5 L889.0 2844.7 L889.2 2843.0 L889.4 2841.7 L890.4 2838.5 L891.5 2836.1 L891.9 2838.8 L892.3 2841.4 L892.6 2844.0 L893.0 2846.7 L893.4 2849.3 L893.8 2852.0 L894.2 2854.6 L894.7 2857.4 L895.1 2860.1 L895.6 2862.5 L896.1 2864.9 L896.6 2867.4 L897.1 2869.9 L897.6 2872.5 L898.2 2875.0 L898.7 2877.5 L899.3 2880.1 L899.8 2882.5 L900.4 2885.0 L900.9 2887.3 L901.4 2889.6 L901.9 2892.5 L902.5 2895.2 L903.0 2898.0 L903.6 2900.6 L904.1 2903.3 L904.6 2905.8 L905.2 2908.3 L905.9 2910.8 L906.7 2913.6 L907.5 2916.4 L908.3 2919.1 L909.2 2921.8 L910.1 2924.3 L911.1 2926.9 L912.3 2929.6 L913.5 2932.3 L914.9 2935.0 L916.3 2937.6 L917.8 2940.1 L919.2 2942.4 L920.7 2944.6 L922.3 2946.9 L923.9 2949.1 L925.7 2951.1 L927.5 2953.1 L929.4 2954.9 L931.5 2956.7 L933.7 2958.3 L935.9 2959.8 L938.1 2961.3 L940.4 2962.7 L942.9 2964.2 L945.5 2965.6 L948.1 2966.8 L950.9 2968.0 L953.8 2969.2 L956.1 2970.0 L958.4 2970.8 L960.9 2971.5 L963.4 2972.2 L966.0 2972.9 L968.6 2973.6 L971.1 2974.2 L973.6 2974.8 L976.1 2975.4 L978.6 2975.9 L981.0 2976.5 L983.5 2976.9 L986.0 2977.4 L988.5 2977.9 L991.1 2978.3 L993.7 2978.8 L996.2 2979.2 L998.8 2979.5 L1001.3 2979.9 L1004.0 2980.3 L1006.6 2980.6 L1009.3 2981.0 L1012.0 2981.3 L1014.7 2981.6 L1017.3 2981.9 L1020.0 2982.2 L1022.5 2982.4 L1025.0 2982.7 L1027.4 2982.9 L1029.9 2983.1 L1032.4 2983.3 L1034.9 2983.5 L1037.4 2983.7 L1039.9 2983.9 L1042.4 2984.0 L1045.0 2984.2 L1047.6 2984.4 L1050.2 2984.5 L1052.9 2984.7 L1055.6 2984.8 L1058.3 2985.0 L1061.0 2985.1 L1063.7 2985.3 L1066.5 2985.4 L1069.2 2985.5 L1071.9 2985.6 L1074.6 2985.8 L1077.3 2985.9 L1080.0 2986.0 L1082.5 2986.1 L1085.0 2986.3 L1087.4 2986.4 L1089.8 2986.5 L1092.2 2986.6 L1094.6 2986.7 L1097.0 2986.8 L1099.5 2986.9 L1102.0 2987.0 L1104.6 2987.1 L1107.2 2987.2 L1110.0 2987.3 L1112.2 2987.3 L1114.5 2987.4 L1116.8 2987.4 L1119.2 2987.5 L1121.7 2987.5 L1124.1 2987.6 L1126.6 2987.6 L1129.2 2987.6 L1131.7 2987.7 L1134.3 2987.7 L1136.9 2987.7 L1139.5 2987.7 L1142.1 2987.8 L1144.7 2987.8 L1147.4 2987.8 L1150.0 2987.8 L1152.5 2987.8 L1155.1 2987.7 L1157.7 2987.7 L1160.2 2987.7 L1162.7 2987.7 L1165.2 2987.6 L1167.7 2987.6 L1170.2 2987.5 L1172.7 2987.5 L1175.2 2987.4 L1177.7 2987.4 L1180.2 2987.3 L1182.7 2987.3 L1185.2 2987.2 L1187.7 2987.1 L1190.3 2987.0 L1192.8 2986.9 L1195.3 2986.8 L1197.8 2986.7 L1200.3 2986.6 L1202.8 2986.5 L1205.3 2986.4 L1207.8 2986.3 L1210.3 2986.1 L1212.8 2986.0 L1215.5 2985.9 L1218.2 2985.7 L1221.0 2985.5 L1223.9 2985.3 L1226.8 2985.1 L1229.6 2984.9 L1232.5 2984.7 L1235.4 2984.5 L1238.2 2984.3 L1241.0 2984.1 L1243.6 2983.9 L1246.2 2983.7 L1248.7 2983.5 L1251.1 2983.3 L1253.3 2983.1 L1255.3 2983.0 L1257.2 2982.8 L1258.9 2982.6 L1260.4 2982.5 L1264.3 2982.0 L1267.4 2981.6 L1270.8 2981.1 L1274.3 2980.5 L1277.8 2979.9 L1281.3 2979.3 L1284.8 2978.7 L1288.2 2978.1 L1291.6 2977.4 L1295.1 2976.8 L1298.5 2976.1 L1302.0 2975.4 L1305.4 2974.6 L1308.9 2973.8 L1312.3 2973.0 L1315.8 2972.2 L1319.2 2971.3 L1322.7 2970.4 L1326.1 2969.4 L1329.5 2968.5 L1332.9 2967.4 L1336.3 2966.4 L1339.7 2965.3 L1343.1 2964.2 L1346.4 2963.0 L1349.8 2961.8 L1353.1 2960.5 L1356.4 2959.2 L1359.7 2957.7 L1363.0 2956.3 L1366.2 2954.7 L1369.4 2953.2 L1372.6 2951.5 L1375.8 2949.8 L1378.9 2947.9 L1382.0 2946.1 L1385.0 2944.1 L1388.1 2942.2 L1391.1 2940.1 L1394.1 2938.0 L1396.9 2935.9 L1399.8 2933.7 L1402.6 2931.3 L1405.4 2929.0 L1408.1 2926.5 L1410.8 2924.1 L1413.3 2921.5 L1415.9 2918.9 L1418.4 2916.2 L1420.9 2913.5 L1423.2 2910.7 L1425.6 2907.9 L1427.8 2905.0 L1430.0 2902.1 L1432.1 2899.1 L1434.2 2896.1 L1436.2 2893.0 L1438.2 2890.0 L1440.1 2886.8 L1442.0 2883.7 L1443.7 2880.5 L1445.5 2877.3 L1447.2 2874.1 L1448.9 2870.9 L1450.4 2867.6 L1452.0 2864.3 L1453.5 2861.0 L1455.0 2857.7 L1456.4 2854.3 L1457.8 2851.0 L1459.1 2847.6 L1460.5 2844.2 L1461.7 2840.8 L1463.0 2837.4 L1464.2 2834.0 L1465.4 2830.6 L1466.5 2827.2 L1467.6 2823.7 L1468.7 2820.2 L1469.8 2816.8 L1470.8 2813.3 L1471.8 2809.9 L1472.8 2806.4 L1473.8 2803.0 L1474.7 2799.6 L1475.6 2796.1 L1476.5 2792.6 L1477.4 2789.1 L1478.2 2785.6 L1479.0 2782.1 L1479.7 2778.6 L1480.5 2775.1 L1481.2 2771.5 L1481.9 2768.0 L1482.6 2764.5 L1483.3 2761.0 L1483.9 2757.5 L1484.6 2754.0 L1485.2 2750.5 L1485.9 2747.0 L1486.5 2743.4 L1487.1 2739.9 L1487.7 2736.4 L1488.3 2732.9 L1488.8 2729.4 L1489.4 2725.9 L1490.0 2722.4 L1490.5 2718.8 L1491.0 2715.3 L1491.6 2711.8 L1492.1 2708.2 L1492.6 2704.7 L1493.1 2701.2 L1493.6 2697.7 L1494.1 2694.1 L1494.6 2690.6 L1495.0 2687.1 L1495.5 2683.6 L1496.0 2680.1 L1496.4 2676.6 L1496.9 2673.1 L1497.3 2669.5 L1497.7 2666.0 L1498.2 2662.5 L1498.6 2658.9 L1499.0 2655.4 L1499.4 2651.9 L1499.8 2648.4 L1500.2 2644.9 L1500.6 2641.4 L1501.0 2637.9 L1501.4 2634.3 L1501.8 2630.8 L1502.2 2627.3 L1502.6 2623.8 L1502.9 2620.2 L1503.3 2616.7 L1503.7 2613.2 L1504.0 2609.7 L1504.3 2606.2 L1504.7 2602.7 L1505.0 2599.1 L1505.3 2595.6 L1505.7 2592.1 L1506.0 2588.6 L1506.3 2585.1 L1506.7 2581.6 L1507.0 2578.0 L1507.3 2574.5 L1507.6 2571.0 L1507.9 2567.5 L1508.2 2564.0 L1508.5 2560.4 L1508.8 2556.9 L1509.1 2553.4 L1509.4 2549.9 L1509.7 2546.4 L1510.0 2542.9 L1510.3 2539.4 L1510.6 2535.8 L1510.9 2532.3 L1511.2 2528.8 L1511.5 2525.3 L1511.7 2521.8 L1512.0 2518.3 L1512.3 2514.8 L1512.5 2511.3 L1512.8 2507.8 L1513.1 2504.3 L1513.4 2500.7 L1513.7 2497.2 L1514.0 2493.7 L1514.3 2490.2 L1514.6 2486.7 L1514.9 2483.2 L1515.2 2479.7 L1515.5 2476.2 L1515.8 2472.7 L1516.1 2469.2 L1516.3 2465.7 L1516.6 2462.2 L1516.9 2458.7 L1517.2 2455.2 L1517.5 2451.7 L1517.8 2448.2 L1518.1 2444.7 L1518.3 2441.2 L1518.6 2437.7 L1518.9 2434.2 L1519.2 2430.7 L1519.5 2427.6 L1519.8 2423.7 L1519.9 2422.2 L1520.0 2420.4 L1520.2 2418.5 L1520.3 2416.3 L1520.5 2413.9 L1520.7 2411.4 L1520.9 2408.8 L1521.1 2406.1 L1521.3 2403.2 L1521.5 2400.3 L1521.7 2397.4 L1521.9 2394.4 L1522.2 2391.4 L1522.4 2388.5 L1522.6 2385.6 L1522.8 2382.8 L1523.0 2380.0 L1523.2 2377.4 L1523.4 2374.9 L1523.6 2372.5 L1523.9 2369.8 L1524.1 2367.1 L1524.3 2364.4 L1524.6 2361.8 L1524.8 2359.3 L1525.0 2356.8 L1525.3 2354.3 L1525.5 2351.9 L1525.7 2349.4 L1526.0 2347.1 L1526.2 2344.7 L1526.4 2342.3 L1526.7 2340.0 L1526.9 2337.3 L1527.2 2334.7 L1527.5 2332.1 L1527.8 2329.5 L1528.1 2326.9 L1528.3 2324.4 L1528.6 2321.9 L1528.9 2319.6 L1529.3 2317.2 L1529.6 2315.0 L1530.0 2312.2 L1530.4 2309.5 L1530.9 2306.9 L1531.3 2304.5 L1531.8 2302.2 L1532.3 2300.1 L1533.5 2296.5 L1534.7 2293.3 L1535.2 2295.9 L1535.7 2298.3 L1536.2 2300.8 L1536.7 2303.3 L1537.2 2305.9 L1537.6 2308.7 L1538.0 2311.7 L1538.2 2313.8 L1538.4 2316.0 L1538.5 2318.3 L1538.7 2320.7 L1538.8 2323.2 L1538.9 2325.7 L1539.1 2328.3 L1539.1 2330.9 L1539.2 2333.6 L1539.3 2336.3 L1539.4 2339.0 L1539.5 2341.7 L1539.6 2344.4 L1539.7 2347.0 L1539.8 2349.6 L1539.9 2352.2 L1540.1 2354.7 L1540.2 2357.2 L1540.3 2359.7 L1540.5 2362.2 L1540.6 2364.7 L1540.7 2367.2 L1540.9 2369.7 L1541.0 2372.2 L1541.1 2374.7 L1541.3 2377.2 L1541.4 2379.8 L1541.6 2382.3 L1541.7 2384.9 L1541.8 2387.5 L1542.0 2390.1 L1542.1 2392.8 L1542.3 2395.2 L1542.4 2397.6 L1542.5 2400.1 L1542.6 2402.5 L1542.8 2405.0 L1542.9 2407.5 L1543.0 2409.9 L1543.2 2412.5 L1543.3 2415.0 L1543.4 2417.5 L1543.6 2420.1 L1543.7 2422.6 L1543.8 2425.2 L1544.0 2427.8 L1544.1 2430.4 L1544.2 2433.0 L1544.3 2435.6 L1544.5 2438.2 L1544.6 2440.9 L1544.7 2443.5 L1544.8 2445.9 L1545.0 2448.4 L1545.1 2450.8 L1545.2 2453.3 L1545.3 2455.8 L1545.4 2458.3 L1545.5 2460.9 L1545.6 2463.4 L1545.7 2465.9 L1545.9 2468.5 L1546.0 2471.0 L1546.1 2473.6 L1546.2 2476.2 L1546.3 2478.7 L1546.4 2481.3 L1546.5 2483.9 L1546.6 2486.5 L1546.7 2489.0 L1546.8 2491.6 L1546.9 2494.2 L1547.1 2496.8 L1547.2 2499.3 L1547.3 2501.9 L1547.4 2504.4 L1547.5 2506.9 L1547.6 2509.5 L1547.7 2512.0 L1547.8 2514.6 L1547.9 2517.1 L1548.0 2519.6 L1548.1 2522.2 L1548.2 2524.7 L1548.3 2527.2 L1548.5 2529.8 L1548.6 2532.3 L1548.7 2534.9 L1548.8 2537.4 L1548.9 2539.9 L1549.0 2542.5 L1549.1 2545.0 L1549.2 2547.5 L1549.3 2550.1 L1549.4 2552.6 L1549.5 2555.2 L1549.6 2557.7 L1549.7 2560.2 L1549.9 2562.8 L1550.0 2565.3 L1550.1 2567.8 L1550.2 2570.4 L1550.3 2572.9 L1550.4 2575.5 L1550.6 2578.0 L1550.7 2580.5 L1550.8 2583.1 L1550.9 2585.6 L1551.0 2588.2 L1551.2 2590.7 L1551.3 2593.3 L1551.4 2595.8 L1551.5 2598.4 L1551.7 2600.9 L1551.8 2603.4 L1551.9 2606.0 L1552.0 2608.5 L1552.1 2611.0 L1552.3 2613.6 L1552.4 2616.1 L1552.5 2618.6 L1552.6 2621.1 L1552.7 2623.6 L1552.9 2626.1 L1553.0 2628.7 L1553.1 2631.3 L1553.2 2633.9 L1553.4 2636.4 L1553.5 2638.9 L1553.6 2641.4 L1553.7 2643.9 L1553.8 2646.4 L1553.9 2648.9 L1554.0 2651.4 L1554.2 2653.8 L1554.3 2656.4 L1554.4 2658.9 L1554.5 2661.4 L1554.6 2664.0 L1554.8 2666.6 L1554.9 2669.2 L1555.0 2671.9 L1555.1 2674.6 L1555.3 2677.3 L1555.4 2680.1 L1555.6 2683.0 L1555.7 2685.2 L1555.8 2687.5 L1555.9 2689.8 L1556.0 2692.2 L1556.1 2694.5 L1556.2 2696.9 L1556.4 2699.4 L1556.5 2701.8 L1556.6 2704.3 L1556.7 2706.8 L1556.9 2709.3 L1557.0 2711.8 L1557.1 2714.4 L1557.2 2716.9 L1557.4 2719.5 L1557.5 2722.1 L1557.6 2724.7 L1557.8 2727.3 L1557.9 2729.9 L1558.0 2732.5 L1558.2 2735.1 L1558.3 2737.7 L1558.5 2740.3 L1558.6 2743.0 L1558.7 2745.6 L1558.9 2748.2 L1559.0 2750.8 L1559.2 2753.3 L1559.3 2755.9 L1559.4 2758.5 L1559.6 2761.0 L1559.7 2763.6 L1559.9 2766.1 L1560.0 2768.6 L1560.2 2771.0 L1560.3 2773.5 L1560.4 2776.1 L1560.6 2778.6 L1560.8 2781.2 L1560.9 2783.8 L1561.1 2786.4 L1561.2 2788.9 L1561.4 2791.5 L1561.5 2794.1 L1561.7 2796.6 L1561.9 2799.2 L1562.0 2801.7 L1562.2 2804.2 L1562.3 2806.8 L1562.5 2809.3 L1562.7 2811.8 L1562.8 2814.4 L1563.0 2816.9 L1563.2 2819.4 L1563.3 2821.9 L1563.5 2824.4 L1563.7 2826.9 L1563.8 2829.3 L1564.0 2831.8 L1564.2 2834.3 L1564.3 2836.7 L1564.5 2839.2 L1564.7 2841.6 L1564.9 2844.1 L1565.0 2846.5 L1565.2 2848.9 L1565.4 2851.3 L1565.6 2853.7 L1565.8 2856.4 L1566.0 2859.0 L1566.2 2861.7 L1566.4 2864.4 L1566.6 2867.0 L1566.8 2869.7 L1567.0 2872.3 L1567.2 2874.9 L1567.4 2877.6 L1567.6 2880.2 L1567.8 2882.8 L1568.0 2885.4 L1568.2 2887.9 L1568.4 2890.5 L1568.6 2893.1 L1568.8 2895.6 L1569.1 2898.1 L1569.3 2900.7 L1569.5 2903.2 L1569.7 2905.7 L1570.0 2908.2 L1570.2 2910.7 L1570.4 2913.1 L1570.7 2915.6 L1570.9 2918.0 L1571.2 2920.5 L1571.5 2923.1 L1571.7 2925.8 L1572.0 2928.5 L1572.3 2931.1 L1572.6 2933.7 L1572.9 2936.3 L1573.2 2938.9 L1573.5 2941.5 L1573.8 2944.1 L1574.1 2946.6 L1574.4 2949.1 L1574.7 2951.7 L1575.0 2954.2 L1575.4 2956.7 L1575.7 2959.2 L1576.0 2961.7 L1576.4 2964.1 L1576.7 2966.6 L1577.1 2969.1 L1577.4 2971.5 L1577.8 2973.9 L1578.2 2976.6 L1578.6 2979.2 L1579.0 2981.8 L1579.4 2984.4 L1579.9 2987.0 L1580.3 2989.6 L1580.7 2992.2 L1581.2 2994.8 L1581.6 2997.3 L1582.1 2999.9 L1582.5 3002.4 L1583.0 3004.9 L1583.5 3007.3 L1584.0 3009.8 L1584.5 3012.2 L1585.0 3014.5 L1585.5 3016.9 L1586.1 3019.2 L1586.7 3021.8 L1587.4 3024.5 L1588.1 3027.1 L1588.7 3029.7 L1589.4 3032.2 L1590.1 3034.7 L1590.8 3037.2 L1591.5 3039.6 L1592.3 3042.0 L1593.1 3044.3 L1594.0 3046.5 L1594.9 3048.8 L1595.9 3050.9 L1597.1 3053.5 L1598.5 3056.1 L1599.8 3058.6 L1601.2 3061.0 L1602.7 3063.4 L1604.2 3065.6 L1605.9 3067.7 L1607.6 3069.7 L1609.4 3071.6 L1611.4 3073.4 L1613.4 3075.0 L1615.6 3076.6 L1617.9 3078.0 L1620.2 3079.3 L1622.6 3080.5 L1624.9 3081.5 L1627.3 3082.4 L1629.7 3083.2 L1632.1 3083.8 L1634.5 3084.3 L1636.9 3084.6 L1639.5 3084.9 L1642.4 3085.1 L1645.6 3085.2 L1647.5 3085.3 L1649.5 3085.3 L1651.5 3085.3 L1653.7 3085.3 L1655.9 3085.3 L1658.2 3085.2 L1660.6 3085.1 L1663.1 3085.0 L1665.6 3084.9 L1668.2 3084.7 L1670.9 3084.6 L1673.5 3084.4 L1676.3 3084.2 L1679.0 3084.0 L1681.8 3083.8 L1684.6 3083.6 L1687.4 3083.4 L1690.2 3083.2 L1693.1 3083.0 L1695.9 3082.8 L1698.7 3082.6 L1701.5 3082.4 L1704.3 3082.3 L1707.0 3082.1 L1709.4 3082.0 L1711.7 3081.8 L1714.2 3081.7 L1716.6 3081.5 L1719.1 3081.4 L1721.6 3081.2 L1724.1 3081.0 L1726.7 3080.9 L1729.2 3080.7 L1731.8 3080.5 L1734.4 3080.4 L1737.0 3080.2 L1739.6 3080.0 L1742.2 3079.9 L1744.8 3079.7 L1747.5 3079.5 L1750.1 3079.3 L1752.7 3079.2 L1755.3 3079.0 L1757.9 3078.8 L1760.4 3078.6 L1763.0 3078.5 L1765.5 3078.3 L1768.0 3078.2 L1770.5 3078.0 L1773.0 3077.8 L1775.5 3077.7 L1777.9 3077.5 L1780.3 3077.4 L1782.6 3077.2 L1784.9 3077.1 L1787.2 3077.0 L1790.0 3076.8 L1792.7 3076.7 L1795.3 3076.5 L1797.9 3076.4 L1800.4 3076.2 L1802.9 3076.1 L1805.4 3076.0 L1807.9 3075.8 L1810.3 3075.7 L1812.7 3075.6 L1815.1 3075.5 L1817.5 3075.3 L1820.0 3075.2 L1822.4 3075.1 L1824.9 3075.0 L1827.4 3074.8 L1829.9 3074.7 L1832.5 3074.6 L1835.1 3074.5 L1837.8 3074.3 L1840.6 3074.2 L1842.9 3074.1 L1845.3 3074.0 L1847.7 3073.9 L1850.2 3073.7 L1852.7 3073.6 L1855.3 3073.5 L1857.8 3073.4 L1860.4 3073.2 L1863.1 3073.1 L1865.7 3073.0 L1868.4 3072.9 L1871.0 3072.7 L1873.7 3072.6 L1876.4 3072.5 L1879.1 3072.4 L1881.8 3072.2 L1884.5 3072.1 L1887.2 3072.0 L1889.9 3071.9 L1892.5 3071.8 L1895.2 3071.6 L1897.8 3071.5 L1900.4 3071.4 L1903.0 3071.3 L1905.6 3071.2 L1908.1 3071.1 L1910.5 3071.0 L1913.0 3070.9 L1915.4 3070.8 L1917.7 3070.7 L1920.0 3070.7 L1922.8 3070.6 L1925.5 3070.5 L1928.1 3070.4 L1930.8 3070.3 L1933.3 3070.2 L1935.9 3070.2 L1938.4 3070.1 L1940.9 3070.0 L1943.4 3070.0 L1945.8 3069.9 L1948.2 3069.9 L1950.6 3069.8 L1953.1 3069.8 L1955.5 3069.7 L1957.9 3069.7 L1960.3 3069.7 L1962.7 3069.6 L1965.1 3069.6 L1967.5 3069.5 L1970.0 3069.5 L1972.5 3069.4 L1975.1 3069.4 L1977.6 3069.4 L1980.1 3069.3 L1982.6 3069.3 L1985.1 3069.3 L1987.6 3069.3 L1990.1 3069.2 L1992.6 3069.2 L1995.1 3069.2 L1997.6 3069.2 L2000.1 3069.2 L2002.6 3069.1 L2005.1 3069.1 L2007.6 3069.1 L2010.1 3069.1 L2012.6 3069.0 L2015.1 3069.0 L2017.6 3069.0" fill="none" stroke="#F04040" stroke-width="5" stroke-linejoin="round" stroke-linecap="butt"/><path d="M309.0 2848.0 L310.3 2850.3 L311.5 2852.6 L312.7 2855.1 L313.6 2857.7 L314.4 2860.4 L315.2 2863.2 L315.9 2866.0 L316.5 2868.4 L317.0 2870.8 L317.5 2873.3 L318.0 2875.9 L318.5 2878.6 L318.9 2881.0 L319.2 2883.4 L319.6 2886.0 L319.9 2888.6 L320.2 2891.3 L320.6 2894.1 L320.9 2897.0 L321.2 2900.0 L321.5 2902.3 L321.8 2904.7 L322.1 2907.3 L322.4 2909.9 L322.6 2912.5 L322.9 2915.2 L323.2 2917.9 L323.5 2920.7 L323.8 2923.4 L324.1 2926.1 L324.3 2928.8 L324.6 2931.4 L324.8 2934.0 L325.1 2936.5 L325.4 2939.2 L325.6 2941.9 L325.8 2944.5 L326.1 2947.1 L326.3 2949.7 L326.5 2952.3 L326.7 2954.8 L327.0 2957.4 L327.2 2959.9 L327.4 2962.4 L327.6 2965.0 L327.8 2967.5 L328.1 2970.0 L328.3 2972.6 L328.5 2975.1 L328.7 2977.6 L328.9 2980.1 L329.2 2982.6 L329.4 2985.1 L329.6 2987.6 L329.8 2990.0 L330.0 2992.5 L330.3 2995.1 L330.5 2997.6 L330.8 3000.2 L331.0 3002.7 L331.3 3005.2 L331.5 3007.8 L331.8 3010.3 L332.0 3012.8 L332.3 3015.2 L332.5 3017.7 L332.8 3020.3 L333.1 3022.9 L333.3 3025.5 L333.6 3028.0 L333.8 3030.6 L334.1 3033.1 L334.4 3035.6 L334.7 3038.0 L335.0 3040.4 L335.3 3043.0 L335.7 3045.6 L336.0 3048.2 L336.3 3050.7 L336.7 3053.2 L337.1 3055.7 L337.6 3058.2 L338.1 3060.6 L338.6 3063.1 L339.2 3065.5 L339.8 3068.0 L340.4 3070.4 L341.0 3072.9 L341.6 3075.3 L342.2 3077.8 L342.6 3075.3 L343.1 3072.8 L343.5 3070.2 L343.9 3067.2 L344.1 3065.2 L344.4 3063.1 L344.6 3060.7 L344.8 3058.3 L345.0 3055.8 L345.2 3053.1 L345.4 3050.5 L345.6 3047.8 L345.8 3045.1 L346.0 3042.4 L346.2 3039.8 L346.3 3037.2 L346.5 3034.7 L346.7 3032.3 L346.9 3029.8 L347.1 3027.4 L347.3 3025.0 L347.5 3022.6 L347.6 3020.1 L347.8 3017.6 L348.0 3015.1 L348.1 3012.5 L348.3 3009.8 L348.4 3007.1 L348.6 3004.7 L348.7 3002.3 L348.8 2999.8 L348.9 2997.3 L349.0 2994.8 L349.1 2992.2 L349.2 2989.5 L349.3 2986.9 L349.4 2984.2 L349.5 2981.5 L349.6 2978.8 L349.6 2976.1 L349.7 2973.3 L349.8 2970.6 L349.9 2967.9 L350.0 2965.3 L350.0 2962.6 L350.1 2960.0 L350.2 2957.4 L350.2 2954.9 L350.3 2952.3 L350.4 2949.8 L350.4 2947.2 L350.5 2944.7 L350.5 2942.2 L350.6 2939.6 L350.6 2937.1 L350.7 2934.5 L350.7 2932.0 L350.8 2929.4 L350.8 2926.9 L350.9 2924.3 L350.9 2921.7 L350.9 2919.1 L351.0 2916.5 L351.0 2913.8 L351.1 2911.3 L351.1 2908.8 L351.2 2906.4 L351.2 2903.9 L351.2 2901.3 L351.3 2898.8 L351.3 2896.3 L351.3 2893.7 L351.4 2891.2 L351.4 2888.6 L351.4 2886.1 L351.5 2883.5 L351.5 2880.9 L351.5 2878.3 L351.6 2875.7 L351.6 2873.1 L351.6 2870.5 L351.7 2867.9 L351.7 2865.3 L351.8 2862.6 L351.8 2860.0 L351.8 2857.6 L351.9 2855.2 L351.9 2852.8 L352.0 2850.4 L352.0 2848.0 L352.1 2845.6 L352.1 2843.2 L352.2 2840.8 L352.2 2838.4 L352.3 2836.0 L352.3 2833.6 L352.4 2831.2 L352.4 2828.7 L352.5 2826.2 L352.5 2823.8 L352.6 2821.2 L352.6 2818.7 L352.7 2816.1 L352.7 2813.5 L352.8 2810.9 L352.8 2808.2 L352.9 2805.5 L352.9 2802.8 L353.0 2800.0 L353.0 2797.8 L353.0 2795.6 L353.1 2793.3 L353.1 2791.0 L353.1 2788.6 L353.2 2786.3 L353.2 2783.9 L353.2 2781.4 L353.3 2779.0 L353.3 2776.5 L353.3 2774.0 L353.3 2771.5 L353.4 2769.0 L353.4 2766.4 L353.4 2763.9 L353.5 2761.3 L353.5 2758.7 L353.5 2756.1 L353.6 2753.5 L353.6 2750.9 L353.6 2748.3 L353.7 2745.7 L353.7 2743.0 L353.7 2740.4 L353.8 2737.8 L353.8 2735.2 L353.8 2732.6 L353.9 2730.0 L353.9 2727.4 L353.9 2724.8 L354.0 2722.2 L354.0 2719.7 L354.0 2717.2 L354.1 2714.6 L354.1 2712.1 L354.1 2709.7 L354.2 2707.2 L354.2 2704.8 L354.3 2702.4 L354.3 2700.0 L354.3 2697.4 L354.4 2694.8 L354.4 2692.2 L354.5 2689.7 L354.5 2687.2 L354.6 2684.7 L354.6 2682.2 L354.7 2679.8 L354.7 2677.3 L354.8 2674.9 L354.8 2672.5 L354.9 2670.1 L355.0 2667.7 L355.0 2665.3 L355.1 2662.9 L355.1 2660.5 L355.2 2658.0 L355.2 2655.6 L355.3 2653.2 L355.3 2650.8 L355.4 2648.4 L355.4 2645.9 L355.5 2643.4 L355.6 2640.9 L355.6 2638.4 L355.7 2635.9 L355.7 2633.3 L355.8 2630.7 L355.8 2628.1 L355.9 2625.4 L355.9 2622.7 L356.0 2620.0 L356.0 2617.7 L356.1 2615.5 L356.1 2613.1 L356.2 2610.8 L356.2 2608.5 L356.2 2606.1 L356.3 2603.7 L356.3 2601.3 L356.4 2598.8 L356.4 2596.4 L356.5 2593.9 L356.5 2591.4 L356.5 2589.0 L356.6 2586.4 L356.6 2583.9 L356.7 2581.4 L356.7 2578.8 L356.8 2576.3 L356.8 2573.7 L356.9 2571.2 L356.9 2568.6 L356.9 2566.0 L357.0 2563.4 L357.0 2560.8 L357.1 2558.2 L357.1 2555.6 L357.2 2553.0 L357.2 2550.5 L357.2 2547.9 L357.3 2545.3 L357.3 2542.7 L357.4 2540.1 L357.4 2537.5 L357.5 2534.9 L357.5 2532.4 L357.5 2529.8 L357.6 2527.2 L357.6 2524.7 L357.7 2522.2 L357.7 2519.6 L357.7 2517.1 L357.8 2514.6 L357.8 2512.2 L357.8 2509.7 L357.9 2507.2 L357.9 2504.8 L358.0 2502.4 L358.0 2500.0 L358.0 2497.4 L358.1 2494.8 L358.1 2492.2 L358.1 2489.6 L358.2 2487.0 L358.2 2484.4 L358.2 2481.8 L358.3 2479.2 L358.3 2476.7 L358.3 2474.1 L358.4 2471.5 L358.4 2469.0 L358.4 2466.4 L358.5 2463.9 L358.5 2461.3 L358.5 2458.8 L358.5 2456.3 L358.6 2453.8 L358.6 2451.2 L358.6 2448.7 L358.7 2446.2 L358.7 2443.7 L358.7 2441.2 L358.8 2438.8 L358.8 2436.3 L358.8 2433.8 L358.8 2431.4 L358.9 2428.9 L358.9 2426.4 L358.9 2424.0 L359.0 2421.6 L359.0 2419.1 L359.0 2416.7 L359.1 2414.3 L359.1 2411.9 L359.1 2409.5 L359.2 2407.1 L359.2 2404.7 L359.3 2402.4 L359.3 2400.0 L359.3 2397.4 L359.4 2394.8 L359.4 2392.2 L359.5 2389.7 L359.5 2387.2 L359.6 2384.7 L359.6 2382.2 L359.7 2379.8 L359.7 2377.3 L359.8 2374.9 L359.8 2372.5 L359.9 2370.1 L360.0 2367.7 L360.0 2365.3 L360.1 2362.9 L360.1 2360.5 L360.2 2358.0 L360.2 2355.6 L360.3 2353.2 L360.3 2350.8 L360.4 2348.4 L360.5 2345.9 L360.5 2343.4 L360.6 2340.9 L360.6 2338.4 L360.7 2335.9 L360.7 2333.3 L360.8 2330.7 L360.8 2328.1 L360.9 2325.4 L361.0 2322.7 L361.0 2320.0 L361.1 2317.7 L361.1 2315.4 L361.2 2313.1 L361.2 2310.7 L361.3 2308.3 L361.3 2305.9 L361.4 2303.4 L361.4 2300.9 L361.5 2298.4 L361.5 2295.9 L361.6 2293.3 L361.6 2290.7 L361.7 2288.1 L361.7 2285.5 L361.8 2282.9 L361.8 2280.3 L361.9 2277.6 L361.9 2274.9 L362.0 2272.3 L362.0 2269.6 L362.1 2266.9 L362.1 2264.3 L362.2 2261.6 L362.2 2258.9 L362.3 2256.2 L362.3 2253.6 L362.4 2250.9 L362.4 2248.3 L362.5 2245.6 L362.5 2243.0 L362.6 2240.4 L362.6 2237.8 L362.7 2235.2 L362.7 2232.7 L362.8 2230.1 L362.8 2227.6 L362.9 2225.2 L362.9 2222.7 L363.0 2220.3 L363.0 2217.9 L363.0 2215.5 L363.1 2213.2 L363.1 2210.9 L363.2 2208.6 L363.2 2206.4 L363.2 2204.2 L363.3 2202.1 L363.3 2200.0 L363.4 2197.0 L363.4 2194.1 L363.5 2191.2 L363.5 2188.4 L363.5 2185.7 L363.6 2183.0 L363.6 2180.4 L363.6 2177.8 L363.7 2175.2 L363.7 2172.7 L363.7 2170.2 L363.8 2167.7 L363.8 2165.3 L363.8 2162.8 L363.9 2160.4 L363.9 2158.0 L363.9 2155.5 L364.0 2153.1 L364.0 2150.6 L364.0 2148.1 L364.1 2145.6 L364.1 2143.1 L364.1 2140.5 L364.2 2138.0 L364.2 2135.5 L364.3 2133.0 L364.3 2130.5 L364.3 2128.0 L364.4 2125.5 L364.4 2123.0 L364.5 2120.5 L364.5 2118.0 L364.5 2115.5 L364.6 2113.0 L364.6 2110.5 L364.7 2108.0 L364.7 2105.5 L364.8 2103.0 L364.8 2100.5 L364.9 2097.9 L364.9 2095.4 L365.0 2092.9 L365.0 2090.4 L365.1 2087.9 L365.1 2085.4 L365.2 2082.9 L365.2 2080.4 L365.3 2077.9 L365.4 2075.4 L365.4 2072.8 L365.5 2070.3 L365.6 2067.8 L365.7 2065.2 L365.7 2062.7 L365.8 2060.1 L365.9 2057.6 L366.0 2055.0 L366.0 2052.5 L366.1 2050.0 L366.2 2047.4 L366.3 2044.9 L366.4 2042.4 L366.4 2039.9 L366.5 2037.4 L366.6 2034.9 L366.7 2032.4 L366.8 2029.9 L366.9 2027.5 L367.0 2025.0 L367.1 2022.6 L367.2 2020.2 L367.3 2017.6 L367.4 2014.9 L367.5 2012.3 L367.6 2009.6 L367.7 2007.0 L367.8 2004.4 L367.9 2001.7 L368.0 1999.1 L368.1 1996.5 L368.2 1993.9 L368.3 1991.4 L368.4 1988.8 L368.5 1986.3 L368.7 1983.9 L368.8 1981.5 L368.9 1979.1 L369.0 1976.8 L369.2 1974.5 L369.3 1972.3 L369.5 1970.1 L369.7 1967.1 L369.9 1964.2 L370.2 1961.4 L370.5 1958.7 L370.7 1956.0 L371.0 1953.5 L371.3 1950.9 L371.6 1948.3 L371.8 1945.7 L372.1 1943.0 L372.6 1945.7 L373.1 1948.4 L373.6 1951.1 L374.1 1953.7 L374.6 1956.4 L375.0 1959.1 L375.5 1961.8 L376.0 1964.5 L376.4 1967.3 L376.8 1970.1 L377.2 1972.5 L377.5 1975.0 L377.8 1977.5 L378.1 1980.0 L378.4 1982.5 L378.6 1985.0 L378.9 1987.6 L379.1 1990.1 L379.4 1992.6 L379.6 1995.2 L379.9 1997.7 L380.1 2000.2 L380.3 2002.7 L380.6 2005.2 L380.8 2007.7 L381.0 2010.2 L381.2 2012.7 L381.4 2015.3 L381.6 2017.8 L381.8 2020.3 L382.0 2022.8 L382.2 2025.3 L382.4 2027.8 L382.6 2030.3 L382.8 2032.8 L383.1 2035.3 L383.3 2037.8 L383.5 2040.3 L383.7 2042.8 L383.9 2045.3 L384.1 2047.8 L384.3 2050.3 L384.5 2052.8 L384.8 2055.3 L385.0 2057.8 L385.2 2060.3 L385.4 2062.8 L385.6 2065.3 L385.8 2067.8 L386.0 2070.3 L386.2 2072.8 L386.4 2075.3 L386.6 2077.9 L386.8 2080.4 L387.0 2082.9 L387.2 2085.4 L387.4 2087.9 L387.6 2090.4 L387.8 2092.9 L388.1 2095.4 L388.3 2097.9 L388.5 2100.4 L388.7 2102.9 L388.9 2105.4 L389.1 2107.9 L389.3 2110.4 L389.5 2112.9 L389.7 2115.4 L390.0 2117.9 L390.2 2120.4 L390.4 2122.9 L390.6 2125.4 L390.8 2127.9 L391.0 2130.4 L391.2 2132.9 L391.4 2135.4 L391.6 2138.0 L391.8 2140.5 L392.0 2143.0 L392.2 2145.5 L392.4 2148.0 L392.6 2150.5 L392.8 2153.0 L393.1 2155.6 L393.3 2158.2 L393.5 2160.8 L393.7 2163.4 L393.9 2166.0 L394.2 2168.5 L394.4 2171.1 L394.6 2173.5 L394.8 2176.0 L395.0 2178.3 L395.3 2180.6 L395.5 2183.6 L395.8 2186.3 L396.1 2189.0 L396.3 2191.6 L396.6 2194.3 L396.9 2197.0 L397.2 2200.0 L397.4 2202.3 L397.7 2204.6 L397.9 2207.0 L398.1 2209.5 L398.4 2212.0 L398.6 2214.6 L398.9 2217.2 L399.2 2219.8 L399.4 2222.3 L399.7 2224.9 L399.9 2227.5 L400.2 2230.0 L400.5 2232.5 L400.7 2235.0 L401.0 2237.5 L401.2 2240.0 L401.5 2242.5 L401.7 2245.0 L402.0 2247.5 L402.2 2250.0 L402.5 2252.5 L402.8 2255.0 L403.1 2257.5 L403.3 2260.0 L403.6 2262.5 L403.9 2265.0 L404.3 2267.5 L404.6 2270.0 L404.9 2272.5 L405.2 2275.0 L405.5 2277.5 L405.9 2280.0 L406.2 2282.5 L406.5 2285.0 L406.9 2287.5 L407.2 2290.0 L407.5 2292.5 L407.9 2295.1 L408.2 2297.6 L408.5 2300.1 L408.9 2302.7 L409.2 2305.2 L409.6 2307.8 L409.9 2310.3 L410.3 2312.8 L410.7 2315.3 L411.0 2317.7 L411.4 2320.2 L411.9 2322.9 L412.4 2325.5 L412.8 2328.2 L413.3 2330.9 L413.8 2333.5 L414.3 2336.1 L414.8 2338.7 L415.3 2341.2 L415.9 2343.7 L416.5 2346.2 L417.1 2348.8 L417.7 2351.3 L418.3 2353.8 L419.0 2356.3 L419.6 2358.8 L420.3 2361.2 L421.0 2363.6 L421.8 2365.9 L422.6 2368.2 L423.5 2370.8 L424.5 2373.5 L425.5 2376.1 L426.6 2378.6 L427.7 2381.0 L428.8 2383.1 L430.0 2384.8 L432.6 2387.4 L435.3 2389.4 L436.7 2387.2 L438.1 2385.0 L439.4 2382.7 L440.7 2380.1 L441.6 2378.0 L442.4 2375.8 L443.2 2373.4 L444.0 2370.8 L444.8 2368.2 L445.5 2365.5 L446.2 2362.9 L446.9 2360.2 L447.5 2357.7 L448.0 2355.1 L448.5 2352.5 L449.0 2349.9 L449.4 2347.2 L449.9 2344.6 L450.3 2341.8 L450.7 2339.1 L451.2 2336.3 L451.5 2333.9 L451.9 2331.5 L452.2 2329.0 L452.6 2326.5 L452.9 2324.0 L453.3 2321.5 L453.6 2318.9 L453.9 2316.3 L454.2 2313.8 L454.6 2311.2 L454.9 2308.7 L455.2 2306.2 L455.4 2303.7 L455.7 2301.2 L456.0 2298.8 L456.3 2296.3 L456.5 2293.8 L456.8 2291.4 L457.0 2288.9 L457.2 2286.4 L457.5 2283.9 L457.7 2281.4 L458.0 2278.8 L458.2 2276.2 L458.4 2273.7 L458.7 2271.2 L458.9 2268.7 L459.1 2266.2 L459.3 2263.6 L459.6 2261.0 L459.8 2258.4 L460.0 2255.8 L460.2 2253.2 L460.4 2250.6 L460.6 2247.9 L460.8 2245.3 L461.0 2242.6 L461.3 2240.0 L461.4 2237.6 L461.6 2235.1 L461.8 2232.6 L462.0 2230.2 L462.2 2227.7 L462.4 2225.2 L462.6 2222.7 L462.8 2220.2 L463.0 2217.7 L463.1 2215.1 L463.3 2212.6 L463.5 2210.1 L463.7 2207.6 L463.9 2205.0 L464.1 2202.5 L464.3 2200.0 L464.5 2197.4 L464.7 2194.8 L464.9 2192.1 L465.1 2189.4 L465.3 2186.7 L465.5 2183.9 L465.7 2181.2 L465.9 2178.5 L466.1 2175.8 L466.3 2173.2 L466.5 2170.5 L466.7 2168.0 L466.9 2165.5 L467.1 2163.1 L467.3 2160.8 L467.6 2158.5 L467.9 2155.3 L468.3 2152.1 L468.7 2149.0 L469.0 2146.1 L469.4 2143.3 L469.8 2140.7 L470.1 2138.4 L470.4 2136.5 L471.5 2132.0 L471.6 2134.6 L471.8 2137.1 L472.0 2139.6 L472.1 2142.2 L472.3 2144.7 L472.4 2147.2 L472.6 2149.8 L472.7 2152.4 L472.9 2155.0 L473.0 2157.7 L473.1 2160.5 L473.2 2162.9 L473.3 2165.3 L473.4 2167.8 L473.5 2170.2 L473.6 2172.7 L473.6 2175.2 L473.7 2177.7 L473.8 2180.3 L473.9 2182.9 L473.9 2185.6 L474.0 2188.3 L474.1 2191.1 L474.1 2194.0 L474.2 2197.0 L474.3 2200.0 L474.4 2202.1 L474.4 2204.2 L474.5 2206.4 L474.5 2208.6 L474.6 2210.8 L474.7 2213.0 L474.7 2215.3 L474.8 2217.7 L474.8 2220.0 L474.9 2222.4 L475.0 2224.8 L475.0 2227.2 L475.1 2229.7 L475.1 2232.2 L475.2 2234.7 L475.3 2237.2 L475.3 2239.8 L475.4 2242.4 L475.5 2245.0 L475.5 2247.6 L475.6 2250.2 L475.7 2252.9 L475.7 2255.5 L475.8 2258.2 L475.8 2260.9 L475.9 2263.6 L476.0 2266.3 L476.0 2269.0 L476.1 2271.8 L476.1 2274.5 L476.2 2277.3 L476.3 2280.0 L476.3 2282.3 L476.4 2284.5 L476.4 2286.9 L476.5 2289.2 L476.5 2291.5 L476.5 2293.9 L476.6 2296.3 L476.6 2298.7 L476.7 2301.2 L476.7 2303.6 L476.8 2306.1 L476.8 2308.6 L476.9 2311.0 L476.9 2313.6 L477.0 2316.1 L477.0 2318.6 L477.1 2321.2 L477.1 2323.7 L477.2 2326.3 L477.2 2328.8 L477.2 2331.4 L477.3 2334.0 L477.3 2336.6 L477.4 2339.2 L477.4 2341.8 L477.5 2344.4 L477.5 2347.0 L477.6 2349.5 L477.6 2352.1 L477.7 2354.7 L477.7 2357.3 L477.7 2359.9 L477.8 2362.5 L477.8 2365.1 L477.9 2367.6 L477.9 2370.2 L478.0 2372.8 L478.0 2375.3 L478.1 2377.8 L478.1 2380.4 L478.1 2382.9 L478.2 2385.4 L478.2 2387.8 L478.3 2390.3 L478.3 2392.8 L478.4 2395.2 L478.4 2397.6 L478.5 2400.0 L478.5 2402.6 L478.5 2405.2 L478.6 2407.7 L478.6 2410.3 L478.7 2412.8 L478.7 2415.3 L478.8 2417.7 L478.8 2420.2 L478.9 2422.7 L478.9 2425.1 L479.0 2427.5 L479.0 2429.9 L479.1 2432.3 L479.1 2434.7 L479.2 2437.1 L479.2 2439.5 L479.2 2441.9 L479.3 2444.3 L479.3 2446.7 L479.4 2449.1 L479.4 2451.5 L479.5 2453.9 L479.5 2456.3 L479.6 2458.8 L479.6 2461.2 L479.7 2463.6 L479.7 2466.1 L479.7 2468.6 L479.8 2471.1 L479.8 2473.6 L479.9 2476.1 L479.9 2478.6 L480.0 2481.2 L480.0 2483.8 L480.0 2486.4 L480.1 2489.1 L480.1 2491.8 L480.2 2494.5 L480.2 2497.2 L480.3 2500.0 L480.3 2502.2 L480.3 2504.5 L480.4 2506.7 L480.4 2509.0 L480.4 2511.3 L480.5 2513.6 L480.5 2515.9 L480.5 2518.3 L480.6 2520.6 L480.6 2523.0 L480.6 2525.4 L480.7 2527.8 L480.7 2530.3 L480.7 2532.7 L480.8 2535.2 L480.8 2537.6 L480.8 2540.1 L480.9 2542.6 L480.9 2545.1 L480.9 2547.6 L481.0 2550.1 L481.0 2552.6 L481.0 2555.2 L481.1 2557.7 L481.1 2560.3 L481.1 2562.8 L481.2 2565.4 L481.2 2568.0 L481.2 2570.6 L481.3 2573.1 L481.3 2575.7 L481.3 2578.3 L481.4 2580.9 L481.4 2583.5 L481.4 2586.1 L481.4 2588.7 L481.5 2591.3 L481.5 2593.9 L481.5 2596.5 L481.6 2599.1 L481.6 2601.7 L481.6 2604.3 L481.7 2606.9 L481.7 2609.5 L481.7 2612.1 L481.8 2614.7 L481.8 2617.3 L481.8 2619.9 L481.8 2622.4 L481.9 2625.0 L481.9 2627.6 L481.9 2630.1 L482.0 2632.7 L482.0 2635.2 L482.0 2637.7 L482.1 2640.3 L482.1 2642.8 L482.1 2645.3 L482.1 2647.8 L482.2 2650.2 L482.2 2652.7 L482.2 2655.1 L482.3 2657.6 L482.3 2660.0 L482.3 2662.6 L482.3 2665.2 L482.4 2667.8 L482.4 2670.3 L482.4 2672.9 L482.4 2675.5 L482.5 2678.1 L482.5 2680.7 L482.5 2683.3 L482.5 2685.9 L482.6 2688.5 L482.6 2691.0 L482.6 2693.6 L482.6 2696.2 L482.7 2698.8 L482.7 2701.4 L482.7 2703.9 L482.7 2706.5 L482.8 2709.1 L482.8 2711.7 L482.8 2714.2 L482.8 2716.8 L482.8 2719.3 L482.9 2721.9 L482.9 2724.4 L482.9 2727.0 L482.9 2729.5 L483.0 2732.1 L483.0 2734.6 L483.0 2737.1 L483.0 2739.6 L483.0 2742.1 L483.1 2744.6 L483.1 2747.1 L483.1 2749.6 L483.1 2752.1 L483.2 2754.6 L483.2 2757.1 L483.2 2759.5 L483.2 2762.0 L483.3 2764.4 L483.3 2766.9 L483.3 2769.3 L483.3 2771.7 L483.4 2774.1 L483.4 2776.5 L483.4 2778.9 L483.5 2781.3 L483.5 2783.7 L483.5 2786.0 L483.6 2788.4 L483.6 2790.7 L483.6 2793.1 L483.7 2795.4 L483.7 2797.7 L483.7 2800.0 L483.8 2802.7 L483.8 2805.4 L483.9 2808.0 L483.9 2810.7 L484.0 2813.3 L484.0 2815.9 L484.1 2818.5 L484.1 2821.1 L484.2 2823.6 L484.2 2826.2 L484.3 2828.7 L484.3 2831.2 L484.4 2833.7 L484.4 2836.2 L484.5 2838.7 L484.5 2841.2 L484.6 2843.7 L484.6 2846.1 L484.7 2848.6 L484.8 2851.0 L484.8 2853.5 L484.9 2855.9 L484.9 2858.4 L485.0 2860.8 L485.0 2863.2 L485.1 2865.7 L485.2 2868.1 L485.2 2870.5 L485.3 2873.0 L485.3 2875.4 L485.4 2877.8 L485.5 2880.3 L485.5 2882.7 L485.6 2885.2 L485.7 2887.6 L485.7 2890.1 L485.8 2892.5 L485.8 2895.0 L485.9 2897.5 L486.0 2900.0 L486.0 2902.5 L486.1 2905.0 L486.2 2907.6 L486.2 2910.2 L486.3 2912.7 L486.3 2915.3 L486.4 2917.9 L486.5 2920.5 L486.5 2923.2 L486.6 2925.8 L486.7 2928.4 L486.7 2931.1 L486.8 2933.7 L486.8 2936.4 L486.9 2939.0 L487.0 2941.6 L487.0 2944.3 L487.1 2946.9 L487.2 2949.5 L487.2 2952.1 L487.3 2954.7 L487.4 2957.3 L487.4 2959.9 L487.5 2962.5 L487.6 2965.0 L487.6 2967.5 L487.7 2970.0 L487.8 2972.5 L487.9 2975.0 L487.9 2977.4 L488.0 2979.8 L488.1 2982.2 L488.2 2984.5 L488.2 2986.8 L488.3 2989.1 L488.4 2991.4 L488.5 2993.6 L488.6 2995.8 L488.7 2997.9 L488.8 3000.0 L488.9 3002.9 L489.0 3005.7 L489.1 3008.5 L489.3 3011.3 L489.4 3013.9 L489.5 3016.6 L489.7 3019.2 L489.8 3021.7 L490.0 3024.2 L490.1 3026.7 L490.3 3029.2 L490.4 3031.6 L490.6 3033.9 L490.7 3036.3 L490.9 3038.6 L491.0 3040.9 L491.2 3043.2 L491.4 3045.5 L491.6 3047.7 L491.8 3050.0 L492.0 3052.7 L492.3 3055.4 L492.5 3058.0 L492.8 3060.5 L493.1 3063.0 L493.4 3065.5 L493.7 3067.9 L494.0 3070.4 L494.2 3072.8 L494.5 3075.2 L494.8 3077.6 L495.1 3080.1 L495.4 3082.6 L496.1 3080.0 L496.8 3077.5 L497.5 3075.0 L498.2 3072.4 L498.9 3069.8 L499.6 3067.2 L500.3 3064.5 L501.0 3062.0 L501.7 3059.3 L502.3 3056.7 L503.0 3053.9 L503.7 3051.2 L504.4 3048.5 L505.1 3045.8 L505.8 3043.1 L506.5 3040.5 L507.3 3037.9 L508.0 3035.4 L508.7 3032.9 L509.5 3030.4 L510.2 3027.9 L511.0 3025.4 L511.8 3023.0 L512.7 3020.5 L513.6 3018.0 L514.5 3015.4 L515.5 3012.9 L516.5 3010.4 L517.5 3007.9 L518.6 3005.4 L519.7 3003.0 L520.9 3000.7 L522.2 2998.2 L523.5 2995.8 L525.0 2993.4 L526.4 2991.1 L527.9 2988.9 L529.4 2986.7 L530.9 2984.7 L532.8 2982.4 L534.7 2980.3 L536.7 2978.3 L538.7 2976.4 L540.8 2974.7 L543.2 2972.9 L545.6 2971.3 L548.1 2969.9 L550.7 2968.7 L553.0 2967.7 L555.4 2966.9 L557.8 2966.3 L560.6 2965.7 L562.7 2965.3 L565.1 2965.0 L567.6 2964.6 L570.2 2964.4 L572.8 2964.2 L575.5 2964.0 L578.1 2963.9 L580.6 2963.8 L583.4 2963.8 L586.2 2963.8 L588.9 2963.9 L591.7 2964.1 L594.4 2964.3 L597.2 2964.5 L600.0 2964.8 L602.4 2965.2 L604.9 2965.5 L607.4 2965.9 L609.9 2966.3 L612.5 2966.8 L615.0 2967.3 L617.5 2967.8 L620.0 2968.3 L622.5 2968.8 L625.0 2969.4 L627.5 2970.0 L630.0 2970.6 L632.6 2971.2 L635.1 2971.8 L637.6 2972.4 L640.1 2973.0 L642.6 2973.5 L645.1 2974.1 L647.6 2974.6 L650.1 2975.1 L652.6 2975.6 L655.1 2976.2 L657.6 2976.7 L660.1 2977.2 L662.6 2977.7 L665.1 2978.2 L667.6 2978.7 L670.2 2979.2 L672.7 2979.7 L675.2 2980.2 L677.7 2980.6 L680.2 2981.1 L682.7 2981.6 L685.2 2982.0 L687.7 2982.5 L690.2 2982.9 L692.7 2983.3 L695.2 2983.7 L697.7 2984.2 L700.2 2984.6 L702.7 2985.0 L705.2 2985.5 L707.7 2985.9 L710.2 2986.3 L712.7 2986.7 L715.2 2987.2 L717.7 2987.6 L720.2 2988.0 L722.7 2988.4 L725.2 2988.9 L727.7 2989.3 L730.2 2989.7 L732.8 2990.2 L735.3 2990.6 L737.8 2991.1 L740.3 2991.5 L742.8 2991.9 L745.3 2992.4 L747.8 2992.8 L750.3 2993.2 L752.8 2993.7 L755.3 2994.1 L757.8 2994.6 L760.3 2995.1 L762.8 2995.6 L765.3 2996.0 L767.8 2996.5 L770.3 2997.0 L772.8 2997.5 L775.4 2998.1 L777.9 2998.6 L780.3 2999.2 L782.9 2999.8 L785.3 3000.5 L787.8 3001.1 L790.3 3001.8 L792.8 3002.5 L795.3 3003.3 L797.8 3004.1 L800.2 3004.9 L802.8 3005.9 L805.5 3006.9 L808.1 3008.0 L810.8 3009.1 L813.3 3010.2 L815.8 3011.3 L818.2 3012.3 L820.4 3013.3 L823.1 3014.6 L825.6 3015.8 L828.0 3017.0 L830.4 3018.3 L832.9 3019.7 L835.4 3021.2 L837.9 3022.8 L840.4 3024.4 L842.4 3025.9 L844.4 3027.4 L846.4 3029.0 L848.4 3030.7 L850.4 3032.4 L852.5 3034.1 L854.5 3035.9 L856.4 3037.7 L858.4 3039.5 L860.4 3041.5 L862.4 3043.6 L864.5 3045.8 L866.5 3048.0 L868.4 3050.3 L870.2 3052.5 L872.0 3055.0 L873.5 3057.4 L875.1 3059.8 L876.6 3062.3 L878.0 3064.4 L879.4 3066.6 L880.8 3068.9 L882.2 3071.1 L883.6 3073.3 L884.5 3070.8 L885.5 3068.4 L886.4 3065.9 L887.3 3063.3 L888.0 3060.4 L888.5 3058.2 L888.9 3055.8 L889.3 3053.3 L889.6 3050.7 L889.9 3048.1 L890.2 3045.3 L890.5 3042.5 L890.7 3039.6 L891.0 3036.7 L891.2 3033.8 L891.4 3031.5 L891.6 3029.1 L891.7 3026.7 L891.9 3024.2 L892.0 3021.6 L892.2 3019.0 L892.3 3016.4 L892.4 3013.8 L892.5 3011.2 L892.6 3008.6 L892.7 3006.0 L892.8 3003.4 L892.9 3000.9 L893.1 2998.5 L893.2 2996.1 L893.3 2993.8 L893.4 2990.9 L893.6 2988.2 L893.7 2985.5 L893.9 2983.0 L894.0 2980.4 L894.1 2977.8 L894.3 2975.3 L894.4 2972.6 L894.6 2969.9 L894.7 2967.0 L894.8 2964.7 L894.9 2962.4 L895.0 2960.0 L895.1 2957.6 L895.2 2955.1 L895.4 2952.6 L895.5 2950.1 L895.6 2947.5 L895.7 2944.9 L895.8 2942.4 L895.9 2939.8 L896.0 2937.2 L896.1 2934.6 L896.2 2932.1 L896.3 2929.5 L896.4 2927.0 L896.5 2924.5 L896.6 2922.0 L896.8 2919.5 L896.9 2917.0 L897.0 2914.5 L897.1 2912.0 L897.2 2909.5 L897.3 2907.0 L897.4 2904.4 L897.5 2901.9 L897.6 2899.4 L897.7 2896.9 L897.8 2894.4 L897.9 2891.9 L898.0 2889.4 L898.1 2886.9 L898.2 2884.4 L898.3 2881.9 L898.4 2879.3 L898.5 2876.8 L898.6 2874.2 L898.7 2871.7 L898.8 2869.2 L898.8 2866.6 L898.9 2864.1 L899.0 2861.6 L899.1 2859.1 L899.2 2856.6 L899.3 2854.1 L899.4 2851.6 L899.4 2849.2 L899.5 2846.8 L899.6 2844.1 L899.7 2841.4 L899.8 2838.8 L899.9 2836.1 L900.0 2833.5 L900.1 2830.9 L900.3 2828.3 L900.4 2825.7 L900.5 2823.2 L900.6 2820.7 L900.7 2818.2 L900.8 2815.8 L900.9 2813.4 L901.1 2810.5 L901.3 2807.7 L901.5 2804.9 L901.7 2802.2 L901.8 2799.5 L902.0 2796.8 L902.2 2794.1 L902.4 2791.4 L902.6 2788.7 L903.1 2791.3 L903.6 2793.8 L904.1 2796.4 L904.7 2799.0 L905.2 2801.5 L905.7 2804.1 L906.2 2806.8 L906.7 2809.4 L907.1 2812.0 L907.6 2814.6 L908.1 2817.2 L908.5 2819.9 L909.0 2822.6 L909.4 2825.2 L909.9 2828.0 L910.3 2830.7 L910.7 2833.4 L911.2 2836.0 L911.6 2838.7 L912.0 2841.4 L912.4 2844.1 L912.8 2846.8 L913.2 2849.5 L913.7 2852.2 L914.1 2854.9 L914.5 2857.6 L915.0 2860.2 L915.4 2862.9 L915.9 2865.7 L916.3 2868.4 L916.8 2871.1 L917.2 2873.8 L917.7 2876.4 L918.2 2879.0 L918.7 2881.6 L919.3 2884.1 L919.9 2886.9 L920.6 2889.7 L921.3 2892.3 L922.0 2895.0 L922.8 2897.6 L923.6 2900.2 L924.4 2902.8 L925.3 2905.5 L926.2 2908.2 L927.1 2910.9 L928.1 2913.6 L929.1 2916.2 L930.2 2918.8 L931.4 2921.4 L932.5 2923.8 L933.8 2926.1 L935.0 2928.4 L936.3 2930.7 L937.7 2932.9 L939.2 2935.1 L940.7 2937.2 L942.4 2939.5 L944.2 2941.7 L946.1 2943.9 L948.0 2946.0 L950.0 2948.1 L952.0 2950.0 L954.0 2951.9 L956.1 2953.7 L958.3 2955.4 L960.5 2957.0 L962.7 2958.5 L965.0 2959.9 L967.3 2961.2 L969.8 2962.6 L972.4 2963.8 L975.0 2964.9 L977.6 2966.0 L980.3 2967.0 L982.9 2968.1 L985.5 2969.1 L988.1 2970.0 L990.8 2970.9 L993.9 2971.8 L996.1 2972.4 L998.5 2973.0 L1001.0 2973.5 L1003.6 2974.0 L1006.3 2974.5 L1009.1 2975.0 L1011.8 2975.5 L1014.6 2976.0 L1017.3 2976.4 L1020.0 2976.9 L1022.5 2977.3 L1025.0 2977.7 L1027.4 2978.1 L1029.9 2978.4 L1032.4 2978.8 L1034.9 2979.1 L1037.4 2979.5 L1039.9 2979.8 L1042.5 2980.1 L1045.0 2980.4 L1047.6 2980.7 L1050.2 2981.0 L1052.9 2981.3 L1055.6 2981.5 L1058.3 2981.8 L1061.0 2982.0 L1063.7 2982.2 L1066.5 2982.5 L1069.2 2982.7 L1071.9 2982.9 L1074.6 2983.1 L1077.3 2983.3 L1080.0 2983.5 L1082.5 2983.7 L1085.0 2983.9 L1087.4 2984.1 L1089.8 2984.3 L1092.2 2984.5 L1094.6 2984.7 L1097.0 2984.9 L1099.5 2985.0 L1102.0 2985.2 L1104.6 2985.3 L1107.3 2985.5 L1110.0 2985.6 L1112.2 2985.7 L1114.5 2985.7 L1116.8 2985.8 L1119.2 2985.9 L1121.7 2985.9 L1124.1 2986.0 L1126.6 2986.0 L1129.2 2986.1 L1131.7 2986.1 L1134.3 2986.1 L1136.9 2986.2 L1139.5 2986.2 L1142.1 2986.2 L1144.7 2986.2 L1147.4 2986.2 L1150.0 2986.2 L1152.6 2986.2 L1155.1 2986.1 L1157.7 2986.1 L1160.2 2986.1 L1162.7 2986.0 L1165.2 2986.0 L1167.7 2986.0 L1170.2 2985.9 L1172.7 2985.8 L1175.2 2985.8 L1177.7 2985.7 L1180.2 2985.6 L1182.7 2985.6 L1185.3 2985.5 L1187.8 2985.4 L1190.3 2985.3 L1192.8 2985.2 L1195.3 2985.1 L1197.8 2984.9 L1200.3 2984.8 L1202.8 2984.7 L1205.3 2984.5 L1207.8 2984.4 L1210.3 2984.2 L1213.0 2984.1 L1215.7 2983.9 L1218.6 2983.6 L1221.5 2983.4 L1224.5 2983.2 L1227.5 2982.9 L1230.6 2982.7 L1233.6 2982.4 L1236.5 2982.1 L1239.4 2981.9 L1242.3 2981.6 L1245.0 2981.3 L1247.7 2981.1 L1250.2 2980.8 L1252.5 2980.6 L1254.7 2980.4 L1256.7 2980.2 L1258.4 2980.0 L1260.0 2979.8 L1263.8 2979.3 L1266.9 2978.8 L1270.4 2978.3 L1273.8 2977.7 L1277.2 2977.1 L1280.7 2976.5 L1284.1 2975.8 L1287.6 2975.2 L1291.1 2974.5 L1294.5 2973.8 L1297.9 2973.0 L1301.3 2972.3 L1304.7 2971.5 L1308.2 2970.7 L1311.6 2969.8 L1315.0 2969.0 L1318.4 2968.1 L1321.8 2967.2 L1325.1 2966.2 L1328.5 2965.2 L1331.8 2964.1 L1335.2 2963.1 L1338.5 2961.9 L1341.8 2960.8 L1345.1 2959.6 L1348.4 2958.4 L1351.7 2957.0 L1355.0 2955.7 L1358.2 2954.3 L1361.4 2952.9 L1364.6 2951.3 L1367.8 2949.8 L1370.9 2948.2 L1374.0 2946.6 L1377.1 2944.8 L1380.2 2943.1 L1383.2 2941.2 L1386.2 2939.3 L1389.1 2937.3 L1392.0 2935.3 L1394.8 2933.1 L1397.7 2931.0 L1400.4 2928.7 L1403.2 2926.5 L1405.8 2924.1 L1408.5 2921.7 L1411.0 2919.1 L1413.6 2916.6 L1416.0 2914.0 L1418.5 2911.4 L1420.8 2908.6 L1423.1 2905.9 L1425.3 2903.0 L1427.5 2900.2 L1429.6 2897.3 L1431.7 2894.4 L1433.7 2891.4 L1435.7 2888.4 L1437.5 2885.3 L1439.4 2882.2 L1441.2 2879.0 L1442.9 2875.9 L1444.6 2872.7 L1446.3 2869.6 L1447.8 2866.3 L1449.4 2863.1 L1450.9 2859.8 L1452.4 2856.5 L1453.8 2853.2 L1455.2 2849.9 L1456.5 2846.5 L1457.9 2843.2 L1459.1 2839.8 L1460.4 2836.5 L1461.6 2833.1 L1462.8 2829.7 L1463.9 2826.3 L1465.1 2822.9 L1466.1 2819.5 L1467.2 2816.1 L1468.2 2812.7 L1469.3 2809.2 L1470.2 2805.7 L1471.2 2802.3 L1472.2 2798.8 L1473.1 2795.4 L1474.0 2792.0 L1474.9 2788.5 L1475.7 2785.0 L1476.6 2781.5 L1477.4 2778.0 L1478.2 2774.5 L1479.0 2771.0 L1479.8 2767.6 L1480.5 2764.1 L1481.3 2760.6 L1482.0 2757.1 L1482.7 2753.6 L1483.4 2750.1 L1484.1 2746.6 L1484.8 2743.1 L1485.5 2739.6 L1486.1 2736.1 L1486.8 2732.6 L1487.4 2729.1 L1488.0 2725.6 L1488.6 2722.1 L1489.2 2718.6 L1489.8 2715.1 L1490.4 2711.6 L1490.9 2708.1 L1491.5 2704.6 L1492.1 2701.1 L1492.6 2697.5 L1493.2 2694.0 L1493.7 2690.5 L1494.2 2687.0 L1494.8 2683.5 L1495.3 2680.0 L1495.8 2676.5 L1496.3 2673.0 L1496.7 2669.4 L1497.2 2665.9 L1497.7 2662.4 L1498.1 2658.9 L1498.6 2655.4 L1499.1 2651.9 L1499.5 2648.4 L1500.0 2644.9 L1500.4 2641.3 L1500.8 2637.8 L1501.3 2634.3 L1501.7 2630.8 L1502.1 2627.3 L1502.5 2623.8 L1502.9 2620.2 L1503.3 2616.7 L1503.7 2613.2 L1504.1 2609.7 L1504.5 2606.2 L1504.9 2602.7 L1505.3 2599.2 L1505.7 2595.6 L1506.1 2592.1 L1506.4 2588.6 L1506.8 2585.1 L1507.2 2581.6 L1507.5 2578.1 L1507.9 2574.6 L1508.3 2571.1 L1508.6 2567.5 L1509.0 2564.0 L1509.3 2560.5 L1509.7 2557.0 L1510.0 2553.5 L1510.3 2550.0 L1510.7 2546.5 L1511.0 2543.0 L1511.3 2539.4 L1511.7 2535.9 L1512.0 2532.4 L1512.3 2528.9 L1512.7 2525.4 L1513.0 2521.9 L1513.3 2518.4 L1513.6 2514.9 L1513.9 2511.4 L1514.2 2507.9 L1514.5 2504.4 L1514.8 2500.9 L1515.1 2497.4 L1515.4 2493.8 L1515.8 2490.3 L1516.1 2486.8 L1516.4 2483.3 L1516.7 2479.8 L1517.0 2476.3 L1517.2 2472.8 L1517.5 2469.3 L1517.8 2465.8 L1518.1 2462.3 L1518.4 2458.8 L1518.7 2455.3 L1519.0 2451.8 L1519.3 2448.3 L1519.6 2444.8 L1519.8 2441.3 L1520.1 2437.8 L1520.4 2434.3 L1520.7 2430.8 L1521.0 2427.3 L1521.3 2423.8 L1521.6 2420.3 L1521.8 2416.8 L1522.1 2413.4 L1522.4 2409.9 L1522.7 2406.4 L1523.0 2402.9 L1523.3 2399.4 L1523.5 2395.9 L1523.8 2392.4 L1524.1 2388.9 L1524.3 2385.4 L1524.6 2382.0 L1524.9 2378.5 L1525.2 2375.0 L1525.5 2371.5 L1525.8 2368.0 L1526.1 2364.5 L1526.4 2361.1 L1526.6 2357.6 L1526.9 2354.1 L1527.2 2350.6 L1527.5 2347.2 L1527.8 2343.7 L1528.1 2340.3 L1528.4 2336.9 L1528.7 2333.4 L1529.0 2329.9 L1529.3 2326.5 L1529.6 2323.0 L1529.9 2319.6 L1530.2 2316.2 L1530.5 2312.7 L1530.8 2309.4 L1531.2 2305.8 L1531.4 2303.3 L1531.7 2300.6 L1532.0 2297.7 L1532.3 2294.6 L1532.7 2291.3 L1533.0 2289.0 L1533.3 2286.5 L1533.6 2283.9 L1533.9 2281.2 L1534.3 2278.5 L1534.6 2275.7 L1535.0 2272.9 L1535.4 2270.2 L1535.7 2267.6 L1536.1 2265.0 L1536.4 2262.2 L1536.8 2259.5 L1537.2 2256.8 L1537.6 2254.2 L1538.0 2251.5 L1538.3 2248.9 L1538.7 2246.3 L1539.1 2243.6 L1539.6 2246.3 L1540.2 2248.9 L1540.8 2251.5 L1541.3 2254.2 L1541.9 2256.8 L1542.4 2259.5 L1542.9 2262.3 L1543.4 2265.1 L1543.7 2267.6 L1544.0 2270.0 L1544.3 2272.6 L1544.6 2275.1 L1544.9 2277.7 L1545.1 2280.3 L1545.4 2282.9 L1545.6 2285.6 L1545.8 2288.4 L1546.1 2291.3 L1546.3 2293.6 L1546.5 2296.0 L1546.6 2298.4 L1546.8 2300.9 L1547.0 2303.4 L1547.2 2305.9 L1547.4 2308.5 L1547.5 2311.1 L1547.7 2313.7 L1547.9 2316.4 L1548.0 2319.0 L1548.2 2321.6 L1548.3 2324.3 L1548.5 2326.9 L1548.6 2329.4 L1548.8 2332.0 L1548.9 2334.5 L1549.1 2337.0 L1549.2 2339.5 L1549.4 2342.0 L1549.5 2344.5 L1549.6 2347.0 L1549.8 2349.5 L1549.9 2352.0 L1550.0 2354.5 L1550.1 2357.0 L1550.3 2359.5 L1550.4 2362.1 L1550.5 2364.6 L1550.6 2367.2 L1550.8 2369.8 L1550.9 2372.5 L1551.0 2374.9 L1551.2 2377.3 L1551.3 2379.8 L1551.4 2382.3 L1551.5 2384.8 L1551.7 2387.3 L1551.8 2389.8 L1551.9 2392.4 L1552.1 2394.9 L1552.2 2397.5 L1552.3 2400.1 L1552.4 2402.6 L1552.6 2405.2 L1552.7 2407.8 L1552.8 2410.4 L1553.0 2413.0 L1553.1 2415.5 L1553.2 2418.1 L1553.4 2420.7 L1553.5 2423.2 L1553.6 2425.7 L1553.7 2428.3 L1553.9 2430.9 L1554.0 2433.4 L1554.1 2436.0 L1554.3 2438.6 L1554.4 2441.2 L1554.5 2443.8 L1554.6 2446.4 L1554.8 2449.0 L1554.9 2451.5 L1555.0 2454.1 L1555.1 2456.6 L1555.3 2459.2 L1555.4 2461.7 L1555.5 2464.2 L1555.6 2466.7 L1555.8 2469.2 L1555.9 2471.6 L1556.0 2474.0 L1556.1 2476.6 L1556.3 2479.3 L1556.4 2481.8 L1556.5 2484.3 L1556.6 2486.8 L1556.8 2489.3 L1556.9 2491.8 L1557.0 2494.3 L1557.1 2496.7 L1557.2 2499.2 L1557.4 2501.7 L1557.5 2504.2 L1557.6 2506.7 L1557.7 2509.3 L1557.9 2511.9 L1558.0 2514.5 L1558.1 2516.9 L1558.2 2519.3 L1558.3 2521.8 L1558.5 2524.3 L1558.6 2526.8 L1558.7 2529.3 L1558.8 2531.9 L1558.9 2534.4 L1559.1 2537.0 L1559.2 2539.5 L1559.3 2542.1 L1559.4 2544.7 L1559.6 2547.3 L1559.7 2549.9 L1559.8 2552.5 L1559.9 2555.0 L1560.1 2557.6 L1560.2 2560.2 L1560.3 2562.8 L1560.4 2565.3 L1560.6 2567.8 L1560.7 2570.4 L1560.8 2572.9 L1561.0 2575.4 L1561.1 2578.0 L1561.2 2580.5 L1561.4 2583.0 L1561.5 2585.6 L1561.6 2588.1 L1561.7 2590.7 L1561.9 2593.2 L1562.0 2595.7 L1562.1 2598.3 L1562.3 2600.8 L1562.4 2603.3 L1562.5 2605.9 L1562.6 2608.4 L1562.8 2610.9 L1562.9 2613.5 L1563.0 2616.0 L1563.1 2618.6 L1563.2 2621.1 L1563.3 2623.7 L1563.4 2626.3 L1563.6 2628.9 L1563.7 2631.5 L1563.8 2634.2 L1563.9 2636.8 L1564.0 2639.4 L1564.1 2642.0 L1564.2 2644.6 L1564.3 2647.2 L1564.4 2649.7 L1564.5 2652.3 L1564.6 2654.8 L1564.7 2657.2 L1564.8 2659.7 L1564.9 2662.1 L1565.0 2664.4 L1565.0 2666.7 L1565.2 2669.5 L1565.2 2672.2 L1565.3 2674.7 L1565.4 2677.3 L1565.5 2679.8 L1565.6 2682.2 L1565.7 2684.6 L1565.8 2687.1 L1565.9 2689.6 L1566.0 2692.1 L1566.1 2694.6 L1566.2 2697.3 L1566.3 2700.0 L1566.5 2702.4 L1566.6 2704.8 L1566.7 2707.3 L1566.9 2709.8 L1567.1 2712.3 L1567.2 2714.9 L1567.4 2717.5 L1567.6 2720.1 L1567.7 2722.7 L1567.9 2725.3 L1568.1 2728.0 L1568.3 2730.7 L1568.5 2733.4 L1568.7 2736.0 L1568.9 2738.7 L1569.1 2741.4 L1569.2 2744.1 L1569.4 2746.8 L1569.6 2749.3 L1569.8 2751.7 L1570.0 2754.2 L1570.1 2756.8 L1570.3 2759.3 L1570.5 2761.8 L1570.7 2764.3 L1570.9 2766.9 L1571.1 2769.4 L1571.3 2772.0 L1571.5 2774.6 L1571.6 2777.1 L1571.8 2779.7 L1572.0 2782.3 L1572.2 2784.8 L1572.4 2787.4 L1572.6 2790.0 L1572.8 2792.5 L1573.0 2795.1 L1573.2 2797.7 L1573.4 2800.2 L1573.6 2802.8 L1573.8 2805.3 L1574.0 2807.9 L1574.2 2810.5 L1574.4 2813.1 L1574.6 2815.7 L1574.8 2818.3 L1575.0 2820.9 L1575.2 2823.5 L1575.4 2826.1 L1575.6 2828.7 L1575.8 2831.3 L1576.0 2833.9 L1576.2 2836.4 L1576.4 2839.0 L1576.6 2841.5 L1576.8 2844.0 L1577.0 2846.4 L1577.2 2848.9 L1577.4 2851.3 L1577.6 2853.7 L1577.8 2856.3 L1578.1 2858.9 L1578.3 2861.5 L1578.5 2864.0 L1578.8 2866.5 L1579.0 2868.9 L1579.2 2871.3 L1579.5 2873.8 L1579.7 2876.2 L1579.9 2878.6 L1580.2 2881.0 L1580.4 2883.5 L1580.7 2886.0 L1580.9 2888.6 L1581.2 2891.1 L1581.5 2893.8 L1581.7 2896.2 L1582.0 2898.6 L1582.2 2901.1 L1582.5 2903.6 L1582.7 2906.1 L1583.0 2908.7 L1583.2 2911.3 L1583.5 2913.9 L1583.8 2916.5 L1584.0 2919.2 L1584.3 2921.8 L1584.6 2924.4 L1584.9 2927.0 L1585.1 2929.7 L1585.4 2932.2 L1585.7 2934.8 L1586.0 2937.4 L1586.3 2939.9 L1586.6 2942.3 L1586.9 2944.8 L1587.3 2947.1 L1587.6 2949.8 L1588.0 2952.5 L1588.4 2955.1 L1588.8 2957.7 L1589.1 2960.2 L1589.5 2962.7 L1589.9 2965.3 L1590.3 2967.8 L1590.7 2970.2 L1591.1 2972.7 L1591.6 2975.1 L1592.0 2977.6 L1592.4 2980.0 L1592.9 2982.4 L1593.4 2984.8 L1593.8 2987.2 L1594.4 2989.8 L1594.9 2992.4 L1595.4 2994.9 L1596.0 2997.5 L1596.5 3000.0 L1597.1 3002.5 L1597.6 3005.0 L1598.2 3007.5 L1598.8 3010.0 L1599.4 3012.4 L1600.0 3014.8 L1600.7 3017.2 L1601.3 3019.5 L1602.0 3021.9 L1602.8 3024.4 L1603.5 3027.0 L1604.3 3029.5 L1605.1 3032.1 L1606.0 3034.5 L1606.8 3037.0 L1607.7 3039.4 L1608.6 3041.7 L1609.5 3044.0 L1610.4 3046.2 L1611.4 3048.4 L1612.6 3051.0 L1613.9 3053.5 L1615.1 3055.9 L1616.4 3058.3 L1617.8 3060.6 L1619.2 3062.8 L1620.7 3064.9 L1622.2 3066.9 L1623.9 3068.9 L1625.7 3070.7 L1627.5 3072.5 L1629.4 3074.1 L1631.3 3075.7 L1633.4 3077.1 L1635.5 3078.4 L1637.8 3079.6 L1640.3 3080.6 L1642.8 3081.5 L1645.4 3082.2 L1648.1 3082.9 L1650.9 3083.5 L1653.7 3084.0 L1656.1 3084.4 L1658.5 3084.8 L1661.0 3085.0 L1663.5 3085.2 L1666.1 3085.3 L1668.7 3085.4 L1671.5 3085.5 L1674.3 3085.6 L1677.2 3085.6 L1680.3 3085.6 L1682.4 3085.6 L1684.7 3085.6 L1687.0 3085.6 L1689.3 3085.6 L1691.8 3085.6 L1694.2 3085.5 L1696.8 3085.4 L1699.3 3085.3 L1701.9 3085.3 L1704.6 3085.2 L1707.2 3085.1 L1709.9 3084.9 L1712.6 3084.8 L1715.3 3084.7 L1718.0 3084.6 L1720.7 3084.5 L1723.3 3084.3 L1726.0 3084.2 L1728.6 3084.1 L1731.2 3084.0 L1733.8 3083.8 L1736.3 3083.7 L1738.9 3083.6 L1741.4 3083.5 L1744.0 3083.3 L1746.5 3083.2 L1749.1 3083.1 L1751.6 3082.9 L1754.1 3082.8 L1756.7 3082.6 L1759.2 3082.5 L1761.8 3082.3 L1764.3 3082.2 L1766.9 3082.0 L1769.4 3081.9 L1771.9 3081.7 L1774.5 3081.6 L1777.0 3081.4 L1779.6 3081.2 L1782.1 3081.1 L1784.7 3080.9 L1787.2 3080.8 L1789.7 3080.7 L1792.2 3080.5 L1794.7 3080.4 L1797.2 3080.2 L1799.7 3080.1 L1802.2 3079.9 L1804.6 3079.8 L1807.1 3079.6 L1809.5 3079.5 L1812.0 3079.3 L1814.5 3079.2 L1817.0 3079.0 L1819.5 3078.9 L1822.0 3078.7 L1824.6 3078.6 L1827.2 3078.5 L1829.8 3078.3 L1832.4 3078.2 L1835.1 3078.0 L1837.8 3077.9 L1840.6 3077.7 L1842.9 3077.6 L1845.3 3077.5 L1847.7 3077.4 L1850.2 3077.3 L1852.7 3077.1 L1855.3 3077.0 L1857.8 3076.9 L1860.4 3076.8 L1863.1 3076.6 L1865.7 3076.5 L1868.4 3076.4 L1871.0 3076.3 L1873.7 3076.1 L1876.4 3076.0 L1879.1 3075.9 L1881.8 3075.8 L1884.5 3075.7 L1887.2 3075.5 L1889.9 3075.4 L1892.5 3075.3 L1895.2 3075.2 L1897.8 3075.1 L1900.4 3075.0 L1903.0 3074.9 L1905.6 3074.8 L1908.1 3074.7 L1910.5 3074.6 L1913.0 3074.5 L1915.4 3074.4 L1917.7 3074.3 L1920.0 3074.3 L1922.8 3074.2 L1925.5 3074.1 L1928.1 3074.0 L1930.8 3074.0 L1933.3 3073.9 L1935.9 3073.8 L1938.4 3073.8 L1940.9 3073.7 L1943.4 3073.7 L1945.8 3073.6 L1948.2 3073.6 L1950.6 3073.6 L1953.1 3073.5 L1955.5 3073.5 L1957.9 3073.4 L1960.3 3073.4 L1962.7 3073.4 L1965.1 3073.3 L1967.5 3073.3 L1970.0 3073.3 L1972.5 3073.2 L1975.1 3073.2 L1977.6 3073.2 L1980.1 3073.2 L1982.6 3073.1 L1985.1 3073.1 L1987.6 3073.1 L1990.1 3073.1 L1992.6 3073.1 L1995.1 3073.0 L1997.6 3073.0 L2000.1 3073.0 L2002.6 3073.0 L2005.1 3073.0 L2007.6 3073.0 L2010.1 3073.0 L2012.6 3072.9 L2015.1 3072.9 L2017.6 3072.9" fill="none" stroke="#1A6FDF" stroke-width="5" stroke-linejoin="round" stroke-linecap="butt"/></g>
<g font-size="64" fill="#000">
<text x="441.9" y="3325.5" text-anchor="middle">600</text>
<text x="835.2" y="3325.5" text-anchor="middle">800</text>
<text x="1228.5" y="3325.5" text-anchor="middle">1000</text>
<text x="1621.8" y="3325.5" text-anchor="middle">1200</text>
<text x="2015.1" y="3325.5" text-anchor="middle">1400</text>
<text x="275" y="1825.2" text-anchor="end">0.8</text>
<text x="275" y="2145.5" text-anchor="end">0.6</text>
<text x="275" y="2463.6" text-anchor="end">0.4</text>
<text x="275" y="2784.5" text-anchor="end">0.2</text>
<text x="275" y="3102.6" text-anchor="end">0.0</text>
</g>
<text x="1163.5" y="3447.4" text-anchor="middle" font-weight="bold" font-size="77.6">Wavelength(nm)</text>
<text transform="translate(112 2479) rotate(-90)" text-anchor="middle" font-weight="bold" font-size="77.6">Transmittance</text>
<path d="M1376.1 1927.4 H1533.1" stroke="#515151" stroke-width="5" fill="none"/>
<text x="1551.2" y="1953.4" font-size="77.0">d=25nm</text>
<path d="M1376.1 2023.3 H1533.1" stroke="#F04040" stroke-width="5" fill="none"/>
<text x="1551.2" y="2049.6" font-size="77.0">d=30nm</text>
<path d="M1376.1 2119.2 H1533.1" stroke="#1A6FDF" stroke-width="5" fill="none"/>
<text x="1551.2" y="2145.8" font-size="77.0">d=35nm</text>
<text x="681" y="2025.3" font-weight="bold" font-size="99" letter-spacing="1.5">(b)</text>
</g>
</svg>
</body>
</html>
